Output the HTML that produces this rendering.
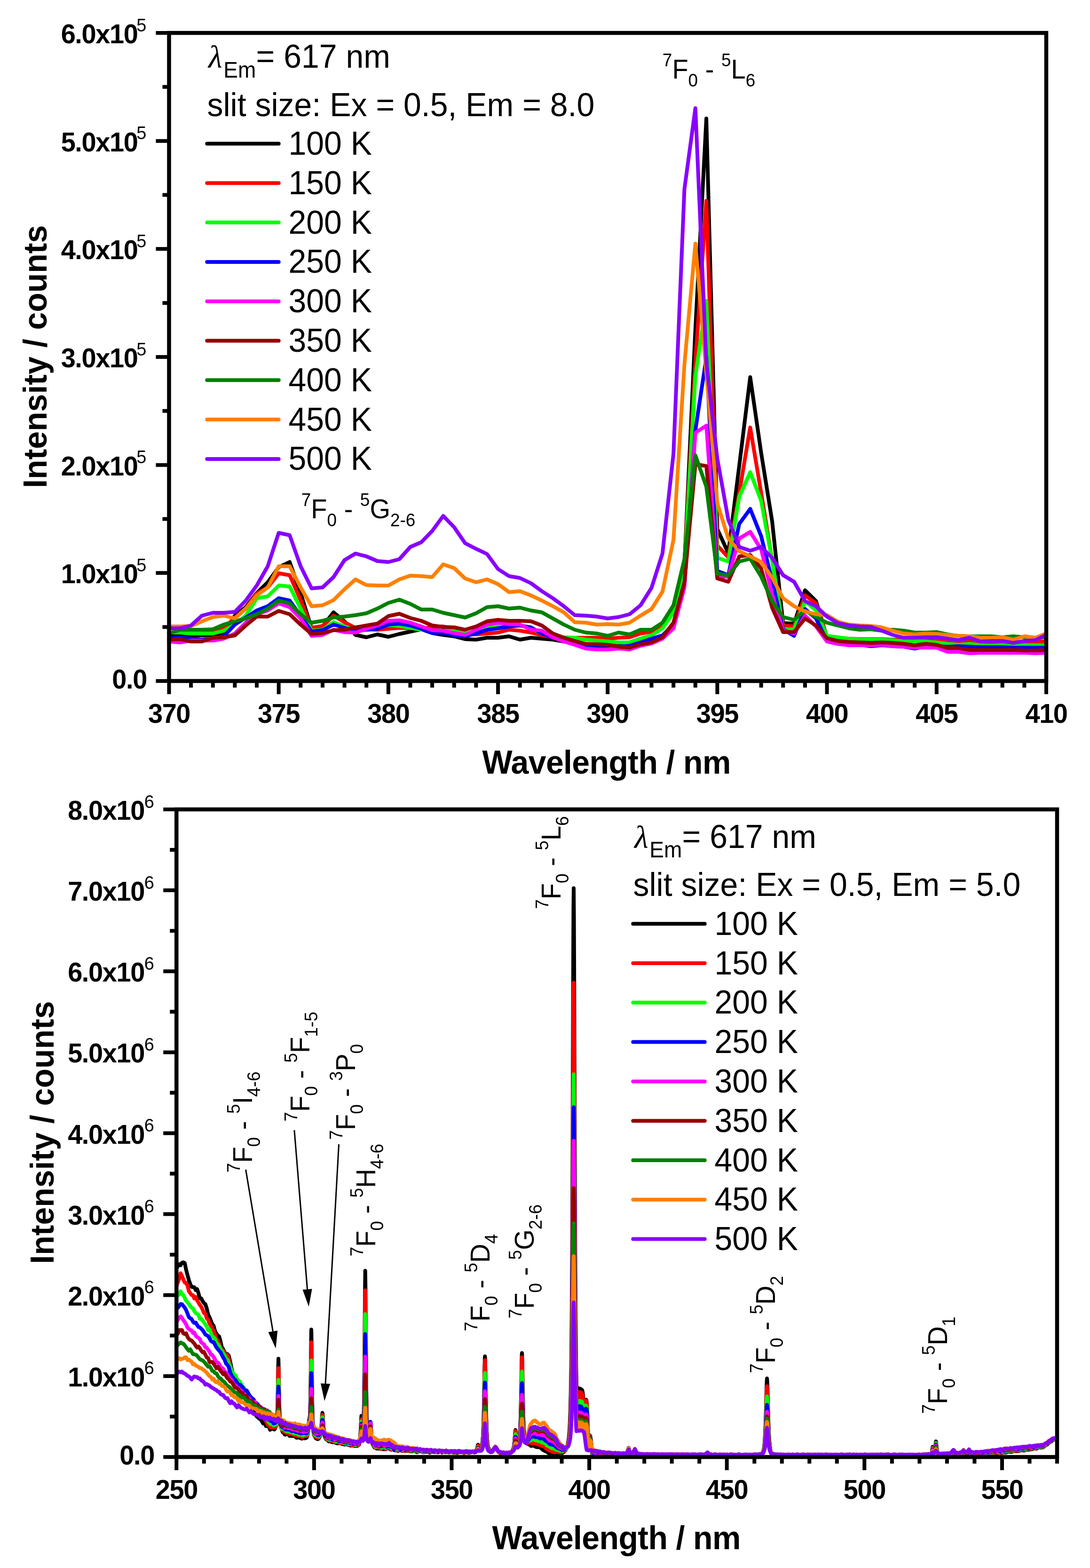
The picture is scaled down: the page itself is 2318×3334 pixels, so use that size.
<!DOCTYPE html><html><head><meta charset="utf-8"><style>html,body{margin:0;padding:0;background:#fff}svg{display:block}</style></head><body><svg width="2318" height="3334" viewBox="0 0 2318 3334">
<style>text{font-family:'Liberation Sans', Arial, sans-serif;fill:#000}.tl{font-weight:bold;font-size:56px;letter-spacing:-1.4px}.sp{font-size:38px}.ti{font-weight:bold;font-size:68px}.lg{font-size:68px}.an{font-size:56px}.an .s{font-size:37px}</style>
<rect width="2318" height="3334" fill="#fff"/>
<path d="M359.5 1349.0L382.8 1350.0L406.1 1351.0L429.5 1351.0L452.8 1350.0L476.1 1347.0L499.4 1309.0L522.7 1291.0L546.0 1261.0L569.4 1238.0L592.7 1206.0L616.0 1195.0L639.3 1261.0L662.6 1336.0L686.0 1332.0L709.3 1302.0L732.6 1321.0L755.9 1350.0L779.2 1355.0L802.6 1349.0L825.9 1354.0L849.2 1348.0L872.5 1343.0L895.8 1338.0L919.1 1346.0L942.5 1350.0L965.8 1353.0L989.1 1359.0L1012.4 1360.0L1035.7 1356.0L1059.1 1356.0L1082.4 1353.0L1105.7 1360.0L1129.0 1356.0L1152.3 1358.0L1175.7 1360.0L1199.0 1364.0L1222.3 1368.0L1245.6 1370.0L1268.9 1370.0L1292.2 1370.0L1315.6 1368.0L1338.9 1366.0L1362.2 1358.0L1385.5 1351.0L1408.8 1334.0L1432.2 1295.0L1455.5 1200.0L1478.8 700.0L1502.1 252.0L1525.4 1125.0L1548.8 1176.0L1572.1 990.0L1595.4 802.0L1618.7 963.0L1642.0 1108.0L1665.3 1325.0L1688.7 1326.0L1712.0 1255.0L1735.3 1278.0L1758.6 1355.0L1781.9 1361.0L1805.3 1366.0L1828.6 1368.0L1851.9 1370.0L1875.2 1370.0L1898.5 1371.0L1921.9 1372.0L1945.2 1373.0L1968.5 1372.0L1991.8 1372.0L2015.1 1373.0L2038.5 1373.0L2061.8 1374.0L2085.1 1375.0L2108.4 1375.0L2131.7 1375.0L2155.0 1375.0L2178.4 1372.0L2201.7 1371.0L2225.0 1371.0" fill="none" stroke="#000000" stroke-width="8" stroke-linejoin="round" stroke-linecap="round"/>
<path d="M359.5 1345.0L382.8 1345.0L406.1 1341.0L429.5 1341.0L452.8 1341.0L476.1 1336.0L499.4 1313.0L522.7 1294.0L546.0 1262.0L569.4 1249.0L592.7 1219.0L616.0 1223.0L639.3 1276.0L662.6 1335.0L686.0 1331.0L709.3 1309.0L732.6 1323.0L755.9 1335.0L779.2 1338.0L802.6 1339.0L825.9 1337.0L849.2 1335.0L872.5 1336.0L895.8 1336.0L919.1 1334.0L942.5 1332.0L965.8 1339.0L989.1 1347.0L1012.4 1349.0L1035.7 1347.0L1059.1 1345.0L1082.4 1339.0L1105.7 1341.0L1129.0 1345.0L1152.3 1351.0L1175.7 1355.0L1199.0 1356.0L1222.3 1356.0L1245.6 1356.0L1268.9 1356.0L1292.2 1358.0L1315.6 1356.0L1338.9 1355.0L1362.2 1347.0L1385.5 1343.0L1408.8 1332.0L1432.2 1298.0L1455.5 1200.0L1478.8 770.0L1502.1 427.0L1525.4 1160.0L1548.8 1185.0L1572.1 1048.0L1595.4 909.0L1618.7 1048.0L1642.0 1191.0L1665.3 1330.0L1688.7 1332.0L1712.0 1266.0L1735.3 1283.0L1758.6 1355.0L1781.9 1357.0L1805.3 1358.0L1828.6 1359.0L1851.9 1359.0L1875.2 1359.0L1898.5 1360.0L1921.9 1360.0L1945.2 1361.0L1968.5 1361.0L1991.8 1361.0L2015.1 1362.0L2038.5 1364.0L2061.8 1364.0L2085.1 1366.0L2108.4 1366.0L2131.7 1366.0L2155.0 1365.0L2178.4 1365.0L2201.7 1364.0L2225.0 1364.0" fill="none" stroke="#FF0000" stroke-width="8" stroke-linejoin="round" stroke-linecap="round"/>
<path d="M359.5 1345.0L382.8 1345.0L406.1 1347.0L429.5 1347.0L452.8 1347.0L476.1 1341.0L499.4 1328.0L522.7 1309.0L546.0 1272.0L569.4 1268.0L592.7 1245.0L616.0 1247.0L639.3 1294.0L662.6 1341.0L686.0 1339.0L709.3 1323.0L732.6 1332.0L755.9 1340.0L779.2 1339.0L802.6 1335.0L825.9 1329.0L849.2 1331.0L872.5 1335.0L895.8 1339.0L919.1 1341.0L942.5 1340.0L965.8 1342.0L989.1 1347.0L1012.4 1343.0L1035.7 1336.0L1059.1 1330.0L1082.4 1330.0L1105.7 1330.0L1129.0 1336.0L1152.3 1347.0L1175.7 1351.0L1199.0 1355.0L1222.3 1356.0L1245.6 1360.0L1268.9 1362.0L1292.2 1364.0L1315.6 1366.0L1338.9 1366.0L1362.2 1358.0L1385.5 1351.0L1408.8 1336.0L1432.2 1302.0L1455.5 1208.0L1478.8 800.0L1502.1 640.0L1525.4 1186.0L1548.8 1194.0L1572.1 1056.0L1595.4 1004.0L1618.7 1065.0L1642.0 1191.0L1665.3 1338.0L1688.7 1338.0L1712.0 1278.0L1735.3 1298.0L1758.6 1352.0L1781.9 1355.0L1805.3 1358.0L1828.6 1360.0L1851.9 1360.0L1875.2 1360.0L1898.5 1361.0L1921.9 1364.0L1945.2 1363.0L1968.5 1364.0L1991.8 1366.0L2015.1 1369.0L2038.5 1371.0L2061.8 1369.0L2085.1 1372.0L2108.4 1373.0L2131.7 1372.0L2155.0 1373.0L2178.4 1372.0L2201.7 1372.0L2225.0 1372.0" fill="none" stroke="#00FF00" stroke-width="8" stroke-linejoin="round" stroke-linecap="round"/>
<path d="M359.5 1356.0L382.8 1356.0L406.1 1358.0L429.5 1360.0L452.8 1358.0L476.1 1353.0L499.4 1328.0L522.7 1313.0L546.0 1298.0L569.4 1289.0L592.7 1272.0L616.0 1277.0L639.3 1309.0L662.6 1343.0L686.0 1340.0L709.3 1328.0L732.6 1335.0L755.9 1341.0L779.2 1339.0L802.6 1337.0L825.9 1328.0L849.2 1326.0L872.5 1330.0L895.8 1337.0L919.1 1346.0L942.5 1345.0L965.8 1351.0L989.1 1353.0L1012.4 1347.0L1035.7 1339.0L1059.1 1336.0L1082.4 1332.0L1105.7 1330.0L1129.0 1334.0L1152.3 1347.0L1175.7 1356.0L1199.0 1362.0L1222.3 1368.0L1245.6 1373.0L1268.9 1375.0L1292.2 1377.0L1315.6 1375.0L1338.9 1373.0L1362.2 1366.0L1385.5 1358.0L1408.8 1351.0L1432.2 1328.0L1455.5 1245.0L1478.8 915.0L1502.1 760.0L1525.4 1214.0L1548.8 1223.0L1572.1 1114.0L1595.4 1082.0L1618.7 1140.0L1642.0 1235.0L1665.3 1338.0L1688.7 1352.0L1712.0 1295.0L1735.3 1315.0L1758.6 1363.0L1781.9 1369.0L1805.3 1370.0L1828.6 1371.0L1851.9 1374.0L1875.2 1372.0L1898.5 1374.0L1921.9 1375.0L1945.2 1379.0L1968.5 1375.0L1991.8 1374.0L2015.1 1375.0L2038.5 1374.0L2061.8 1375.0L2085.1 1376.0L2108.4 1376.0L2131.7 1376.0L2155.0 1377.0L2178.4 1377.0L2201.7 1377.0L2225.0 1377.0" fill="none" stroke="#0000FF" stroke-width="8" stroke-linejoin="round" stroke-linecap="round"/>
<path d="M359.5 1364.0L382.8 1366.0L406.1 1362.0L429.5 1362.0L452.8 1362.0L476.1 1358.0L499.4 1347.0L522.7 1324.0L546.0 1306.0L569.4 1298.0L592.7 1283.0L616.0 1291.0L639.3 1315.0L662.6 1352.0L686.0 1350.0L709.3 1339.0L732.6 1344.0L755.9 1345.0L779.2 1337.0L802.6 1330.0L825.9 1320.0L849.2 1319.0L872.5 1324.0L895.8 1332.0L919.1 1340.0L942.5 1341.0L965.8 1346.0L989.1 1350.0L1012.4 1339.0L1035.7 1328.0L1059.1 1324.0L1082.4 1327.0L1105.7 1328.0L1129.0 1339.0L1152.3 1341.0L1175.7 1355.0L1199.0 1364.0L1222.3 1371.0L1245.6 1379.0L1268.9 1381.0L1292.2 1381.0L1315.6 1379.0L1338.9 1381.0L1362.2 1373.0L1385.5 1368.0L1408.8 1358.0L1432.2 1336.0L1455.5 1249.0L1478.8 920.0L1502.1 905.0L1525.4 1226.0L1548.8 1226.0L1572.1 1145.0L1595.4 1131.0L1618.7 1168.0L1642.0 1263.0L1665.3 1341.0L1688.7 1347.0L1712.0 1309.0L1735.3 1332.0L1758.6 1364.0L1781.9 1369.0L1805.3 1372.0L1828.6 1372.0L1851.9 1372.0L1875.2 1371.0L1898.5 1374.0L1921.9 1375.0L1945.2 1377.0L1968.5 1377.0L1991.8 1377.0L2015.1 1386.0L2038.5 1386.0L2061.8 1389.0L2085.1 1388.0L2108.4 1388.0L2131.7 1388.0L2155.0 1388.0L2178.4 1388.0L2201.7 1389.0L2225.0 1388.0" fill="none" stroke="#FF00FF" stroke-width="8" stroke-linejoin="round" stroke-linecap="round"/>
<path d="M359.5 1360.0L382.8 1359.0L406.1 1364.0L429.5 1364.0L452.8 1356.0L476.1 1355.0L499.4 1351.0L522.7 1330.0L546.0 1311.0L569.4 1311.0L592.7 1299.0L616.0 1306.0L639.3 1328.0L662.6 1348.0L686.0 1346.0L709.3 1340.0L732.6 1339.0L755.9 1334.0L779.2 1330.0L802.6 1326.0L825.9 1310.0L849.2 1305.0L872.5 1314.0L895.8 1320.0L919.1 1330.0L942.5 1333.0L965.8 1334.0L989.1 1339.0L1012.4 1332.0L1035.7 1321.0L1059.1 1318.0L1082.4 1320.0L1105.7 1320.0L1129.0 1321.0L1152.3 1330.0L1175.7 1347.0L1199.0 1356.0L1222.3 1363.0L1245.6 1369.0L1268.9 1370.0L1292.2 1371.0L1315.6 1375.0L1338.9 1377.0L1362.2 1370.0L1385.5 1366.0L1408.8 1355.0L1432.2 1324.0L1455.5 1238.0L1478.8 987.0L1502.1 991.0L1525.4 1230.0L1548.8 1237.0L1572.1 1183.0L1595.4 1180.0L1618.7 1209.0L1642.0 1292.0L1665.3 1344.0L1688.7 1344.0L1712.0 1315.0L1735.3 1330.0L1758.6 1357.0L1781.9 1363.0L1805.3 1365.0L1828.6 1366.0L1851.9 1367.0L1875.2 1366.0L1898.5 1367.0L1921.9 1369.0L1945.2 1372.0L1968.5 1369.0L1991.8 1371.0L2015.1 1378.0L2038.5 1378.0L2061.8 1382.0L2085.1 1382.0L2108.4 1382.0L2131.7 1382.0L2155.0 1382.0L2178.4 1383.0L2201.7 1383.0L2225.0 1382.0" fill="none" stroke="#960000" stroke-width="8" stroke-linejoin="round" stroke-linecap="round"/>
<path d="M359.5 1347.0L382.8 1339.0L406.1 1339.0L429.5 1339.0L452.8 1338.0L476.1 1328.0L499.4 1321.0L522.7 1315.0L546.0 1306.0L569.4 1294.0L592.7 1277.0L616.0 1283.0L639.3 1306.0L662.6 1324.0L686.0 1320.0L709.3 1313.0L732.6 1311.0L755.9 1308.0L779.2 1304.0L802.6 1294.0L825.9 1282.0L849.2 1275.0L872.5 1284.0L895.8 1296.0L919.1 1296.0L942.5 1303.0L965.8 1308.0L989.1 1313.0L1012.4 1304.0L1035.7 1291.0L1059.1 1289.0L1082.4 1294.0L1105.7 1292.0L1129.0 1298.0L1152.3 1302.0L1175.7 1315.0L1199.0 1328.0L1222.3 1339.0L1245.6 1345.0L1268.9 1347.0L1292.2 1352.0L1315.6 1345.0L1338.9 1349.0L1362.2 1339.0L1385.5 1339.0L1408.8 1324.0L1432.2 1287.0L1455.5 1189.0L1478.8 968.0L1502.1 1035.0L1525.4 1220.0L1548.8 1223.0L1572.1 1194.0L1595.4 1188.0L1618.7 1226.0L1642.0 1278.0L1665.3 1312.0L1688.7 1318.0L1712.0 1298.0L1735.3 1312.0L1758.6 1324.0L1781.9 1330.0L1805.3 1336.0L1828.6 1339.0L1851.9 1338.0L1875.2 1341.0L1898.5 1339.0L1921.9 1341.0L1945.2 1345.0L1968.5 1345.0L1991.8 1344.0L2015.1 1349.0L2038.5 1352.0L2061.8 1353.0L2085.1 1353.0L2108.4 1353.0L2131.7 1355.0L2155.0 1353.0L2178.4 1355.0L2201.7 1356.0L2225.0 1355.0" fill="none" stroke="#008000" stroke-width="8" stroke-linejoin="round" stroke-linecap="round"/>
<path d="M359.5 1332.0L382.8 1332.0L406.1 1331.0L429.5 1321.0L452.8 1312.0L476.1 1309.0L499.4 1315.0L522.7 1294.0L546.0 1266.0L569.4 1249.0L592.7 1204.0L616.0 1204.0L639.3 1249.0L662.6 1289.0L686.0 1287.0L709.3 1276.0L732.6 1253.0L755.9 1232.0L779.2 1244.0L802.6 1245.0L825.9 1245.0L849.2 1232.0L872.5 1224.0L895.8 1225.0L919.1 1227.0L942.5 1200.0L965.8 1208.0L989.1 1230.0L1012.4 1238.0L1035.7 1232.0L1059.1 1242.0L1082.4 1259.0L1105.7 1257.0L1129.0 1266.0L1152.3 1277.0L1175.7 1289.0L1199.0 1302.0L1222.3 1323.0L1245.6 1324.0L1268.9 1328.0L1292.2 1327.0L1315.6 1328.0L1338.9 1324.0L1362.2 1309.0L1385.5 1295.0L1408.8 1258.0L1432.2 1148.0L1455.5 775.0L1478.8 518.0L1502.1 792.0L1525.4 1070.0L1548.8 1145.0L1572.1 1172.0L1595.4 1183.0L1618.7 1195.0L1642.0 1228.0L1665.3 1272.0L1688.7 1289.0L1712.0 1300.0L1735.3 1306.0L1758.6 1308.0L1781.9 1322.0L1805.3 1328.0L1828.6 1330.0L1851.9 1331.0L1875.2 1334.0L1898.5 1341.0L1921.9 1347.0L1945.2 1349.0L1968.5 1347.0L1991.8 1348.0L2015.1 1350.0L2038.5 1352.0L2061.8 1353.0L2085.1 1356.0L2108.4 1356.0L2131.7 1355.0L2155.0 1360.0L2178.4 1353.0L2201.7 1356.0L2225.0 1347.0" fill="none" stroke="#FF8000" stroke-width="8" stroke-linejoin="round" stroke-linecap="round"/>
<path d="M359.5 1336.0L382.8 1336.0L406.1 1330.0L429.5 1309.0L452.8 1303.0L476.1 1303.0L499.4 1301.0L522.7 1277.0L546.0 1245.0L569.4 1204.0L592.7 1133.0L616.0 1138.0L639.3 1204.0L662.6 1251.0L686.0 1249.0L709.3 1227.0L732.6 1191.0L755.9 1177.0L779.2 1183.0L802.6 1193.0L825.9 1195.0L849.2 1189.0L872.5 1163.0L895.8 1153.0L919.1 1129.0L942.5 1097.0L965.8 1121.0L989.1 1155.0L1012.4 1167.0L1035.7 1178.0L1059.1 1210.0L1082.4 1225.0L1105.7 1229.0L1129.0 1240.0L1152.3 1257.0L1175.7 1272.0L1199.0 1289.0L1222.3 1308.0L1245.6 1309.0L1268.9 1311.0L1292.2 1315.0L1315.6 1312.0L1338.9 1306.0L1362.2 1287.0L1385.5 1250.0L1408.8 1177.0L1432.2 965.0L1455.5 402.0L1478.8 230.0L1502.1 770.0L1525.4 975.0L1548.8 1105.0L1572.1 1163.0L1595.4 1171.0L1618.7 1163.0L1642.0 1186.0L1665.3 1223.0L1688.7 1237.0L1712.0 1278.0L1735.3 1289.0L1758.6 1311.0L1781.9 1325.0L1805.3 1330.0L1828.6 1332.0L1851.9 1333.0L1875.2 1341.0L1898.5 1350.0L1921.9 1356.0L1945.2 1356.0L1968.5 1355.0L1991.8 1355.0L2015.1 1358.0L2038.5 1361.0L2061.8 1356.0L2085.1 1364.0L2108.4 1363.0L2131.7 1363.0L2155.0 1367.0L2178.4 1363.0L2201.7 1361.0L2225.0 1350.0" fill="none" stroke="#8800FF" stroke-width="8" stroke-linejoin="round" stroke-linecap="round"/>
<path d="M1229.0 2952.4L1229.5 2952.3L1230.0 2952.2L1230.5 2952.2L1231.0 2952.3L1231.5 2952.3L1232.0 2952.4L1232.5 2952.4L1233.0 2952.5L1233.5 2952.6L1234.0 2952.7L1234.5 2952.8L1235.0 2953.0L1235.5 2953.2L1236.0 2953.5L1236.5 2953.9L1237.0 2954.4L1237.5 2955.2L1238.0 2956.4L1238.5 2958.0L1239.0 2960.5L1239.5 2964.0L1240.0 2968.9L1240.5 2975.7L1241.0 2984.7L1241.5 2996.0L1242.0 3009.3L1242.5 3015.6L1243.0 3000.6L1243.5 2989.9L1244.0 2983.1L1244.5 2979.2L1245.0 2977.1L1245.5 2976.1L1246.0 2975.8L1246.5 2976.2L1247.0 2977.3L1247.5 2979.6L1248.0 2983.7L1248.5 2990.6L1249.0 3001.4L1249.5 3016.6L1250.0 3034.8L1250.5 3053.0L1251.0 3055.9L1251.5 3053.4L1252.0 3052.0L1252.5 3051.2L1253.0 3050.9L1253.5 3050.9L1254.0 3051.0L1254.5 3051.5L1255.0 3052.4L1255.5 3054.0L1256.0 3056.6L1256.0 3057.5L1255.5 3055.0L1255.0 3053.6L1254.5 3052.7L1254.0 3052.3L1253.5 3052.2L1253.0 3052.2L1252.5 3052.5L1252.0 3053.2L1251.5 3054.6L1251.0 3056.9L1250.5 3052.8L1250.0 3035.2L1249.5 3017.6L1249.0 3002.9L1248.5 2992.5L1248.0 2985.8L1247.5 2981.9L1247.0 2979.8L1246.5 2978.7L1246.0 2978.3L1245.5 2978.6L1245.0 2979.5L1244.5 2981.6L1244.0 2985.4L1243.5 2991.9L1243.0 3002.3L1242.5 3016.8L1242.0 3013.4L1241.5 3000.9L1241.0 2990.4L1240.5 2982.0L1240.0 2975.6L1239.5 2971.0L1239.0 2967.7L1238.5 2965.4L1238.0 2963.9L1237.5 2962.8L1237.0 2962.1L1236.5 2961.6L1236.0 2961.2L1235.5 2961.0L1235.0 2960.8L1234.5 2960.7L1234.0 2960.5L1233.5 2960.5L1233.0 2960.4L1232.5 2960.3L1232.0 2960.3L1231.5 2960.2L1231.0 2960.2L1230.5 2960.2L1230.0 2960.2L1229.5 2960.2L1229.0 2960.3Z" fill="#000000"/>
<path d="M375.3 2697.1L378.2 2692.4L381.2 2688.2L384.1 2690.2L387.0 2684.9L389.9 2684.1L392.9 2685.5L395.8 2700.0L398.7 2710.7L401.6 2721.6L404.6 2730.3L407.5 2736.3L410.4 2736.7L413.3 2736.9L416.3 2743.2L419.2 2740.9L422.1 2749.8L425.0 2760.7L428.0 2760.8L430.9 2766.6L433.8 2770.8L436.7 2773.2L439.7 2781.9L442.6 2795.1L445.5 2800.6L448.5 2808.3L451.4 2815.5L454.3 2818.9L457.2 2829.9L460.2 2835.8L463.1 2839.6L466.0 2841.5L468.9 2851.8L471.9 2865.1L474.8 2868.9L477.7 2875.3L480.6 2879.6L483.6 2879.2L486.5 2882.5L489.4 2894.5L492.3 2908.6L495.3 2919.7L498.2 2927.8L501.1 2930.5L504.0 2935.8L507.0 2941.5L509.9 2944.5L512.8 2944.9L515.7 2950.3L518.7 2959.4L521.6 2957.6L524.5 2962.2L527.5 2968.6L530.4 2972.3L533.3 2979.8L536.2 2984.7L539.2 2992.2L542.1 3001.5L545.0 3010.9L547.9 3013.2L550.9 3016.2L553.8 3017.6L556.7 3021.7L559.6 3026.6L562.6 3025.8L565.5 3032.2L567.0 3030.5L568.4 3031.9L569.9 3033.1L571.3 3032.6L572.8 3036.0L574.3 3040.1L575.7 3039.4L577.2 3037.7L578.7 3037.9L580.1 3037.9L581.6 3038.4L582.2 3039.0L582.8 3039.5L583.3 3039.6L583.9 3039.2L584.5 3038.2L585.1 3036.9L585.7 3035.4L586.3 3033.8L586.8 3032.0L587.4 3029.8L588.0 3026.7L588.6 3021.9L589.2 3014.2L589.8 3001.4L590.4 2980.0L590.9 2947.0L591.5 2908.3L592.1 2889.1L592.7 2908.5L593.3 2947.4L593.9 2980.9L594.5 3003.1L595.0 3016.7L595.6 3025.2L596.2 3030.4L596.8 3033.5L597.4 3035.2L598.0 3036.2L598.6 3037.2L599.1 3038.7L599.7 3040.6L600.3 3042.7L600.9 3044.5L601.5 3045.6L602.1 3046.0L602.7 3045.9L603.2 3045.9L603.8 3046.5L605.3 3050.1L606.7 3050.6L608.2 3047.7L609.7 3049.0L611.1 3049.7L612.6 3049.4L614.1 3050.7L615.5 3053.0L617.0 3053.0L618.5 3052.6L619.9 3053.4L621.4 3053.3L624.3 3053.3L627.2 3054.1L630.2 3056.9L633.1 3056.9L634.5 3056.1L636.0 3055.7L637.5 3056.7L638.9 3058.0L640.4 3058.6L641.9 3059.0L643.3 3058.2L644.8 3056.7L646.2 3057.2L647.7 3058.4L649.2 3058.0L650.6 3057.5L651.2 3057.4L651.8 3057.1L652.4 3056.4L653.0 3055.1L653.6 3053.3L654.1 3051.1L654.7 3048.3L655.3 3044.4L655.9 3038.6L656.5 3029.9L657.1 3020.8L657.4 3017.8L657.7 3016.4L658.2 3015.9L658.8 3012.0L659.4 2999.6L660.0 2974.9L660.6 2934.3L661.2 2879.7L661.8 2834.1L662.0 2827.1L662.3 2834.6L662.9 2881.2L663.5 2937.1L664.1 2979.8L664.7 3007.7L665.3 3025.2L665.9 3036.4L666.4 3043.4L667.0 3047.9L667.6 3050.5L668.2 3052.0L668.8 3053.1L669.4 3054.1L669.9 3055.1L670.5 3056.3L671.1 3057.3L671.7 3058.1L672.3 3058.6L672.9 3058.9L673.5 3059.1L674.0 3059.4L674.6 3059.6L675.2 3059.9L675.8 3060.0L676.4 3059.9L677.0 3059.5L677.6 3058.9L678.1 3058.2L678.7 3057.4L679.3 3056.5L679.9 3055.3L680.5 3053.8L681.1 3051.8L681.7 3048.9L682.2 3045.0L682.8 3039.7L683.4 3032.8L684.0 3024.1L684.6 3014.8L685.2 3007.1L685.7 3004.1L686.3 3007.6L686.9 3015.9L687.5 3026.1L688.1 3035.5L688.7 3043.0L689.3 3048.4L689.8 3052.1L690.4 3054.5L691.0 3056.1L691.6 3057.3L692.2 3058.3L692.8 3059.2L693.4 3060.0L693.9 3060.5L694.5 3060.8L695.1 3060.9L695.7 3061.2L696.3 3061.7L696.9 3062.5L697.5 3063.4L698.9 3064.7L700.4 3063.9L701.8 3064.1L703.3 3065.6L704.8 3065.7L706.2 3065.8L707.7 3066.8L709.2 3065.9L710.6 3064.6L712.1 3066.0L713.5 3067.9L715.0 3068.3L717.9 3069.2L720.9 3067.8L723.8 3069.3L726.7 3069.9L729.6 3070.8L732.6 3071.4L735.5 3071.3L738.4 3071.3L741.3 3072.4L742.8 3072.3L744.3 3073.6L745.7 3073.7L747.2 3073.0L748.7 3073.8L750.1 3074.1L751.6 3072.9L753.0 3073.4L754.5 3074.8L756.0 3074.1L757.4 3073.6L758.0 3073.9L758.6 3074.3L759.2 3074.5L759.8 3074.3L760.4 3073.9L760.9 3073.4L761.5 3072.9L762.1 3072.7L762.7 3072.4L763.3 3071.9L763.9 3070.8L764.5 3068.7L765.0 3065.3L765.6 3060.3L766.2 3053.1L766.8 3043.0L767.4 3030.0L768.0 3016.9L768.6 3010.4L769.1 3014.9L769.7 3025.7L770.3 3035.7L770.9 3041.6L771.5 3043.1L772.1 3040.2L772.7 3032.4L773.2 3018.0L773.8 2994.0L774.4 2955.7L775.0 2897.4L775.6 2818.8L776.2 2738.7L776.7 2702.1L777.3 2738.3L777.9 2818.1L778.5 2896.6L779.1 2954.9L779.7 2993.9L780.3 3019.2L780.8 3035.6L781.4 3046.3L782.0 3053.1L782.6 3057.3L783.2 3059.4L783.8 3060.1L784.4 3059.4L784.9 3057.0L785.5 3052.6L786.1 3045.6L786.7 3036.3L787.3 3027.5L787.9 3023.9L788.5 3028.2L789.0 3038.0L789.6 3048.7L790.2 3057.6L790.8 3063.8L791.4 3067.9L792.0 3070.2L792.5 3071.5L793.1 3072.4L793.7 3073.3L794.3 3074.3L794.9 3075.5L795.5 3076.6L796.1 3077.4L796.6 3077.8L797.2 3077.9L797.8 3077.9L798.4 3078.1L799.0 3078.6L799.6 3079.3L801.0 3080.1L802.5 3079.0L804.0 3079.2L805.4 3080.4L806.9 3079.9L808.3 3079.3L809.8 3080.1L811.3 3080.3L812.7 3080.0L814.2 3081.0L815.7 3081.6L817.1 3081.3L820.1 3081.6L823.0 3079.9L825.9 3078.5L827.7 3079.8L828.8 3080.9L831.8 3082.6L834.7 3080.7L837.6 3083.2L840.5 3083.8L843.5 3083.9L846.4 3085.0L849.3 3083.3L852.2 3084.2L855.2 3084.9L858.1 3085.1L861.0 3084.8L863.9 3085.0L866.9 3085.0L869.8 3084.8L872.7 3086.1L875.6 3086.1L878.6 3085.7L881.5 3084.5L884.4 3086.5L887.4 3087.8L890.3 3085.8L893.2 3085.9L896.1 3086.3L899.1 3087.6L902.0 3087.4L904.9 3087.0L907.8 3086.4L910.8 3086.5L913.7 3088.7L916.6 3087.3L919.5 3086.6L922.5 3087.2L925.4 3087.5L928.3 3087.7L931.2 3088.1L934.2 3087.3L937.1 3086.3L940.0 3088.7L942.9 3087.9L945.9 3087.6L948.8 3087.7L951.7 3087.2L954.6 3088.6L957.6 3087.6L960.5 3088.3L963.4 3088.4L966.4 3086.7L969.3 3087.9L972.2 3089.4L975.1 3087.9L978.1 3087.0L981.0 3088.1L983.9 3087.3L986.8 3089.6L989.8 3088.2L992.7 3085.4L995.6 3088.7L998.5 3088.9L1001.5 3087.7L1004.4 3086.7L1005.9 3086.8L1007.3 3086.6L1008.8 3087.1L1010.2 3087.2L1011.7 3086.2L1013.2 3083.8L1014.6 3078.8L1016.1 3072.8L1016.7 3072.0L1017.6 3073.6L1019.0 3078.6L1020.5 3081.1L1021.1 3081.6L1021.7 3081.6L1022.2 3081.2L1022.8 3080.2L1023.4 3078.7L1024.0 3076.6L1024.6 3074.1L1025.2 3071.1L1025.7 3067.3L1026.3 3062.1L1026.9 3054.6L1027.5 3043.5L1028.1 3027.7L1028.7 3005.7L1029.3 2976.8L1029.8 2942.4L1030.4 2908.7L1031.0 2886.8L1031.3 2883.9L1031.6 2887.1L1032.2 2909.2L1032.8 2942.8L1033.4 2976.5L1033.9 3004.6L1034.5 3026.3L1035.1 3042.4L1035.7 3054.4L1036.3 3063.2L1036.9 3069.4L1037.5 3073.6L1038.0 3076.3L1038.6 3078.0L1039.2 3079.4L1039.8 3080.8L1040.4 3082.3L1041.0 3083.7L1041.6 3084.9L1042.1 3085.7L1042.7 3086.1L1043.3 3086.3L1044.8 3087.0L1046.2 3087.4L1047.7 3085.1L1049.2 3081.8L1050.6 3079.6L1052.1 3077.7L1053.5 3077.1L1055.0 3079.6L1056.5 3082.7L1057.9 3084.6L1059.4 3086.1L1060.9 3087.3L1063.8 3089.1L1066.7 3089.3L1069.6 3090.9L1071.1 3090.6L1072.6 3091.0L1074.0 3090.8L1075.5 3089.5L1077.0 3089.7L1078.4 3090.5L1079.9 3089.6L1081.3 3089.4L1082.8 3090.8L1084.3 3090.4L1085.7 3089.2L1086.3 3089.1L1086.9 3089.0L1087.5 3088.9L1088.1 3088.3L1088.7 3087.3L1089.2 3086.0L1089.8 3084.3L1090.4 3082.7L1091.0 3081.3L1091.6 3079.9L1092.2 3078.0L1092.8 3075.2L1093.3 3070.9L1093.9 3065.0L1094.5 3057.7L1095.1 3049.8L1095.7 3043.3L1096.3 3040.6L1096.9 3042.6L1097.4 3048.1L1098.0 3054.6L1098.6 3060.3L1099.2 3064.6L1099.8 3067.6L1100.4 3069.6L1100.9 3070.8L1101.5 3071.3L1102.1 3071.0L1102.7 3069.9L1103.3 3067.8L1103.9 3064.7L1104.5 3060.4L1105.0 3054.7L1105.6 3046.9L1106.2 3036.0L1106.8 3020.8L1107.4 2999.8L1108.0 2971.7L1108.6 2937.5L1109.1 2903.0L1109.7 2880.1L1110.0 2876.9L1110.3 2880.2L1110.9 2903.2L1111.5 2937.5L1112.1 2971.3L1112.7 2998.7L1113.2 3019.0L1113.8 3033.5L1114.4 3043.7L1115.0 3050.7L1115.6 3055.5L1116.2 3058.9L1116.7 3061.3L1117.3 3063.3L1117.9 3065.1L1118.5 3066.8L1119.1 3068.3L1119.7 3069.3L1120.3 3069.8L1120.8 3069.7L1121.4 3069.4L1122.0 3069.4L1123.5 3070.4L1124.9 3071.4L1126.4 3071.3L1127.9 3072.7L1129.3 3074.6L1130.8 3074.0L1132.3 3073.2L1133.7 3074.2L1135.2 3074.4L1136.6 3074.0L1138.1 3075.5L1139.6 3076.6L1142.5 3077.1L1145.4 3077.2L1148.3 3077.4L1151.3 3079.9L1154.2 3082.7L1157.1 3084.1L1160.1 3085.7L1163.0 3086.7L1165.9 3089.4L1168.8 3090.8L1171.8 3091.2L1174.7 3091.8L1177.6 3093.5L1180.5 3093.1L1183.5 3091.0L1186.4 3092.3L1189.3 3090.2L1192.2 3088.6L1193.7 3089.1L1195.2 3089.8L1196.6 3089.0L1198.1 3088.0L1199.6 3087.0L1201.0 3085.4L1202.5 3083.5L1203.9 3080.8L1205.4 3077.1L1206.9 3072.7L1208.3 3065.6L1208.9 3061.6L1209.5 3056.7L1210.1 3050.9L1210.7 3043.7L1211.3 3034.9L1211.8 3023.7L1212.4 3009.4L1213.0 2990.8L1213.6 2966.8L1214.2 2935.7L1214.8 2894.9L1215.4 2841.3L1215.9 2770.2L1216.5 2676.4L1217.1 2554.7L1217.7 2403.5L1218.3 2230.2L1218.9 2058.6L1219.5 1930.4L1220.0 1888.5L1220.6 1950.7L1221.2 2091.5L1221.8 2266.2L1222.4 2436.3L1223.0 2581.6L1223.5 2697.3L1224.1 2786.3L1224.7 2853.7L1225.3 2904.7L1225.9 2943.4L1226.5 2956.1L1227.1 2954.8L1227.6 2953.6L1228.2 2952.6L1228.8 2951.8L1229.4 2951.4L1230.0 2951.4L1230.6 2951.7L1231.2 2952.1L1231.7 2952.4L1232.3 2952.6L1232.9 2952.6L1233.5 2952.6L1234.1 2952.7L1234.7 2953.1L1235.3 2953.6L1235.8 2954.0L1236.4 2954.4L1237.0 2954.8L1237.6 2955.3L1238.2 2956.3L1238.8 2958.3L1239.3 2961.9L1239.9 2967.5L1240.5 2975.7L1241.1 2986.9L1241.7 3001.2L1242.3 3017.6L1242.9 3004.9L1243.4 2991.4L1244.0 2983.4L1244.6 2979.2L1245.2 2977.1L1245.8 2976.2L1246.4 2976.1L1247.0 2976.9L1247.5 2979.2L1248.1 2984.3L1248.7 2993.7L1249.3 3009.1L1249.9 3029.8L1250.5 3051.5L1251.1 3055.5L1251.6 3053.1L1252.2 3052.0L1252.8 3051.6L1253.4 3051.6L1254.0 3051.7L1254.6 3052.1L1255.1 3053.1L1255.7 3055.0L1256.3 3058.8L1256.9 3065.0L1257.5 3073.0L1258.1 3081.2L1258.7 3087.5L1259.2 3091.5L1259.8 3093.6L1260.4 3094.6L1261.0 3095.0L1261.6 3095.1L1262.2 3095.3L1262.8 3095.5L1263.3 3095.6L1263.9 3095.5L1265.4 3095.0L1266.9 3095.7L1268.3 3096.7L1269.8 3096.1L1271.2 3095.7L1272.7 3096.1L1274.2 3095.7L1275.6 3095.2L1277.1 3096.1L1278.6 3096.5L1280.0 3095.9L1281.5 3096.4L1284.4 3096.4L1287.3 3096.3L1290.3 3096.1L1293.2 3096.9L1296.1 3096.4L1299.0 3096.8L1302.0 3096.8L1304.9 3096.4L1307.8 3096.7L1310.7 3097.6L1313.7 3096.5L1316.6 3096.3L1319.5 3097.9L1322.4 3096.2L1325.4 3096.7L1328.3 3097.0L1331.2 3095.3L1334.2 3091.7L1336.8 3079.5L1337.1 3079.9L1340.0 3092.7L1342.9 3096.0L1345.9 3095.0L1348.8 3089.0L1350.2 3086.6L1351.7 3089.7L1354.6 3095.4L1357.6 3096.7L1360.5 3096.6L1363.4 3095.7L1366.3 3098.1L1369.3 3097.3L1372.2 3095.7L1375.1 3097.5L1378.0 3097.1L1381.0 3096.9L1383.9 3097.0L1386.8 3096.7L1389.7 3097.0L1392.7 3097.5L1395.6 3096.6L1398.5 3096.6L1401.4 3097.8L1404.4 3096.8L1407.3 3096.9L1410.2 3096.6L1413.2 3097.3L1416.1 3097.6L1419.0 3096.1L1421.9 3097.1L1424.9 3097.3L1427.8 3096.9L1430.7 3096.9L1433.6 3097.1L1436.6 3096.7L1439.5 3097.0L1442.4 3097.6L1445.3 3096.4L1448.3 3097.0L1451.2 3097.2L1454.1 3097.1L1457.0 3097.0L1460.0 3096.9L1462.9 3097.1L1465.8 3096.6L1468.7 3097.5L1471.7 3096.8L1474.6 3096.7L1477.5 3097.4L1480.5 3096.8L1483.4 3096.9L1486.3 3096.9L1489.2 3097.5L1492.2 3096.7L1495.1 3096.4L1498.0 3097.0L1500.9 3096.7L1503.9 3093.2L1504.7 3092.7L1506.8 3094.0L1509.7 3097.1L1512.6 3096.6L1515.6 3097.1L1518.5 3097.0L1521.4 3096.0L1524.3 3097.8L1527.3 3097.2L1530.2 3096.3L1533.1 3097.1L1536.0 3097.3L1539.0 3096.6L1541.9 3097.1L1544.8 3097.2L1547.7 3096.7L1550.7 3097.1L1553.6 3096.4L1556.5 3097.8L1559.5 3097.1L1562.4 3096.0L1565.3 3097.6L1568.2 3096.8L1571.2 3097.0L1574.1 3097.3L1577.0 3096.3L1579.9 3096.8L1582.9 3097.7L1585.8 3096.6L1588.7 3096.5L1591.6 3097.6L1594.6 3096.2L1597.5 3097.0L1600.4 3097.2L1603.3 3096.4L1604.8 3095.8L1606.3 3096.5L1607.7 3096.2L1609.2 3095.7L1610.7 3096.5L1612.1 3096.7L1613.6 3095.8L1615.0 3095.6L1616.5 3095.0L1618.0 3093.3L1619.4 3091.9L1620.0 3091.5L1620.6 3091.1L1621.2 3090.4L1621.8 3089.4L1622.4 3088.1L1622.9 3086.4L1623.5 3084.3L1624.1 3081.6L1624.7 3078.1L1625.3 3073.6L1625.9 3067.5L1626.5 3059.6L1627.0 3049.3L1627.6 3036.1L1628.2 3019.4L1628.8 2999.2L1629.4 2976.5L1630.0 2954.3L1630.6 2937.4L1631.1 2931.0L1631.7 2937.3L1632.3 2954.2L1632.9 2976.4L1633.5 2999.0L1634.1 3019.1L1634.7 3035.6L1635.2 3048.5L1635.8 3058.6L1636.4 3066.6L1637.0 3072.9L1637.6 3077.9L1638.2 3081.9L1638.7 3084.8L1639.3 3087.0L1639.9 3088.6L1640.5 3089.8L1641.1 3090.8L1641.7 3091.7L1642.3 3092.4L1642.8 3093.0L1644.3 3093.4L1645.8 3093.7L1647.2 3095.4L1648.7 3096.3L1650.2 3095.7L1651.6 3096.0L1653.1 3096.4L1654.5 3096.1L1656.0 3096.6L1657.5 3097.6L1658.9 3097.0L1660.4 3096.0L1663.3 3096.4L1666.3 3097.3L1669.2 3097.0L1672.1 3096.9L1675.0 3096.7L1678.0 3096.7L1680.9 3097.2L1683.8 3097.1L1686.7 3096.7L1689.7 3097.4L1692.6 3096.2L1695.5 3097.0L1698.4 3098.0L1701.4 3096.3L1704.3 3097.1L1707.2 3096.7L1710.1 3096.8L1713.1 3098.0L1716.0 3097.0L1718.9 3095.8L1721.8 3097.1L1724.8 3098.2L1727.7 3096.7L1730.6 3096.5L1733.5 3096.6L1736.5 3097.6L1739.4 3097.4L1742.3 3096.4L1745.3 3097.2L1748.2 3096.7L1751.1 3097.2L1754.0 3097.1L1757.0 3096.9L1759.9 3097.1L1762.8 3096.8L1765.7 3096.8L1768.7 3097.1L1771.6 3097.9L1774.5 3096.4L1777.4 3096.2L1780.4 3097.6L1783.3 3097.7L1786.2 3096.7L1789.1 3096.2L1792.1 3097.3L1795.0 3097.0L1797.9 3097.6L1800.8 3097.0L1803.8 3095.9L1806.7 3097.5L1809.6 3097.4L1812.6 3097.1L1815.5 3096.6L1818.4 3096.6L1821.3 3097.3L1824.3 3097.4L1827.2 3097.0L1830.1 3096.6L1833.0 3096.9L1836.0 3096.9L1838.9 3097.9L1841.8 3096.6L1844.7 3096.3L1847.7 3097.9L1850.6 3096.3L1853.5 3097.2L1856.4 3097.8L1859.4 3096.3L1862.3 3096.5L1865.2 3097.4L1868.1 3097.4L1871.1 3097.1L1874.0 3096.6L1876.9 3096.1L1879.8 3098.0L1882.8 3097.4L1885.7 3096.4L1888.6 3096.7L1891.6 3096.5L1894.5 3098.3L1897.4 3097.0L1900.3 3095.8L1903.3 3097.4L1906.2 3097.3L1909.1 3096.7L1912.0 3097.4L1915.0 3097.1L1917.9 3096.1L1920.8 3097.6L1923.7 3097.2L1926.7 3096.9L1929.6 3097.1L1932.5 3096.2L1935.4 3097.5L1938.4 3097.4L1941.3 3097.0L1944.2 3096.5L1947.1 3096.5L1950.1 3097.7L1953.0 3097.3L1955.9 3096.6L1958.9 3096.4L1961.8 3097.2L1963.2 3097.1L1964.7 3096.6L1966.2 3096.6L1967.6 3096.8L1969.1 3096.7L1970.6 3096.9L1972.0 3096.7L1973.5 3095.4L1974.9 3095.0L1976.4 3095.9L1977.9 3096.0L1979.3 3095.1L1979.9 3094.5L1980.5 3093.7L1981.1 3092.0L1981.7 3089.0L1982.3 3084.5L1982.8 3079.4L1983.4 3076.5L1984.0 3078.0L1984.6 3082.1L1985.2 3085.8L1985.8 3088.2L1986.4 3089.1L1986.9 3088.6L1987.5 3086.7L1988.1 3083.3L1988.7 3078.5L1989.3 3072.5L1989.9 3066.9L1990.5 3064.8L1991.0 3067.6L1991.6 3073.6L1992.2 3079.7L1992.8 3084.5L1993.4 3087.9L1994.0 3090.4L1994.5 3092.3L1995.1 3093.8L1995.7 3094.7L1996.3 3095.2L1996.9 3095.2L1997.5 3095.1L1998.1 3094.8L1998.6 3094.6L1999.2 3094.5L1999.8 3094.6L2000.4 3094.6L2001.0 3094.7L2001.6 3094.7L2002.2 3094.8L2003.6 3095.4L2005.1 3096.1L2006.5 3096.2L2008.0 3096.0L2009.5 3095.7L2010.9 3095.2L2012.4 3095.2L2013.9 3095.1L2015.3 3094.6L2016.8 3094.9L2018.2 3095.5L2019.7 3095.0L2022.6 3094.3L2025.6 3089.8L2027.3 3088.6L2028.5 3089.4L2031.4 3092.4L2034.3 3094.3L2037.3 3095.8L2040.2 3093.6L2043.1 3093.8L2046.0 3092.7L2049.0 3088.3L2051.9 3092.4L2054.8 3093.5L2057.8 3091.2L2060.7 3088.3L2063.6 3092.6L2066.5 3093.1L2069.5 3094.3L2072.4 3093.5L2075.3 3093.3L2078.2 3094.0L2081.2 3093.3L2084.1 3093.3L2087.0 3091.8L2089.9 3092.2L2092.9 3093.5L2095.8 3092.2L2098.7 3090.6L2101.6 3091.4L2104.6 3091.9L2107.5 3091.0L2110.4 3091.0L2113.3 3089.7L2116.3 3090.2L2119.2 3090.9L2122.1 3089.4L2125.0 3089.3L2128.0 3089.2L2130.9 3089.3L2133.8 3088.3L2136.8 3088.4L2139.7 3088.5L2142.6 3087.1L2145.5 3086.9L2148.5 3087.1L2151.4 3087.2L2154.3 3085.8L2157.2 3085.4L2160.2 3085.5L2163.1 3085.4L2166.0 3085.3L2168.9 3084.0L2171.9 3083.8L2174.8 3083.6L2177.7 3084.3L2180.6 3083.1L2183.6 3081.8L2186.5 3082.8L2189.4 3081.9L2192.3 3081.8L2195.3 3081.4L2198.2 3079.8L2201.1 3079.7L2204.1 3080.3L2207.0 3079.1L2209.9 3077.8L2212.8 3078.3L2215.8 3077.3L2218.7 3077.4L2221.6 3074.7L2224.5 3072.4L2227.5 3071.2L2230.4 3067.5L2233.3 3066.3L2236.2 3064.6L2239.2 3062.2L2242.1 3061.0L2245.0 3059.4L2247.9 3057.8" fill="none" stroke="#000000" stroke-width="8" stroke-linejoin="round" stroke-linecap="round"/>
<path d="M1229.0 2960.3L1229.5 2960.2L1230.0 2960.2L1230.5 2960.2L1231.0 2960.2L1231.5 2960.2L1232.0 2960.3L1232.5 2960.3L1233.0 2960.4L1233.5 2960.5L1234.0 2960.5L1234.5 2960.7L1235.0 2960.8L1235.5 2961.0L1236.0 2961.2L1236.5 2961.6L1237.0 2962.1L1237.5 2962.8L1238.0 2963.9L1238.5 2965.4L1239.0 2967.7L1239.5 2971.0L1240.0 2975.6L1240.5 2982.0L1241.0 2990.4L1241.5 3000.9L1242.0 3013.4L1242.5 3016.8L1243.0 3002.3L1243.5 2991.9L1244.0 2985.4L1244.5 2981.6L1245.0 2979.5L1245.5 2978.6L1246.0 2978.3L1246.5 2978.7L1247.0 2979.8L1247.5 2981.9L1248.0 2985.8L1248.5 2992.5L1249.0 3002.9L1249.5 3017.6L1250.0 3035.2L1250.5 3052.8L1251.0 3056.9L1251.5 3054.6L1252.0 3053.2L1252.5 3052.5L1253.0 3052.2L1253.5 3052.2L1254.0 3052.3L1254.5 3052.7L1255.0 3053.6L1255.5 3055.0L1256.0 3057.5L1256.0 3058.9L1255.5 3056.7L1255.0 3055.4L1254.5 3054.6L1254.0 3054.2L1253.5 3054.1L1253.0 3054.2L1252.5 3054.5L1252.0 3055.1L1251.5 3056.3L1251.0 3058.5L1250.5 3055.1L1250.0 3039.3L1249.5 3023.5L1249.0 3010.4L1248.5 3001.1L1248.0 2995.1L1247.5 2991.6L1247.0 2989.7L1246.5 2988.7L1246.0 2988.4L1245.5 2988.6L1245.0 2989.5L1244.5 2991.4L1244.0 2994.8L1243.5 3000.7L1243.0 3009.9L1242.5 3023.0L1242.0 3023.8L1241.5 3013.3L1241.0 3004.3L1240.5 2997.2L1240.0 2991.8L1239.5 2987.9L1239.0 2985.1L1238.5 2983.2L1238.0 2981.9L1237.5 2981.0L1237.0 2980.4L1236.5 2980.0L1236.0 2979.7L1235.5 2979.5L1235.0 2979.3L1234.5 2979.2L1234.0 2979.1L1233.5 2979.1L1233.0 2979.0L1232.5 2979.0L1232.0 2978.9L1231.5 2978.9L1231.0 2978.9L1230.5 2978.9L1230.0 2978.9L1229.5 2978.9L1229.0 2979.0Z" fill="#FF0000"/>
<path d="M375.3 2734.9L378.2 2726.5L381.2 2718.9L384.1 2707.4L387.0 2713.4L389.9 2720.1L392.9 2727.3L395.8 2727.8L398.7 2733.8L401.6 2745.3L404.6 2749.5L407.5 2753.6L410.4 2753.9L413.3 2761.0L416.3 2757.8L419.2 2764.9L422.1 2769.7L425.0 2774.6L428.0 2778.5L430.9 2784.7L433.8 2792.1L436.7 2793.7L439.7 2803.0L442.6 2805.7L445.5 2814.1L448.5 2818.8L451.4 2826.0L454.3 2829.2L457.2 2837.4L460.2 2846.9L463.1 2850.5L466.0 2857.5L468.9 2865.0L471.9 2871.2L474.8 2871.9L477.7 2878.3L480.6 2880.1L483.6 2881.2L486.5 2889.4L489.4 2904.3L492.3 2911.1L495.3 2920.7L498.2 2928.1L501.1 2932.2L504.0 2932.0L507.0 2937.5L509.9 2944.1L512.8 2944.7L515.7 2950.1L518.7 2953.6L521.6 2959.3L524.5 2961.0L527.5 2968.0L530.4 2969.8L533.3 2975.9L536.2 2981.9L539.2 2982.8L542.1 2987.6L545.0 2994.1L547.9 3000.9L550.9 2997.8L553.8 3005.8L556.7 3012.4L559.6 3014.3L562.6 3015.6L565.5 3022.5L567.0 3024.3L568.4 3027.8L569.9 3030.2L571.3 3027.7L572.8 3031.0L574.3 3034.9L575.7 3033.8L577.2 3034.9L578.7 3033.7L580.1 3033.9L581.6 3035.6L582.2 3035.2L582.8 3034.3L583.3 3033.6L583.9 3033.6L584.5 3034.0L585.1 3034.6L585.7 3034.7L586.3 3034.2L586.8 3032.9L587.4 3030.9L588.0 3028.0L588.6 3023.6L589.2 3016.7L589.8 3005.1L590.4 2986.3L590.9 2957.9L591.5 2925.1L592.1 2908.7L592.7 2925.0L593.3 2958.0L593.9 2987.2L594.5 3007.2L595.0 3019.8L595.6 3027.3L596.2 3031.3L596.8 3033.4L597.4 3034.8L598.0 3036.3L598.6 3038.0L599.1 3039.4L599.7 3040.2L600.3 3040.3L600.9 3040.4L601.5 3040.9L602.1 3042.1L602.7 3043.5L603.2 3044.2L603.8 3043.8L605.3 3042.0L606.7 3045.4L608.2 3046.2L609.7 3046.0L611.1 3047.3L612.6 3047.4L614.1 3048.2L615.5 3049.3L617.0 3048.5L618.5 3048.4L619.9 3049.0L621.4 3049.8L624.3 3051.1L627.2 3051.4L630.2 3052.1L633.1 3053.6L634.5 3053.4L636.0 3053.9L637.5 3054.2L638.9 3053.2L640.4 3054.7L641.9 3055.9L643.3 3055.4L644.8 3055.6L646.2 3054.3L647.7 3053.6L649.2 3053.9L650.6 3053.2L651.2 3053.1L651.8 3053.2L652.4 3053.4L653.0 3053.3L653.6 3052.7L654.1 3051.4L654.7 3049.1L655.3 3045.1L655.9 3038.9L656.5 3029.9L657.1 3020.8L657.4 3017.9L657.7 3016.6L658.2 3016.5L658.8 3013.6L659.4 3003.0L660.0 2981.5L660.6 2946.0L661.2 2898.7L661.8 2859.6L662.0 2853.9L662.3 2860.8L662.9 2902.0L663.5 2951.1L664.1 2988.2L664.7 3012.2L665.3 3027.2L665.9 3036.8L666.4 3043.0L667.0 3047.0L667.6 3049.4L668.2 3050.9L668.8 3052.0L669.4 3053.0L669.9 3054.1L670.5 3054.8L671.1 3054.9L671.7 3054.7L672.3 3054.4L672.9 3054.6L673.5 3055.3L674.0 3056.3L674.6 3057.2L675.2 3057.5L675.8 3057.2L676.4 3056.6L677.0 3056.1L677.6 3056.0L678.1 3056.0L678.7 3055.8L679.3 3055.2L679.9 3054.1L680.5 3052.7L681.1 3050.9L681.7 3048.8L682.2 3045.7L682.8 3041.1L683.4 3034.8L684.0 3026.8L684.6 3018.2L685.2 3011.3L685.7 3008.7L686.3 3011.7L686.9 3018.8L687.5 3027.4L688.1 3035.3L688.7 3041.8L689.3 3046.8L689.8 3050.6L690.4 3053.4L691.0 3055.4L691.6 3056.8L692.2 3057.7L692.8 3058.2L693.4 3058.5L693.9 3058.8L694.5 3059.3L695.1 3060.0L695.7 3060.9L696.3 3061.6L696.9 3061.8L697.5 3061.6L698.9 3061.2L700.4 3063.0L701.8 3063.5L703.3 3063.3L704.8 3063.3L706.2 3062.5L707.7 3064.1L709.2 3065.3L710.6 3065.3L712.1 3066.7L713.5 3066.2L715.0 3064.9L717.9 3065.9L720.9 3067.4L723.8 3069.3L726.7 3067.4L729.6 3069.2L732.6 3069.1L735.5 3070.3L738.4 3071.0L741.3 3070.8L742.8 3071.6L744.3 3071.2L745.7 3071.7L747.2 3071.2L748.7 3071.6L750.1 3073.9L751.6 3073.6L753.0 3072.3L754.5 3072.6L756.0 3073.0L757.4 3072.3L758.0 3071.9L758.6 3071.8L759.2 3072.0L759.8 3072.3L760.4 3072.6L760.9 3072.7L761.5 3072.5L762.1 3072.0L762.7 3071.4L763.3 3070.7L763.9 3069.5L764.5 3067.7L765.0 3064.9L765.6 3060.8L766.2 3055.0L766.8 3046.7L767.4 3035.6L768.0 3024.0L768.6 3017.8L769.1 3021.0L769.7 3030.0L770.3 3038.6L770.9 3044.0L771.5 3045.5L772.1 3042.8L772.7 3035.1L773.2 3021.3L773.8 2999.2L774.4 2965.1L775.0 2914.2L775.6 2845.5L776.2 2775.3L776.7 2743.5L777.3 2775.8L777.9 2846.6L778.5 2916.2L779.1 2967.9L779.7 3002.3L780.3 3024.3L780.8 3038.3L781.4 3047.4L782.0 3053.4L782.6 3057.4L783.2 3059.8L783.8 3060.4L784.4 3059.3L784.9 3056.1L785.5 3050.9L786.1 3043.6L786.7 3034.7L787.3 3026.7L787.9 3023.9L788.5 3028.6L789.0 3038.2L789.6 3048.2L790.2 3056.2L790.8 3061.9L791.4 3065.8L792.0 3068.6L792.5 3070.8L793.1 3072.4L793.7 3073.5L794.3 3074.1L794.9 3074.3L795.5 3074.5L796.1 3074.9L796.6 3075.7L797.2 3076.7L797.8 3077.6L798.4 3078.1L799.0 3078.0L799.6 3077.6L801.0 3077.1L802.5 3077.2L804.0 3077.4L805.4 3078.5L806.9 3077.9L808.3 3078.6L809.8 3080.9L811.3 3079.2L812.7 3077.6L814.2 3078.1L815.7 3078.3L817.1 3079.3L820.1 3080.8L823.0 3078.9L825.9 3077.4L827.7 3077.2L828.8 3077.6L831.8 3082.2L834.7 3080.5L837.6 3081.5L840.5 3081.8L843.5 3083.9L846.4 3083.2L849.3 3082.7L852.2 3083.6L855.2 3083.1L858.1 3085.0L861.0 3083.2L863.9 3084.3L866.9 3083.8L869.8 3085.3L872.7 3084.2L875.6 3084.8L878.6 3085.6L881.5 3084.6L884.4 3085.3L887.4 3085.9L890.3 3086.3L893.2 3084.6L896.1 3086.4L899.1 3086.8L902.0 3086.1L904.9 3086.0L907.8 3087.2L910.8 3086.3L913.7 3086.2L916.6 3087.3L919.5 3087.3L922.5 3085.8L925.4 3086.9L928.3 3088.0L931.2 3086.7L934.2 3086.7L937.1 3087.0L940.0 3087.9L942.9 3086.9L945.9 3087.9L948.8 3086.6L951.7 3087.5L954.6 3088.3L957.6 3087.4L960.5 3086.9L963.4 3087.8L966.4 3089.1L969.3 3086.1L972.2 3087.7L975.1 3088.7L978.1 3087.8L981.0 3086.3L983.9 3088.2L986.8 3089.0L989.8 3086.6L992.7 3087.4L995.6 3088.0L998.5 3088.0L1001.5 3087.2L1004.4 3087.5L1005.9 3086.9L1007.3 3086.9L1008.8 3087.3L1010.2 3086.1L1011.7 3086.2L1013.2 3084.8L1014.6 3079.8L1016.1 3074.8L1016.7 3073.9L1017.6 3074.6L1019.0 3078.9L1020.5 3082.0L1021.1 3082.2L1021.7 3082.0L1022.2 3081.5L1022.8 3080.6L1023.4 3079.5L1024.0 3078.0L1024.6 3075.9L1025.2 3073.1L1025.7 3069.0L1026.3 3063.3L1026.9 3055.3L1027.5 3044.2L1028.1 3028.8L1028.7 3008.0L1029.3 2980.9L1029.8 2948.5L1030.4 2916.3L1031.0 2895.1L1031.3 2892.1L1031.6 2895.1L1032.2 2916.4L1032.8 2949.2L1033.4 2982.4L1033.9 3010.0L1034.5 3030.6L1035.1 3045.2L1035.7 3055.3L1036.3 3062.7L1036.9 3068.5L1037.5 3073.2L1038.0 3076.8L1038.6 3079.4L1039.2 3081.0L1039.8 3082.2L1040.4 3083.2L1041.0 3084.3L1041.6 3085.3L1042.1 3086.0L1042.7 3086.1L1043.3 3085.8L1044.8 3085.6L1046.2 3086.1L1047.7 3084.3L1049.2 3083.0L1050.6 3081.5L1052.1 3078.5L1053.5 3077.5L1055.0 3078.6L1056.5 3080.6L1057.9 3083.1L1059.4 3086.1L1060.9 3088.2L1063.8 3089.5L1066.7 3089.6L1069.6 3088.9L1071.1 3090.3L1072.6 3091.4L1074.0 3090.2L1075.5 3090.4L1077.0 3089.8L1078.4 3089.2L1079.9 3090.4L1081.3 3090.4L1082.8 3090.3L1084.3 3089.8L1085.7 3088.4L1086.3 3088.1L1086.9 3088.0L1087.5 3087.9L1088.1 3087.5L1088.7 3086.9L1089.2 3086.0L1089.8 3084.7L1090.4 3083.4L1091.0 3082.1L1091.6 3080.7L1092.2 3078.9L1092.8 3076.3L1093.3 3072.5L1093.9 3067.1L1094.5 3060.1L1095.1 3052.3L1095.7 3045.6L1096.3 3042.7L1096.9 3044.4L1097.4 3049.7L1098.0 3055.9L1098.6 3061.3L1099.2 3065.2L1099.8 3067.9L1100.4 3069.7L1100.9 3070.7L1101.5 3071.0L1102.1 3070.4L1102.7 3069.0L1103.3 3066.8L1103.9 3064.1L1104.5 3060.8L1105.0 3056.2L1105.6 3049.3L1106.2 3039.0L1106.8 3024.3L1107.4 3003.9L1108.0 2977.0L1108.6 2944.5L1109.1 2911.6L1109.7 2889.3L1110.0 2885.8L1110.3 2888.4L1110.9 2909.2L1111.5 2941.2L1112.1 2973.2L1112.7 2999.8L1113.2 3020.0L1113.8 3034.4L1114.4 3044.3L1115.0 3050.9L1115.6 3055.5L1116.2 3058.9L1116.7 3061.6L1117.3 3063.9L1117.9 3065.7L1118.5 3067.1L1119.1 3068.2L1119.7 3069.0L1120.3 3069.4L1120.8 3069.5L1121.4 3069.1L1122.0 3068.7L1123.5 3067.1L1124.9 3066.7L1126.4 3067.1L1127.9 3067.4L1129.3 3067.8L1130.8 3069.2L1132.3 3069.0L1133.7 3067.7L1135.2 3068.5L1136.6 3068.5L1138.1 3068.4L1139.6 3070.3L1142.5 3071.2L1145.4 3069.5L1148.3 3072.8L1151.3 3074.2L1154.2 3075.0L1157.1 3076.1L1160.1 3078.9L1163.0 3081.3L1165.9 3082.1L1168.8 3084.9L1171.8 3083.8L1174.7 3087.0L1177.6 3087.8L1180.5 3088.0L1183.5 3086.2L1186.4 3087.7L1189.3 3088.6L1192.2 3087.1L1193.7 3086.7L1195.2 3087.6L1196.6 3086.8L1198.1 3085.7L1199.6 3085.5L1201.0 3084.8L1202.5 3084.0L1203.9 3081.0L1205.4 3078.1L1206.9 3075.6L1208.3 3068.5L1208.9 3064.6L1209.5 3060.3L1210.1 3055.5L1210.7 3049.7L1211.3 3042.3L1211.8 3032.8L1212.4 3020.6L1213.0 3005.2L1213.6 2985.7L1214.2 2960.4L1214.8 2927.1L1215.4 2882.8L1215.9 2823.7L1216.5 2745.5L1217.1 2644.3L1217.7 2518.6L1218.3 2374.5L1218.9 2231.8L1219.5 2124.9L1220.0 2089.5L1220.6 2140.7L1221.2 2257.5L1221.8 2402.8L1222.4 2544.5L1223.0 2665.6L1223.5 2762.1L1224.1 2836.0L1224.7 2891.9L1225.3 2934.0L1225.9 2964.1L1226.5 2962.7L1227.1 2962.1L1227.6 2962.0L1228.2 2962.0L1228.8 2961.8L1229.4 2961.3L1230.0 2960.6L1230.6 2959.9L1231.2 2959.6L1231.7 2959.6L1232.3 2959.9L1232.9 2960.2L1233.5 2960.3L1234.1 2960.3L1234.7 2960.2L1235.3 2960.4L1235.8 2960.9L1236.4 2961.6L1237.0 2962.3L1237.6 2963.2L1238.2 2964.5L1238.8 2966.7L1239.3 2970.1L1239.9 2975.4L1240.5 2982.8L1241.1 2992.7L1241.7 3005.3L1242.3 3020.1L1242.9 3005.3L1243.4 2992.4L1244.0 2985.1L1244.6 2981.3L1245.2 2979.3L1245.8 2978.2L1246.4 2978.0L1247.0 2979.0L1247.5 2981.9L1248.1 2987.5L1248.7 2997.3L1249.3 3012.2L1249.9 3031.8L1250.5 3052.1L1251.1 3056.5L1251.6 3053.7L1252.2 3052.3L1252.8 3051.7L1253.4 3051.6L1254.0 3051.9L1254.6 3052.6L1255.1 3054.0L1255.7 3056.2L1256.3 3059.9L1256.9 3065.6L1257.5 3072.8L1258.1 3080.1L1258.7 3086.0L1259.2 3089.9L1259.8 3092.2L1260.4 3093.6L1261.0 3094.3L1261.6 3094.4L1262.2 3094.4L1262.8 3094.2L1263.3 3093.9L1263.9 3093.6L1265.4 3093.8L1266.9 3094.2L1268.3 3093.4L1269.8 3094.1L1271.2 3094.9L1272.7 3094.4L1274.2 3095.1L1275.6 3095.3L1277.1 3094.9L1278.6 3094.5L1280.0 3093.4L1281.5 3094.5L1284.4 3095.3L1287.3 3096.1L1290.3 3094.5L1293.2 3095.0L1296.1 3096.1L1299.0 3095.7L1302.0 3094.9L1304.9 3096.2L1307.8 3096.0L1310.7 3095.4L1313.7 3095.8L1316.6 3096.6L1319.5 3095.5L1322.4 3095.4L1325.4 3096.4L1328.3 3095.4L1331.2 3094.8L1334.2 3090.3L1336.8 3079.2L1337.1 3079.7L1340.0 3091.2L1342.9 3095.2L1345.9 3094.3L1348.8 3088.2L1350.2 3086.1L1351.7 3088.7L1354.6 3094.5L1357.6 3095.9L1360.5 3095.5L1363.4 3096.6L1366.3 3095.5L1369.3 3096.3L1372.2 3096.9L1375.1 3096.1L1378.0 3095.2L1381.0 3096.4L1383.9 3097.6L1386.8 3095.4L1389.7 3095.6L1392.7 3096.8L1395.6 3096.8L1398.5 3095.8L1401.4 3096.1L1404.4 3096.6L1407.3 3095.9L1410.2 3096.5L1413.2 3096.5L1416.1 3096.1L1419.0 3096.2L1421.9 3096.3L1424.9 3096.5L1427.8 3096.2L1430.7 3096.7L1433.6 3095.6L1436.6 3096.2L1439.5 3097.1L1442.4 3096.4L1445.3 3095.4L1448.3 3096.1L1451.2 3097.5L1454.1 3096.0L1457.0 3095.8L1460.0 3096.3L1462.9 3096.7L1465.8 3096.3L1468.7 3096.4L1471.7 3096.2L1474.6 3095.8L1477.5 3096.7L1480.5 3096.9L1483.4 3095.9L1486.3 3095.8L1489.2 3096.5L1492.2 3096.9L1495.1 3096.1L1498.0 3095.7L1500.9 3095.3L1503.9 3092.9L1504.7 3092.2L1506.8 3094.7L1509.7 3095.2L1512.6 3096.1L1515.6 3096.2L1518.5 3096.9L1521.4 3096.0L1524.3 3096.3L1527.3 3096.6L1530.2 3095.9L1533.1 3096.7L1536.0 3096.4L1539.0 3097.0L1541.9 3095.2L1544.8 3096.7L1547.7 3096.9L1550.7 3096.7L1553.6 3095.6L1556.5 3095.9L1559.5 3097.5L1562.4 3096.4L1565.3 3096.1L1568.2 3095.6L1571.2 3097.3L1574.1 3096.5L1577.0 3096.2L1579.9 3095.9L1582.9 3096.5L1585.8 3096.5L1588.7 3096.3L1591.6 3096.3L1594.6 3096.0L1597.5 3096.3L1600.4 3096.2L1603.3 3096.3L1604.8 3096.7L1606.3 3095.7L1607.7 3096.3L1609.2 3095.8L1610.7 3094.6L1612.1 3095.1L1613.6 3095.3L1615.0 3095.3L1616.5 3094.8L1618.0 3093.6L1619.4 3093.1L1620.0 3092.6L1620.6 3091.6L1621.2 3090.3L1621.8 3088.7L1622.4 3087.1L1622.9 3085.5L1623.5 3083.9L1624.1 3082.0L1624.7 3079.3L1625.3 3075.6L1625.9 3070.4L1626.5 3063.3L1627.0 3053.9L1627.6 3041.8L1628.2 3026.7L1628.8 3008.5L1629.4 2988.3L1630.0 2968.4L1630.6 2953.3L1631.1 2947.4L1631.7 2952.9L1632.3 2967.9L1632.9 2987.9L1633.5 3008.5L1634.1 3026.9L1634.7 3042.0L1635.2 3053.7L1635.8 3062.8L1636.4 3069.7L1637.0 3075.1L1637.6 3079.3L1638.2 3082.3L1638.7 3084.5L1639.3 3086.1L1639.9 3087.6L1640.5 3089.1L1641.1 3090.6L1641.7 3091.7L1642.3 3092.4L1642.8 3092.5L1644.3 3093.1L1645.8 3095.5L1647.2 3095.8L1648.7 3094.8L1650.2 3094.7L1651.6 3094.9L1653.1 3095.7L1654.5 3096.0L1656.0 3096.2L1657.5 3096.9L1658.9 3096.7L1660.4 3095.8L1663.3 3095.9L1666.3 3095.9L1669.2 3096.7L1672.1 3096.5L1675.0 3096.4L1678.0 3095.5L1680.9 3096.6L1683.8 3097.0L1686.7 3096.1L1689.7 3096.1L1692.6 3096.5L1695.5 3096.8L1698.4 3095.5L1701.4 3097.2L1704.3 3096.3L1707.2 3096.0L1710.1 3095.9L1713.1 3097.4L1716.0 3096.7L1718.9 3095.3L1721.8 3096.5L1724.8 3096.6L1727.7 3097.1L1730.6 3095.6L1733.5 3096.3L1736.5 3096.3L1739.4 3097.0L1742.3 3096.5L1745.3 3095.7L1748.2 3096.4L1751.1 3096.6L1754.0 3096.8L1757.0 3095.9L1759.9 3096.4L1762.8 3096.3L1765.7 3096.6L1768.7 3096.7L1771.6 3096.1L1774.5 3096.1L1777.4 3096.5L1780.4 3097.0L1783.3 3096.3L1786.2 3095.8L1789.1 3096.6L1792.1 3096.7L1795.0 3096.5L1797.9 3096.0L1800.8 3096.5L1803.8 3096.5L1806.7 3096.2L1809.6 3096.6L1812.6 3096.5L1815.5 3096.4L1818.4 3095.8L1821.3 3096.9L1824.3 3096.9L1827.2 3096.0L1830.1 3095.8L1833.0 3096.7L1836.0 3097.2L1838.9 3095.9L1841.8 3095.9L1844.7 3096.5L1847.7 3096.9L1850.6 3096.5L1853.5 3095.8L1856.4 3096.4L1859.4 3096.7L1862.3 3096.7L1865.2 3095.9L1868.1 3096.3L1871.1 3097.0L1874.0 3096.0L1876.9 3096.3L1879.8 3096.5L1882.8 3096.9L1885.7 3095.6L1888.6 3096.6L1891.6 3097.0L1894.5 3096.0L1897.4 3096.3L1900.3 3096.4L1903.3 3097.0L1906.2 3095.7L1909.1 3097.0L1912.0 3096.2L1915.0 3096.2L1917.9 3096.5L1920.8 3096.7L1923.7 3096.3L1926.7 3095.8L1929.6 3097.1L1932.5 3096.1L1935.4 3096.6L1938.4 3096.2L1941.3 3096.5L1944.2 3096.2L1947.1 3096.9L1950.1 3096.3L1953.0 3095.8L1955.9 3096.7L1958.9 3096.8L1961.8 3095.6L1963.2 3096.2L1964.7 3095.8L1966.2 3095.8L1967.6 3096.9L1969.1 3096.3L1970.6 3095.6L1972.0 3095.5L1973.5 3095.0L1974.9 3095.6L1976.4 3095.7L1977.9 3095.4L1979.3 3095.0L1979.9 3094.0L1980.5 3092.2L1981.1 3089.9L1981.7 3087.1L1982.3 3083.6L1982.8 3080.1L1983.4 3078.7L1984.0 3080.6L1984.6 3084.0L1985.2 3086.7L1985.8 3088.2L1986.4 3088.7L1986.9 3088.4L1987.5 3087.2L1988.1 3084.7L1988.7 3080.7L1989.3 3075.3L1989.9 3070.1L1990.5 3067.8L1991.0 3069.9L1991.6 3074.8L1992.2 3080.1L1992.8 3084.2L1993.4 3087.3L1994.0 3089.5L1994.5 3091.1L1995.1 3092.2L1995.7 3093.0L1996.3 3093.6L1996.9 3093.9L1997.5 3094.1L1998.1 3094.3L1998.6 3094.4L1999.2 3094.6L1999.8 3094.9L2000.4 3095.3L2001.0 3095.5L2001.6 3095.5L2002.2 3095.2L2003.6 3094.6L2005.1 3095.4L2006.5 3094.6L2008.0 3093.6L2009.5 3094.5L2010.9 3094.8L2012.4 3095.1L2013.9 3095.0L2015.3 3094.6L2016.8 3095.3L2018.2 3094.2L2019.7 3092.7L2022.6 3093.2L2025.6 3089.9L2027.3 3087.9L2028.5 3088.3L2031.4 3092.1L2034.3 3093.6L2037.3 3093.8L2040.2 3093.1L2043.1 3094.1L2046.0 3091.5L2049.0 3087.1L2051.9 3091.0L2054.8 3093.3L2057.8 3091.0L2060.7 3087.0L2063.6 3091.0L2066.5 3092.8L2069.5 3092.9L2072.4 3093.3L2075.3 3092.6L2078.2 3092.2L2081.2 3092.7L2084.1 3092.3L2087.0 3092.0L2089.9 3091.1L2092.9 3091.6L2095.8 3090.7L2098.7 3091.6L2101.6 3090.4L2104.6 3089.7L2107.5 3089.8L2110.4 3090.6L2113.3 3090.0L2116.3 3087.8L2119.2 3089.2L2122.1 3089.1L2125.0 3089.0L2128.0 3087.1L2130.9 3087.9L2133.8 3087.9L2136.8 3087.3L2139.7 3086.7L2142.6 3086.1L2145.5 3086.5L2148.5 3085.5L2151.4 3085.7L2154.3 3085.0L2157.2 3084.9L2160.2 3084.1L2163.1 3083.9L2166.0 3084.2L2168.9 3083.4L2171.9 3082.7L2174.8 3082.4L2177.7 3082.7L2180.6 3082.3L2183.6 3081.2L2186.5 3081.1L2189.4 3081.1L2192.3 3080.9L2195.3 3079.8L2198.2 3079.3L2201.1 3079.2L2204.1 3078.6L2207.0 3078.3L2209.9 3077.5L2212.8 3077.3L2215.8 3076.3L2218.7 3076.6L2221.6 3074.6L2224.5 3071.7L2227.5 3069.5L2230.4 3068.1L2233.3 3066.2L2236.2 3062.8L2239.2 3061.8L2242.1 3061.1L2245.0 3059.2L2247.9 3057.6" fill="none" stroke="#FF0000" stroke-width="8" stroke-linejoin="round" stroke-linecap="round"/>
<path d="M1229.0 2979.0L1229.5 2978.9L1230.0 2978.9L1230.5 2978.9L1231.0 2978.9L1231.5 2978.9L1232.0 2978.9L1232.5 2979.0L1233.0 2979.0L1233.5 2979.1L1234.0 2979.1L1234.5 2979.2L1235.0 2979.3L1235.5 2979.5L1236.0 2979.7L1236.5 2980.0L1237.0 2980.4L1237.5 2981.0L1238.0 2981.9L1238.5 2983.2L1239.0 2985.1L1239.5 2987.9L1240.0 2991.8L1240.5 2997.2L1241.0 3004.3L1241.5 3013.3L1242.0 3023.8L1242.5 3023.0L1243.0 3009.9L1243.5 3000.7L1244.0 2994.8L1244.5 2991.4L1245.0 2989.5L1245.5 2988.6L1246.0 2988.4L1246.5 2988.7L1247.0 2989.7L1247.5 2991.6L1248.0 2995.1L1248.5 3001.1L1249.0 3010.4L1249.5 3023.5L1250.0 3039.3L1250.5 3055.1L1251.0 3058.5L1251.5 3056.3L1252.0 3055.1L1252.5 3054.5L1253.0 3054.2L1253.5 3054.1L1254.0 3054.2L1254.5 3054.6L1255.0 3055.4L1255.5 3056.7L1256.0 3058.9L1256.0 3058.6L1255.5 3056.6L1255.0 3055.3L1254.5 3054.7L1254.0 3054.3L1253.5 3054.2L1253.0 3054.3L1252.5 3054.6L1252.0 3055.2L1251.5 3056.4L1251.0 3058.4L1250.5 3056.4L1250.0 3042.0L1249.5 3027.6L1249.0 3015.7L1248.5 3007.1L1248.0 3001.7L1247.5 2998.5L1247.0 2996.7L1246.5 2995.9L1246.0 2995.6L1245.5 2995.8L1245.0 2996.6L1244.5 2998.4L1244.0 3001.5L1243.5 3006.9L1243.0 3015.4L1242.5 3027.3L1242.0 3030.1L1241.5 3020.8L1241.0 3012.9L1240.5 3006.6L1240.0 3001.9L1239.5 2998.4L1239.0 2996.0L1238.5 2994.3L1238.0 2993.2L1237.5 2992.4L1237.0 2991.9L1236.5 2991.5L1236.0 2991.3L1235.5 2991.1L1235.0 2991.0L1234.5 2990.9L1234.0 2990.8L1233.5 2990.8L1233.0 2990.7L1232.5 2990.7L1232.0 2990.7L1231.5 2990.6L1231.0 2990.6L1230.5 2990.6L1230.0 2990.6L1229.5 2990.7L1229.0 2990.7Z" fill="#00FF00"/>
<path d="M375.3 2757.4L378.2 2753.8L381.2 2752.5L384.1 2745.6L387.0 2751.5L389.9 2754.0L392.9 2759.7L395.8 2765.7L398.7 2769.3L401.6 2772.5L404.6 2777.0L407.5 2780.2L410.4 2782.4L413.3 2787.8L416.3 2791.8L419.2 2793.7L422.1 2795.6L425.0 2804.2L428.0 2804.2L430.9 2808.0L433.8 2812.0L436.7 2816.4L439.7 2820.8L442.6 2828.3L445.5 2826.8L448.5 2834.6L451.4 2841.8L454.3 2843.2L457.2 2846.9L460.2 2855.0L463.1 2858.5L466.0 2862.6L468.9 2868.7L471.9 2872.6L474.8 2877.6L477.7 2881.9L480.6 2888.6L483.6 2891.2L486.5 2899.0L489.4 2904.7L492.3 2913.8L495.3 2918.9L498.2 2922.8L501.1 2924.9L504.0 2933.2L507.0 2935.1L509.9 2937.9L512.8 2942.7L515.7 2948.0L518.7 2950.4L521.6 2955.6L524.5 2958.9L527.5 2961.9L530.4 2967.9L533.3 2971.4L536.2 2975.1L539.2 2977.6L542.1 2983.8L545.0 2987.4L547.9 2991.6L550.9 2993.0L553.8 3000.3L556.7 3002.7L559.6 3007.2L562.6 3010.7L565.5 3015.5L567.0 3016.0L568.4 3017.5L569.9 3021.4L571.3 3024.5L572.8 3025.2L574.3 3026.9L575.7 3028.1L577.2 3027.1L578.7 3026.5L580.1 3029.0L581.6 3030.9L582.2 3030.8L582.8 3030.4L583.3 3029.9L583.9 3029.6L584.5 3029.4L585.1 3029.4L585.7 3029.4L586.3 3029.2L586.8 3028.6L587.4 3027.5L588.0 3025.5L588.6 3022.3L589.2 3017.6L589.8 3008.5L590.4 2993.8L590.9 2971.6L591.5 2946.1L592.1 2933.7L592.7 2946.9L593.3 2972.7L593.9 2994.8L594.5 3009.3L595.0 3018.0L595.6 3023.5L596.2 3027.4L596.8 3030.7L597.4 3033.6L598.0 3035.9L598.6 3037.5L599.1 3038.1L599.7 3038.0L600.3 3037.4L600.9 3036.9L601.5 3036.8L602.1 3037.2L602.7 3038.0L603.2 3038.7L603.8 3039.2L605.3 3039.0L606.7 3040.1L608.2 3043.3L609.7 3043.4L611.1 3043.1L612.6 3043.3L614.1 3044.0L615.5 3044.6L617.0 3044.8L618.5 3044.6L619.9 3045.0L621.4 3046.0L624.3 3047.1L627.2 3048.2L630.2 3047.0L633.1 3049.4L634.5 3050.2L636.0 3051.1L637.5 3050.6L638.9 3049.6L640.4 3049.7L641.9 3050.7L643.3 3051.7L644.8 3051.9L646.2 3051.0L647.7 3050.3L649.2 3050.5L650.6 3050.2L651.2 3049.9L651.8 3049.8L652.4 3049.8L653.0 3049.9L653.6 3049.6L654.1 3048.5L654.7 3046.4L655.3 3042.6L655.9 3036.7L656.5 3028.6L657.1 3020.9L657.4 3018.6L657.7 3017.9L658.2 3019.0L658.8 3018.1L659.4 3010.8L660.0 2994.3L660.6 2966.3L661.2 2928.5L661.8 2897.1L662.0 2892.5L662.3 2897.7L662.9 2930.3L663.5 2969.3L664.1 2999.1L664.7 3018.2L665.3 3029.9L665.9 3037.0L666.4 3041.5L667.0 3044.6L667.6 3046.8L668.2 3048.4L668.8 3049.6L669.4 3050.5L669.9 3051.1L670.5 3051.6L671.1 3052.0L671.7 3052.4L672.3 3052.6L672.9 3052.6L673.5 3052.6L674.0 3052.5L674.6 3052.6L675.2 3053.0L675.8 3053.6L676.4 3054.2L677.0 3054.7L677.6 3054.8L678.1 3054.5L678.7 3053.8L679.3 3052.9L679.9 3051.9L680.5 3050.9L681.1 3049.6L681.7 3047.7L682.2 3044.7L682.8 3040.3L683.4 3034.5L684.0 3027.6L684.6 3020.4L685.2 3015.1L685.7 3013.7L686.3 3017.1L686.9 3023.9L687.5 3031.6L688.1 3038.2L688.7 3043.4L689.3 3047.1L689.8 3049.9L690.4 3052.0L691.0 3053.7L691.6 3054.8L692.2 3055.6L692.8 3056.0L693.4 3056.2L693.9 3056.5L694.5 3056.9L695.1 3057.6L695.7 3058.2L696.3 3058.8L696.9 3059.3L697.5 3059.7L698.9 3060.4L700.4 3060.8L701.8 3060.3L703.3 3060.7L704.8 3062.3L706.2 3062.3L707.7 3061.7L709.2 3062.7L710.6 3063.2L712.1 3062.5L713.5 3063.6L715.0 3065.2L717.9 3064.1L720.9 3065.2L723.8 3066.6L726.7 3066.5L729.6 3066.5L732.6 3069.0L735.5 3067.8L738.4 3068.6L741.3 3068.9L742.8 3070.9L744.3 3070.6L745.7 3070.2L747.2 3070.6L748.7 3070.2L750.1 3069.7L751.6 3070.4L753.0 3070.9L754.5 3071.7L756.0 3072.8L757.4 3072.0L758.0 3071.5L758.6 3071.1L759.2 3071.0L759.8 3071.1L760.4 3071.1L760.9 3070.8L761.5 3070.1L762.1 3069.1L762.7 3068.0L763.3 3067.2L763.9 3066.6L764.5 3065.9L765.0 3064.7L765.6 3062.0L766.2 3057.1L766.8 3049.3L767.4 3038.6L768.0 3027.7L768.6 3022.3L769.1 3025.9L769.7 3034.6L770.3 3042.5L770.9 3046.9L771.5 3047.3L772.1 3044.3L772.7 3037.7L773.2 3026.7L773.8 3009.1L774.4 2981.2L775.0 2938.6L775.6 2880.5L776.2 2821.0L776.7 2794.0L777.3 2821.2L777.9 2881.2L778.5 2940.0L779.1 2983.7L779.7 3012.7L780.3 3031.0L780.8 3042.6L781.4 3050.0L782.0 3054.8L782.6 3058.0L783.2 3059.7L783.8 3060.1L784.4 3059.0L784.9 3056.0L785.5 3051.0L786.1 3043.8L786.7 3035.1L787.3 3027.3L787.9 3024.5L788.5 3029.1L789.0 3038.2L789.6 3047.6L790.2 3054.9L790.8 3060.1L791.4 3063.9L792.0 3066.9L792.5 3069.4L793.1 3071.2L793.7 3072.3L794.3 3072.8L794.9 3072.8L795.5 3072.7L796.1 3073.0L796.6 3073.6L797.2 3074.6L797.8 3075.6L798.4 3076.3L799.0 3076.5L799.6 3076.3L801.0 3075.5L802.5 3075.8L804.0 3075.6L805.4 3075.2L806.9 3076.2L808.3 3077.0L809.8 3077.4L811.3 3078.1L812.7 3077.2L814.2 3075.9L815.7 3076.9L817.1 3077.7L820.1 3077.7L823.0 3077.5L825.9 3077.2L827.7 3076.3L828.8 3075.8L831.8 3078.3L834.7 3080.6L837.6 3080.7L840.5 3080.2L843.5 3081.8L846.4 3082.0L849.3 3082.6L852.2 3081.0L855.2 3083.3L858.1 3082.6L861.0 3082.4L863.9 3083.5L866.9 3083.6L869.8 3082.5L872.7 3084.5L875.6 3083.2L878.6 3084.5L881.5 3085.0L884.4 3082.8L887.4 3085.1L890.3 3086.4L893.2 3083.9L896.1 3084.5L899.1 3086.7L902.0 3085.4L904.9 3085.8L907.8 3085.3L910.8 3086.5L913.7 3085.7L916.6 3086.3L919.5 3086.1L922.5 3086.1L925.4 3086.0L928.3 3087.4L931.2 3085.6L934.2 3086.9L937.1 3086.8L940.0 3086.0L942.9 3087.6L945.9 3087.1L948.8 3085.9L951.7 3087.7L954.6 3087.5L957.6 3086.6L960.5 3088.1L963.4 3086.4L966.4 3087.6L969.3 3087.9L972.2 3087.3L975.1 3086.6L978.1 3088.0L981.0 3087.4L983.9 3087.9L986.8 3086.4L989.8 3087.9L992.7 3087.6L995.6 3087.1L998.5 3087.6L1001.5 3087.4L1004.4 3086.6L1005.9 3087.4L1007.3 3087.6L1008.8 3086.5L1010.2 3086.6L1011.7 3086.6L1013.2 3083.7L1014.6 3080.0L1016.1 3077.2L1016.7 3076.8L1017.6 3077.5L1019.0 3080.4L1020.5 3083.1L1021.1 3083.5L1021.7 3083.4L1022.2 3082.7L1022.8 3081.5L1023.4 3080.1L1024.0 3078.5L1024.6 3076.5L1025.2 3074.0L1025.7 3070.6L1026.3 3065.8L1026.9 3059.2L1027.5 3049.9L1028.1 3037.1L1028.7 3019.6L1029.3 2996.3L1029.8 2968.4L1030.4 2940.4L1031.0 2922.0L1031.3 2919.3L1031.6 2921.8L1032.2 2940.0L1032.8 2968.0L1033.4 2996.5L1033.9 3020.3L1034.5 3038.3L1035.1 3051.1L1035.7 3060.1L1036.3 3066.4L1036.9 3071.1L1037.5 3074.9L1038.0 3078.0L1038.6 3080.6L1039.2 3082.5L1039.8 3083.6L1040.4 3084.1L1041.0 3084.2L1041.6 3084.2L1042.1 3084.4L1042.7 3085.0L1043.3 3085.7L1044.8 3086.7L1046.2 3085.8L1047.7 3085.1L1049.2 3084.2L1050.6 3081.0L1052.1 3077.5L1053.5 3076.2L1055.0 3077.8L1056.5 3081.2L1057.9 3084.3L1059.4 3085.9L1060.9 3087.7L1063.8 3089.2L1066.7 3089.5L1069.6 3088.6L1071.1 3090.1L1072.6 3091.6L1074.0 3090.9L1075.5 3090.2L1077.0 3090.0L1078.4 3089.3L1079.9 3089.1L1081.3 3089.8L1082.8 3090.2L1084.3 3090.0L1085.7 3088.9L1086.3 3088.3L1086.9 3087.6L1087.5 3087.1L1088.1 3086.8L1088.7 3086.8L1089.2 3086.8L1089.8 3086.3L1090.4 3085.5L1091.0 3084.1L1091.6 3082.1L1092.2 3079.7L1092.8 3076.9L1093.3 3073.4L1093.9 3069.0L1094.5 3063.5L1095.1 3057.4L1095.7 3052.0L1096.3 3049.2L1096.9 3050.1L1097.4 3054.0L1098.0 3059.3L1098.6 3064.3L1099.2 3068.5L1099.8 3071.4L1100.4 3073.0L1100.9 3073.6L1101.5 3073.2L1102.1 3072.2L1102.7 3070.8L1103.3 3069.0L1103.9 3066.6L1104.5 3063.4L1105.0 3059.0L1105.6 3052.8L1106.2 3044.1L1106.8 3032.0L1107.4 3015.2L1108.0 2992.8L1108.6 2965.5L1109.1 2937.7L1109.7 2919.1L1110.0 2916.3L1110.3 2918.8L1110.9 2936.8L1111.5 2964.0L1112.1 2990.9L1112.7 3012.7L1113.2 3028.8L1113.8 3040.2L1114.4 3048.1L1115.0 3053.7L1115.6 3058.0L1116.2 3061.2L1116.7 3063.8L1117.3 3065.8L1117.9 3067.1L1118.5 3067.7L1119.1 3067.8L1119.7 3067.7L1120.3 3066.8L1120.8 3066.1L1121.4 3065.6L1122.0 3065.5L1123.5 3064.6L1124.9 3063.1L1126.4 3062.7L1127.9 3063.0L1129.3 3062.3L1130.8 3060.9L1132.3 3060.5L1133.7 3060.6L1135.2 3060.8L1136.6 3061.5L1138.1 3062.2L1139.6 3062.8L1142.5 3062.9L1145.4 3064.5L1148.3 3063.6L1151.3 3066.7L1154.2 3067.6L1157.1 3067.5L1160.1 3069.6L1163.0 3073.8L1165.9 3074.7L1168.8 3076.0L1171.8 3078.5L1174.7 3079.6L1177.6 3079.7L1180.5 3080.9L1183.5 3083.1L1186.4 3082.7L1189.3 3084.2L1192.2 3084.8L1193.7 3085.0L1195.2 3085.5L1196.6 3085.2L1198.1 3084.1L1199.6 3083.7L1201.0 3083.4L1202.5 3082.0L1203.9 3080.6L1205.4 3079.6L1206.9 3076.6L1208.3 3071.1L1208.9 3068.1L1209.5 3064.6L1210.1 3060.5L1210.7 3055.6L1211.3 3049.5L1211.8 3042.0L1212.4 3032.5L1213.0 3020.3L1213.6 3004.6L1214.2 2984.1L1214.8 2957.1L1215.4 2921.4L1215.9 2874.0L1216.5 2811.3L1217.1 2730.0L1217.7 2629.1L1218.3 2513.3L1218.9 2398.5L1219.5 2312.6L1220.0 2284.2L1220.6 2325.3L1221.2 2419.2L1221.8 2536.0L1222.4 2649.9L1223.0 2747.5L1223.5 2825.2L1224.1 2884.8L1224.7 2929.8L1225.3 2963.6L1225.9 2982.2L1226.5 2980.8L1227.1 2980.0L1227.6 2979.7L1228.2 2979.6L1228.8 2979.5L1229.4 2979.4L1230.0 2979.2L1230.6 2978.9L1231.2 2978.8L1231.7 2978.8L1232.3 2978.9L1232.9 2979.1L1233.5 2979.2L1234.1 2979.3L1234.7 2979.4L1235.3 2979.4L1235.8 2979.4L1236.4 2979.6L1237.0 2980.0L1237.6 2980.8L1238.2 2982.1L1238.8 2984.0L1239.3 2987.0L1239.9 2991.4L1240.5 2997.7L1241.1 3006.3L1241.7 3017.3L1242.3 3030.0L1242.9 3013.2L1243.4 3001.4L1244.0 2994.4L1244.6 2990.8L1245.2 2989.1L1245.8 2988.6L1246.4 2988.7L1247.0 2989.6L1247.5 2991.6L1248.1 2996.0L1248.7 3004.1L1249.3 3017.5L1249.9 3035.4L1250.5 3054.4L1251.1 3058.7L1251.6 3056.5L1252.2 3055.1L1252.8 3054.3L1253.4 3053.9L1254.0 3053.9L1254.6 3054.3L1255.1 3055.5L1255.7 3057.5L1256.3 3061.0L1256.9 3066.2L1257.5 3072.7L1258.1 3079.3L1258.7 3084.5L1259.2 3087.9L1259.8 3090.0L1260.4 3091.3L1261.0 3092.0L1261.6 3092.2L1262.2 3092.3L1262.8 3092.3L1263.3 3092.3L1263.9 3092.2L1265.4 3092.0L1266.9 3091.9L1268.3 3092.1L1269.8 3092.2L1271.2 3092.4L1272.7 3093.3L1274.2 3094.0L1275.6 3093.3L1277.1 3092.5L1278.6 3092.7L1280.0 3092.7L1281.5 3092.8L1284.4 3094.9L1287.3 3093.6L1290.3 3093.1L1293.2 3094.1L1296.1 3094.7L1299.0 3093.6L1302.0 3094.6L1304.9 3094.0L1307.8 3094.8L1310.7 3094.7L1313.7 3094.4L1316.6 3094.7L1319.5 3095.0L1322.4 3094.3L1325.4 3094.7L1328.3 3094.9L1331.2 3093.5L1334.2 3089.3L1336.8 3078.9L1337.1 3079.2L1340.0 3091.9L1342.9 3092.9L1345.9 3092.9L1348.8 3087.9L1350.2 3084.8L1351.7 3087.8L1354.6 3093.3L1357.6 3095.0L1360.5 3093.9L1363.4 3096.1L1366.3 3095.5L1369.3 3094.4L1372.2 3095.4L1375.1 3096.0L1378.0 3094.7L1381.0 3095.5L1383.9 3095.4L1386.8 3095.1L1389.7 3095.6L1392.7 3095.3L1395.6 3095.6L1398.5 3095.1L1401.4 3095.4L1404.4 3095.4L1407.3 3095.7L1410.2 3095.1L1413.2 3095.4L1416.1 3095.1L1419.0 3096.5L1421.9 3094.8L1424.9 3094.9L1427.8 3096.1L1430.7 3095.6L1433.6 3094.9L1436.6 3096.1L1439.5 3095.0L1442.4 3095.5L1445.3 3096.0L1448.3 3095.0L1451.2 3095.5L1454.1 3095.4L1457.0 3095.7L1460.0 3095.7L1462.9 3095.3L1465.8 3095.2L1468.7 3096.3L1471.7 3095.0L1474.6 3095.9L1477.5 3095.3L1480.5 3095.5L1483.4 3095.7L1486.3 3095.7L1489.2 3095.1L1492.2 3095.8L1495.1 3095.1L1498.0 3095.8L1500.9 3094.7L1503.9 3091.5L1504.7 3091.0L1506.8 3093.7L1509.7 3095.1L1512.6 3095.5L1515.6 3095.6L1518.5 3095.2L1521.4 3095.8L1524.3 3096.2L1527.3 3094.8L1530.2 3096.2L1533.1 3095.3L1536.0 3095.7L1539.0 3096.2L1541.9 3095.3L1544.8 3094.9L1547.7 3096.9L1550.7 3095.2L1553.6 3095.3L1556.5 3095.9L1559.5 3095.7L1562.4 3095.5L1565.3 3095.7L1568.2 3095.9L1571.2 3095.5L1574.1 3095.3L1577.0 3096.0L1579.9 3096.0L1582.9 3094.9L1585.8 3096.0L1588.7 3095.3L1591.6 3096.1L1594.6 3095.5L1597.5 3094.7L1600.4 3095.7L1603.3 3096.6L1604.8 3095.2L1606.3 3093.9L1607.7 3094.8L1609.2 3095.3L1610.7 3094.9L1612.1 3095.4L1613.6 3095.5L1615.0 3094.0L1616.5 3093.3L1618.0 3093.4L1619.4 3092.6L1620.0 3092.1L1620.6 3091.5L1621.2 3090.9L1621.8 3090.0L1622.4 3088.9L1622.9 3087.4L1623.5 3085.4L1624.1 3083.1L1624.7 3080.4L1625.3 3077.1L1625.9 3072.8L1626.5 3067.1L1627.0 3059.5L1627.6 3049.3L1628.2 3036.4L1628.8 3020.8L1629.4 3003.5L1630.0 2986.7L1630.6 2974.0L1631.1 2969.3L1631.7 2974.0L1632.3 2986.5L1632.9 3002.9L1633.5 3019.9L1634.1 3035.4L1634.7 3048.4L1635.2 3059.0L1635.8 3067.3L1636.4 3073.6L1637.0 3078.1L1637.6 3081.3L1638.2 3083.6L1638.7 3085.5L1639.3 3087.1L1639.9 3088.7L1640.5 3090.0L1641.1 3090.9L1641.7 3091.5L1642.3 3091.8L1642.8 3092.0L1644.3 3093.0L1645.8 3094.5L1647.2 3094.9L1648.7 3094.7L1650.2 3094.6L1651.6 3094.2L1653.1 3094.7L1654.5 3095.7L1656.0 3095.7L1657.5 3095.7L1658.9 3096.1L1660.4 3095.2L1663.3 3095.3L1666.3 3095.3L1669.2 3096.4L1672.1 3095.3L1675.0 3095.2L1678.0 3095.6L1680.9 3096.3L1683.8 3095.4L1686.7 3095.4L1689.7 3095.3L1692.6 3096.6L1695.5 3095.0L1698.4 3095.4L1701.4 3096.2L1704.3 3095.6L1707.2 3095.1L1710.1 3096.2L1713.1 3095.7L1716.0 3095.5L1718.9 3095.4L1721.8 3095.8L1724.8 3096.4L1727.7 3095.0L1730.6 3095.4L1733.5 3096.2L1736.5 3095.9L1739.4 3095.2L1742.3 3095.8L1745.3 3095.3L1748.2 3096.5L1751.1 3095.4L1754.0 3095.3L1757.0 3095.8L1759.9 3096.3L1762.8 3095.2L1765.7 3095.7L1768.7 3095.8L1771.6 3095.8L1774.5 3095.5L1777.4 3095.8L1780.4 3095.8L1783.3 3095.4L1786.2 3095.8L1789.1 3095.7L1792.1 3095.9L1795.0 3095.5L1797.9 3095.4L1800.8 3095.6L1803.8 3096.8L1806.7 3094.7L1809.6 3095.2L1812.6 3096.5L1815.5 3096.0L1818.4 3094.6L1821.3 3096.2L1824.3 3095.8L1827.2 3095.5L1830.1 3095.8L1833.0 3095.7L1836.0 3095.4L1838.9 3096.0L1841.8 3095.8L1844.7 3095.3L1847.7 3096.0L1850.6 3095.4L1853.5 3095.7L1856.4 3095.9L1859.4 3095.9L1862.3 3094.9L1865.2 3096.2L1868.1 3095.8L1871.1 3095.6L1874.0 3095.3L1876.9 3096.1L1879.8 3095.4L1882.8 3096.1L1885.7 3095.6L1888.6 3095.2L1891.6 3095.9L1894.5 3096.4L1897.4 3095.1L1900.3 3095.4L1903.3 3096.3L1906.2 3095.4L1909.1 3095.8L1912.0 3095.6L1915.0 3095.6L1917.9 3095.5L1920.8 3096.1L1923.7 3095.4L1926.7 3095.9L1929.6 3095.2L1932.5 3096.1L1935.4 3095.7L1938.4 3095.5L1941.3 3095.3L1944.2 3096.1L1947.1 3095.6L1950.1 3095.8L1953.0 3095.4L1955.9 3095.7L1958.9 3095.8L1961.8 3095.2L1963.2 3095.3L1964.7 3095.6L1966.2 3095.2L1967.6 3095.0L1969.1 3095.0L1970.6 3095.0L1972.0 3095.3L1973.5 3095.2L1974.9 3094.7L1976.4 3094.9L1977.9 3094.6L1979.3 3092.9L1979.9 3092.1L1980.5 3091.3L1981.1 3090.1L1981.7 3088.3L1982.3 3085.5L1982.8 3082.0L1983.4 3080.1L1984.0 3081.3L1984.6 3084.3L1985.2 3087.0L1985.8 3088.7L1986.4 3089.6L1986.9 3089.4L1987.5 3088.0L1988.1 3085.3L1988.7 3081.1L1989.3 3075.7L1989.9 3070.7L1990.5 3068.5L1991.0 3070.7L1991.6 3075.6L1992.2 3080.8L1992.8 3084.9L1993.4 3087.7L1994.0 3089.7L1994.5 3091.1L1995.1 3092.2L1995.7 3093.0L1996.3 3093.5L1996.9 3093.8L1997.5 3093.9L1998.1 3094.0L1998.6 3093.9L1999.2 3093.9L1999.8 3093.9L2000.4 3093.9L2001.0 3093.7L2001.6 3093.5L2002.2 3093.3L2003.6 3093.6L2005.1 3094.6L2006.5 3094.2L2008.0 3093.4L2009.5 3093.9L2010.9 3094.0L2012.4 3093.4L2013.9 3093.8L2015.3 3094.4L2016.8 3093.5L2018.2 3092.8L2019.7 3092.9L2022.6 3092.2L2025.6 3088.5L2027.3 3086.3L2028.5 3087.5L2031.4 3091.2L2034.3 3092.5L2037.3 3092.7L2040.2 3092.8L2043.1 3092.9L2046.0 3089.6L2049.0 3086.8L2051.9 3090.8L2054.8 3091.2L2057.8 3089.8L2060.7 3086.7L2063.6 3089.4L2066.5 3092.6L2069.5 3091.5L2072.4 3091.1L2075.3 3092.5L2078.2 3092.0L2081.2 3090.4L2084.1 3091.5L2087.0 3091.1L2089.9 3090.3L2092.9 3090.2L2095.8 3090.2L2098.7 3090.0L2101.6 3088.7L2104.6 3089.5L2107.5 3089.2L2110.4 3088.3L2113.3 3087.9L2116.3 3088.3L2119.2 3087.6L2122.1 3088.2L2125.0 3086.0L2128.0 3086.8L2130.9 3087.5L2133.8 3085.8L2136.8 3085.1L2139.7 3086.2L2142.6 3084.9L2145.5 3084.9L2148.5 3084.5L2151.4 3083.7L2154.3 3084.2L2157.2 3083.3L2160.2 3083.0L2163.1 3082.9L2166.0 3082.4L2168.9 3081.9L2171.9 3082.0L2174.8 3081.1L2177.7 3081.7L2180.6 3079.9L2183.6 3080.5L2186.5 3080.8L2189.4 3079.5L2192.3 3078.5L2195.3 3079.4L2198.2 3078.6L2201.1 3078.2L2204.1 3076.7L2207.0 3077.3L2209.9 3077.6L2212.8 3075.6L2215.8 3075.6L2218.7 3075.9L2221.6 3073.4L2224.5 3071.3L2227.5 3069.4L2230.4 3066.6L2233.3 3065.6L2236.2 3062.1L2239.2 3061.4L2242.1 3060.6L2245.0 3058.4L2247.9 3057.1" fill="none" stroke="#00FF00" stroke-width="8" stroke-linejoin="round" stroke-linecap="round"/>
<path d="M1229.0 2990.7L1229.5 2990.7L1230.0 2990.6L1230.5 2990.6L1231.0 2990.6L1231.5 2990.6L1232.0 2990.7L1232.5 2990.7L1233.0 2990.7L1233.5 2990.8L1234.0 2990.8L1234.5 2990.9L1235.0 2991.0L1235.5 2991.1L1236.0 2991.3L1236.5 2991.5L1237.0 2991.9L1237.5 2992.4L1238.0 2993.2L1238.5 2994.3L1239.0 2996.0L1239.5 2998.4L1240.0 3001.9L1240.5 3006.6L1241.0 3012.9L1241.5 3020.8L1242.0 3030.1L1242.5 3027.3L1243.0 3015.4L1243.5 3006.9L1244.0 3001.5L1244.5 2998.4L1245.0 2996.6L1245.5 2995.8L1246.0 2995.6L1246.5 2995.9L1247.0 2996.7L1247.5 2998.5L1248.0 3001.7L1248.5 3007.1L1249.0 3015.7L1249.5 3027.6L1250.0 3042.0L1250.5 3056.4L1251.0 3058.4L1251.5 3056.4L1252.0 3055.2L1252.5 3054.6L1253.0 3054.3L1253.5 3054.2L1254.0 3054.3L1254.5 3054.7L1255.0 3055.3L1255.5 3056.6L1256.0 3058.6L1256.0 3059.2L1255.5 3057.3L1255.0 3056.2L1254.5 3055.6L1254.0 3055.3L1253.5 3055.2L1253.0 3055.2L1252.5 3055.5L1252.0 3056.1L1251.5 3057.2L1251.0 3059.1L1250.5 3059.4L1250.0 3047.2L1249.5 3034.9L1249.0 3024.7L1248.5 3017.4L1248.0 3012.8L1247.5 3010.1L1247.0 3008.6L1246.5 3007.9L1246.0 3007.7L1245.5 3007.9L1245.0 3008.6L1244.5 3010.0L1244.0 3012.7L1243.5 3017.3L1243.0 3024.6L1242.5 3034.7L1242.0 3036.9L1241.5 3028.9L1241.0 3022.2L1240.5 3016.8L1240.0 3012.8L1239.5 3009.8L1239.0 3007.7L1238.5 3006.3L1238.0 3005.3L1237.5 3004.7L1237.0 3004.2L1236.5 3003.9L1236.0 3003.7L1235.5 3003.6L1235.0 3003.5L1234.5 3003.4L1234.0 3003.4L1233.5 3003.4L1233.0 3003.3L1232.5 3003.3L1232.0 3003.3L1231.5 3003.3L1231.0 3003.3L1230.5 3003.3L1230.0 3003.4L1229.5 3003.4L1229.0 3003.4Z" fill="#0000FF"/>
<path d="M375.3 2781.9L378.2 2780.9L381.2 2776.6L384.1 2772.8L387.0 2773.1L389.9 2776.7L392.9 2780.3L395.8 2785.6L398.7 2792.8L401.6 2800.2L404.6 2803.3L407.5 2804.5L410.4 2810.3L413.3 2813.0L416.3 2812.2L419.2 2817.3L422.1 2821.6L425.0 2822.4L428.0 2825.3L430.9 2828.2L433.8 2832.5L436.7 2837.6L439.7 2839.1L442.6 2841.0L445.5 2845.5L448.5 2851.1L451.4 2853.3L454.3 2853.7L457.2 2859.1L460.2 2864.9L463.1 2868.5L466.0 2872.0L468.9 2874.9L471.9 2881.1L474.8 2886.7L477.7 2891.1L480.6 2899.2L483.6 2902.2L486.5 2906.7L489.4 2917.9L492.3 2924.4L495.3 2928.8L498.2 2932.7L501.1 2934.9L504.0 2940.2L507.0 2944.2L509.9 2944.4L512.8 2946.4L515.7 2949.3L518.7 2954.5L521.6 2956.9L524.5 2956.4L527.5 2961.4L530.4 2966.6L533.3 2970.4L536.2 2973.4L539.2 2975.3L542.1 2980.9L545.0 2983.4L547.9 2985.4L550.9 2991.2L553.8 2991.3L556.7 2994.4L559.6 3001.3L562.6 3002.0L565.5 3007.2L567.0 3007.7L568.4 3013.1L569.9 3012.4L571.3 3014.8L572.8 3019.1L574.3 3020.3L575.7 3020.7L577.2 3022.2L578.7 3020.9L580.1 3023.8L581.6 3026.7L582.2 3025.9L582.8 3025.4L583.3 3025.7L583.9 3026.4L584.5 3026.4L585.1 3025.4L585.7 3024.0L586.3 3023.3L586.8 3023.4L587.4 3023.8L588.0 3023.1L588.6 3020.8L589.2 3017.1L589.8 3010.2L590.4 2999.0L590.9 2981.2L591.5 2959.7L592.1 2948.3L592.7 2958.1L593.3 2979.0L593.9 2997.4L594.5 3010.1L595.0 3018.2L595.6 3023.6L596.2 3027.3L596.8 3029.6L597.4 3030.7L598.0 3031.3L598.6 3032.2L599.1 3033.5L599.7 3034.6L600.3 3034.5L600.9 3033.1L601.5 3031.5L602.1 3031.2L602.7 3032.8L603.2 3035.3L603.8 3037.0L605.3 3036.4L606.7 3039.1L608.2 3039.8L609.7 3038.7L611.1 3039.4L612.6 3040.2L614.1 3039.7L615.5 3040.0L617.0 3040.3L618.5 3041.0L619.9 3043.0L621.4 3043.0L624.3 3042.0L627.2 3043.8L630.2 3045.3L633.1 3044.3L634.5 3045.9L636.0 3046.8L637.5 3046.7L638.9 3048.1L640.4 3046.3L641.9 3046.8L643.3 3047.4L644.8 3046.9L646.2 3047.0L647.7 3047.0L649.2 3047.4L650.6 3048.2L651.2 3048.5L651.8 3048.3L652.4 3047.7L653.0 3046.8L653.6 3045.7L654.1 3044.4L654.7 3042.4L655.3 3039.0L655.9 3034.0L656.5 3027.5L657.1 3021.5L657.4 3020.0L657.7 3019.8L658.2 3021.3L658.8 3020.6L659.4 3014.3L660.0 3001.0L660.6 2978.8L661.2 2948.8L661.8 2923.4L662.0 2919.4L662.3 2923.3L662.9 2948.9L663.5 2980.0L664.1 3004.3L664.7 3020.5L665.3 3030.9L665.9 3037.3L666.4 3041.2L667.0 3043.5L667.6 3045.1L668.2 3046.1L668.8 3047.0L669.4 3047.7L669.9 3048.3L670.5 3048.5L671.1 3048.3L671.7 3048.0L672.3 3048.0L672.9 3048.8L673.5 3050.0L674.0 3051.1L674.6 3051.5L675.2 3051.3L675.8 3051.1L676.4 3051.2L677.0 3051.7L677.6 3052.1L678.1 3051.8L678.7 3051.0L679.3 3050.1L679.9 3049.5L680.5 3049.0L681.1 3048.3L681.7 3046.7L682.2 3044.3L682.8 3041.1L683.4 3036.9L684.0 3031.6L684.6 3025.7L685.2 3020.7L685.7 3018.7L686.3 3020.7L686.9 3025.8L687.5 3032.1L688.1 3037.9L688.7 3042.9L689.3 3046.9L689.8 3049.9L690.4 3051.8L691.0 3053.1L691.6 3053.9L692.2 3054.7L692.8 3055.4L693.4 3055.7L693.9 3055.4L694.5 3054.9L695.1 3054.8L695.7 3055.4L696.3 3056.7L696.9 3057.8L697.5 3058.1L698.9 3057.8L700.4 3059.1L701.8 3058.4L703.3 3058.2L704.8 3059.9L706.2 3060.9L707.7 3060.7L709.2 3061.5L710.6 3060.6L712.1 3061.1L713.5 3062.1L715.0 3061.7L717.9 3062.0L720.9 3064.7L723.8 3064.6L726.7 3063.5L729.6 3065.8L732.6 3066.7L735.5 3067.2L738.4 3067.3L741.3 3066.9L742.8 3067.1L744.3 3068.8L745.7 3069.0L747.2 3068.8L748.7 3069.0L750.1 3068.7L751.6 3070.2L753.0 3069.7L754.5 3070.2L756.0 3069.3L757.4 3069.1L758.0 3069.8L758.6 3070.4L759.2 3070.6L759.8 3070.5L760.4 3070.2L760.9 3069.9L761.5 3069.4L762.1 3069.0L762.7 3068.4L763.3 3067.7L763.9 3066.4L764.5 3064.6L765.0 3062.2L765.6 3059.4L766.2 3055.6L766.8 3050.1L767.4 3041.9L768.0 3032.6L768.6 3027.3L769.1 3029.8L769.7 3037.3L770.3 3044.6L770.9 3048.9L771.5 3049.5L772.1 3046.8L772.7 3041.1L773.2 3031.9L773.8 3017.4L774.4 2994.1L775.0 2958.2L775.6 2909.2L776.2 2859.1L776.7 2836.4L777.3 2859.5L777.9 2909.8L778.5 2959.2L779.1 2995.8L779.7 3020.2L780.3 3035.9L780.8 3045.9L781.4 3052.3L782.0 3056.4L782.6 3059.2L783.2 3060.5L783.8 3060.4L784.4 3058.8L784.9 3055.6L785.5 3050.8L786.1 3044.0L786.7 3035.3L787.3 3026.8L787.9 3023.1L788.5 3027.0L789.0 3036.5L789.6 3046.9L790.2 3055.3L790.8 3060.9L791.4 3064.3L792.0 3066.5L792.5 3068.4L793.1 3070.0L793.7 3071.1L794.3 3071.4L794.9 3071.2L795.5 3071.0L796.1 3071.2L796.6 3071.9L797.2 3072.7L797.8 3073.5L798.4 3074.2L799.0 3074.5L799.6 3074.4L801.0 3073.6L802.5 3074.1L804.0 3072.9L805.4 3074.2L806.9 3075.7L808.3 3075.1L809.8 3075.5L811.3 3074.6L812.7 3075.2L814.2 3075.4L815.7 3075.6L817.1 3075.2L820.1 3075.4L823.0 3076.4L825.9 3075.1L827.7 3073.7L828.8 3075.8L831.8 3076.5L834.7 3077.6L837.6 3081.1L840.5 3079.9L843.5 3078.7L846.4 3080.5L849.3 3081.0L852.2 3082.2L855.2 3081.0L858.1 3080.2L861.0 3083.3L863.9 3082.6L866.9 3081.8L869.8 3083.1L872.7 3082.0L875.6 3082.8L878.6 3083.6L881.5 3082.9L884.4 3083.8L887.4 3083.5L890.3 3084.1L893.2 3084.9L896.1 3084.7L899.1 3085.4L902.0 3084.2L904.9 3084.4L907.8 3086.5L910.8 3084.9L913.7 3084.4L916.6 3085.4L919.5 3085.6L922.5 3086.9L925.4 3085.4L928.3 3085.2L931.2 3087.4L934.2 3085.7L937.1 3085.8L940.0 3086.9L942.9 3085.5L945.9 3086.4L948.8 3086.6L951.7 3086.2L954.6 3087.4L957.6 3087.1L960.5 3087.0L963.4 3086.9L966.4 3087.0L969.3 3088.0L972.2 3086.4L975.1 3086.1L978.1 3087.5L981.0 3087.1L983.9 3087.4L986.8 3087.0L989.8 3086.8L992.7 3088.2L995.6 3087.1L998.5 3087.3L1001.5 3087.7L1004.4 3085.7L1005.9 3086.2L1007.3 3086.9L1008.8 3088.3L1010.2 3087.2L1011.7 3086.6L1013.2 3083.8L1014.6 3081.6L1016.1 3078.9L1016.7 3077.8L1017.6 3078.2L1019.0 3081.7L1020.5 3082.9L1021.1 3082.9L1021.7 3082.8L1022.2 3082.7L1022.8 3082.6L1023.4 3082.2L1024.0 3081.3L1024.6 3079.5L1025.2 3076.5L1025.7 3072.6L1026.3 3068.0L1026.9 3062.4L1027.5 3054.7L1028.1 3043.4L1028.7 3027.2L1029.3 3005.8L1029.8 2980.8L1030.4 2956.8L1031.0 2941.5L1031.3 2939.6L1031.6 2942.0L1032.2 2958.0L1032.8 2982.1L1033.4 3006.5L1033.9 3027.3L1034.5 3043.2L1035.1 3054.9L1035.7 3063.2L1036.3 3069.2L1036.9 3073.7L1037.5 3077.2L1038.0 3079.9L1038.6 3081.8L1039.2 3083.2L1039.8 3084.3L1040.4 3085.0L1041.0 3085.3L1041.6 3085.3L1042.1 3085.2L1042.7 3085.2L1043.3 3085.3L1044.8 3085.2L1046.2 3085.8L1047.7 3085.7L1049.2 3083.1L1050.6 3081.5L1052.1 3077.2L1053.5 3076.5L1055.0 3078.9L1056.5 3081.0L1057.9 3083.7L1059.4 3085.9L1060.9 3086.5L1063.8 3089.3L1066.7 3090.2L1069.6 3090.5L1071.1 3090.1L1072.6 3089.2L1074.0 3088.8L1075.5 3089.0L1077.0 3090.5L1078.4 3091.2L1079.9 3090.7L1081.3 3090.0L1082.8 3089.2L1084.3 3087.7L1085.7 3089.0L1086.3 3088.8L1086.9 3087.9L1087.5 3087.1L1088.1 3086.7L1088.7 3087.0L1089.2 3087.2L1089.8 3086.7L1090.4 3085.5L1091.0 3083.9L1091.6 3082.4L1092.2 3080.8L1092.8 3078.9L1093.3 3076.1L1093.9 3072.3L1094.5 3067.5L1095.1 3062.0L1095.7 3057.2L1096.3 3054.8L1096.9 3055.7L1097.4 3059.3L1098.0 3063.8L1098.6 3067.6L1099.2 3070.2L1099.8 3071.7L1100.4 3072.8L1100.9 3073.7L1101.5 3074.1L1102.1 3073.7L1102.7 3072.3L1103.3 3070.2L1103.9 3067.9L1104.5 3065.3L1105.0 3061.8L1105.6 3056.5L1106.2 3048.9L1106.8 3038.5L1107.4 3024.5L1108.0 3006.0L1108.6 2983.2L1109.1 2959.5L1109.7 2943.3L1110.0 2940.7L1110.3 2942.5L1110.9 2957.5L1111.5 2980.6L1112.1 3003.3L1112.7 3021.6L1113.2 3035.1L1113.8 3044.6L1114.4 3051.3L1115.0 3056.1L1115.6 3059.7L1116.2 3062.5L1116.7 3064.6L1117.3 3066.1L1117.9 3066.7L1118.5 3066.7L1119.1 3066.5L1119.7 3066.8L1120.3 3066.5L1120.8 3066.2L1121.4 3065.3L1122.0 3063.9L1123.5 3061.4L1124.9 3060.9L1126.4 3057.4L1127.9 3056.0L1129.3 3055.7L1130.8 3054.9L1132.3 3054.5L1133.7 3054.4L1135.2 3053.3L1136.6 3054.4L1138.1 3055.2L1139.6 3056.0L1142.5 3055.6L1145.4 3056.3L1148.3 3058.7L1151.3 3058.6L1154.2 3058.4L1157.1 3060.7L1160.1 3063.2L1163.0 3064.3L1165.9 3067.3L1168.8 3070.4L1171.8 3071.6L1174.7 3071.8L1177.6 3072.9L1180.5 3074.6L1183.5 3077.8L1186.4 3079.7L1189.3 3080.3L1192.2 3081.7L1193.7 3081.5L1195.2 3083.4L1196.6 3082.8L1198.1 3083.2L1199.6 3082.8L1201.0 3081.8L1202.5 3080.7L1203.9 3078.7L1205.4 3077.4L1206.9 3074.9L1208.3 3070.8L1208.9 3068.6L1209.5 3065.8L1210.1 3062.4L1210.7 3058.0L1211.3 3052.2L1211.8 3044.9L1212.4 3035.9L1213.0 3024.8L1213.6 3010.8L1214.2 2992.4L1214.8 2967.6L1215.4 2934.5L1215.9 2890.7L1216.5 2833.5L1217.1 2759.8L1217.7 2668.3L1218.3 2563.0L1218.9 2458.4L1219.5 2379.9L1220.0 2354.2L1220.6 2392.1L1221.2 2478.0L1221.8 2584.6L1222.4 2688.2L1223.0 2776.8L1223.5 2847.4L1224.1 2901.7L1224.7 2942.8L1225.3 2974.0L1225.9 2994.2L1226.5 2993.1L1227.1 2992.3L1227.6 2991.6L1228.2 2991.0L1228.8 2990.7L1229.4 2990.7L1230.0 2990.9L1230.6 2990.9L1231.2 2990.6L1231.7 2990.1L1232.3 2989.9L1232.9 2990.1L1233.5 2990.4L1234.1 2990.5L1234.7 2990.4L1235.3 2990.4L1235.8 2990.7L1236.4 2991.5L1237.0 2992.3L1237.6 2993.1L1238.2 2994.0L1238.8 2995.5L1239.3 2998.0L1239.9 3002.1L1240.5 3007.7L1241.1 3015.2L1241.7 3024.5L1242.3 3033.5L1242.9 3018.0L1243.4 3007.2L1244.0 3000.8L1244.6 2997.4L1245.2 2995.9L1245.8 2995.3L1246.4 2995.3L1247.0 2996.0L1247.5 2998.0L1248.1 3002.4L1248.7 3010.4L1249.3 3023.0L1249.9 3039.2L1250.5 3055.8L1251.1 3058.0L1251.6 3055.8L1252.2 3055.1L1252.8 3055.1L1253.4 3055.1L1254.0 3054.8L1254.6 3054.7L1255.1 3055.3L1255.7 3057.2L1256.3 3060.6L1256.9 3065.7L1257.5 3071.9L1258.1 3078.0L1258.7 3082.8L1259.2 3085.9L1259.8 3087.9L1260.4 3088.9L1261.0 3089.5L1261.6 3089.7L1262.2 3089.9L1262.8 3089.9L1263.3 3089.9L1263.9 3089.9L1265.4 3090.6L1266.9 3090.7L1268.3 3091.1L1269.8 3090.9L1271.2 3090.6L1272.7 3091.0L1274.2 3090.4L1275.6 3091.6L1277.1 3091.7L1278.6 3091.8L1280.0 3092.3L1281.5 3092.0L1284.4 3092.5L1287.3 3092.2L1290.3 3092.0L1293.2 3092.4L1296.1 3092.8L1299.0 3093.3L1302.0 3092.8L1304.9 3092.7L1307.8 3094.0L1310.7 3094.0L1313.7 3093.0L1316.6 3093.3L1319.5 3093.9L1322.4 3093.4L1325.4 3093.0L1328.3 3093.5L1331.2 3093.0L1334.2 3088.8L1336.8 3078.7L1337.1 3079.1L1340.0 3090.4L1342.9 3093.1L1345.9 3092.5L1348.8 3086.1L1350.2 3084.1L1351.7 3086.4L1354.6 3092.8L1357.6 3093.8L1360.5 3093.8L1363.4 3093.6L1366.3 3094.4L1369.3 3095.6L1372.2 3094.4L1375.1 3093.8L1378.0 3095.0L1381.0 3094.7L1383.9 3094.3L1386.8 3094.4L1389.7 3094.5L1392.7 3094.3L1395.6 3094.2L1398.5 3095.0L1401.4 3095.0L1404.4 3094.3L1407.3 3094.5L1410.2 3094.6L1413.2 3095.1L1416.1 3094.9L1419.0 3093.6L1421.9 3094.2L1424.9 3095.2L1427.8 3094.9L1430.7 3094.6L1433.6 3093.9L1436.6 3095.0L1439.5 3096.0L1442.4 3094.2L1445.3 3094.1L1448.3 3095.2L1451.2 3094.6L1454.1 3094.5L1457.0 3094.6L1460.0 3094.7L1462.9 3094.9L1465.8 3094.5L1468.7 3095.2L1471.7 3095.2L1474.6 3094.7L1477.5 3094.8L1480.5 3094.4L1483.4 3095.0L1486.3 3095.1L1489.2 3094.1L1492.2 3094.7L1495.1 3094.8L1498.0 3094.9L1500.9 3094.4L1503.9 3090.7L1504.7 3090.4L1506.8 3092.9L1509.7 3095.1L1512.6 3093.9L1515.6 3094.8L1518.5 3095.3L1521.4 3094.3L1524.3 3094.8L1527.3 3094.9L1530.2 3095.4L1533.1 3095.3L1536.0 3094.4L1539.0 3095.2L1541.9 3095.3L1544.8 3095.1L1547.7 3095.0L1550.7 3094.1L1553.6 3095.0L1556.5 3095.5L1559.5 3094.8L1562.4 3094.9L1565.3 3094.6L1568.2 3095.5L1571.2 3095.9L1574.1 3094.2L1577.0 3095.0L1579.9 3095.1L1582.9 3094.2L1585.8 3095.5L1588.7 3094.9L1591.6 3094.2L1594.6 3095.1L1597.5 3095.0L1600.4 3095.4L1603.3 3094.9L1604.8 3093.3L1606.3 3094.0L1607.7 3094.9L1609.2 3094.8L1610.7 3095.4L1612.1 3094.3L1613.6 3093.6L1615.0 3093.9L1616.5 3093.9L1618.0 3093.1L1619.4 3092.3L1620.0 3091.6L1620.6 3090.6L1621.2 3089.8L1621.8 3089.3L1622.4 3088.8L1622.9 3088.0L1623.5 3086.7L1624.1 3084.8L1624.7 3082.7L1625.3 3080.0L1625.9 3076.4L1626.5 3071.3L1627.0 3064.2L1627.6 3055.1L1628.2 3044.1L1628.8 3031.2L1629.4 3016.7L1630.0 3002.3L1630.6 2991.2L1631.1 2986.9L1631.7 2991.0L1632.3 3002.1L1632.9 3016.7L1633.5 3031.6L1634.1 3044.7L1634.7 3055.3L1635.2 3063.5L1635.8 3069.8L1636.4 3074.7L1637.0 3078.8L1637.6 3082.3L1638.2 3085.2L1638.7 3087.2L1639.3 3088.5L1639.9 3089.3L1640.5 3090.1L1641.1 3091.1L1641.7 3092.1L1642.3 3092.6L1642.8 3092.5L1644.3 3092.1L1645.8 3093.7L1647.2 3094.1L1648.7 3094.4L1650.2 3094.1L1651.6 3093.8L1653.1 3094.0L1654.5 3095.1L1656.0 3095.4L1657.5 3095.4L1658.9 3094.5L1660.4 3094.2L1663.3 3094.4L1666.3 3094.7L1669.2 3095.5L1672.1 3095.0L1675.0 3094.0L1678.0 3095.8L1680.9 3095.4L1683.8 3094.3L1686.7 3095.6L1689.7 3094.9L1692.6 3094.8L1695.5 3095.1L1698.4 3094.1L1701.4 3095.3L1704.3 3095.4L1707.2 3094.4L1710.1 3095.1L1713.1 3095.0L1716.0 3095.6L1718.9 3095.5L1721.8 3094.0L1724.8 3094.9L1727.7 3095.5L1730.6 3094.8L1733.5 3094.7L1736.5 3094.5L1739.4 3095.5L1742.3 3095.2L1745.3 3094.7L1748.2 3095.9L1751.1 3094.7L1754.0 3094.4L1757.0 3095.8L1759.9 3094.7L1762.8 3094.8L1765.7 3094.8L1768.7 3094.3L1771.6 3095.9L1774.5 3095.4L1777.4 3094.6L1780.4 3095.1L1783.3 3094.8L1786.2 3095.7L1789.1 3095.4L1792.1 3093.8L1795.0 3094.9L1797.9 3095.4L1800.8 3095.1L1803.8 3094.8L1806.7 3094.6L1809.6 3095.6L1812.6 3095.2L1815.5 3094.9L1818.4 3095.6L1821.3 3094.3L1824.3 3094.8L1827.2 3095.5L1830.1 3094.4L1833.0 3095.1L1836.0 3095.0L1838.9 3094.7L1841.8 3095.7L1844.7 3095.0L1847.7 3095.1L1850.6 3095.3L1853.5 3094.3L1856.4 3095.3L1859.4 3095.3L1862.3 3094.2L1865.2 3095.0L1868.1 3095.1L1871.1 3095.1L1874.0 3095.2L1876.9 3095.0L1879.8 3095.3L1882.8 3094.7L1885.7 3095.0L1888.6 3095.4L1891.6 3094.4L1894.5 3094.9L1897.4 3095.0L1900.3 3094.5L1903.3 3095.6L1906.2 3095.2L1909.1 3094.8L1912.0 3095.1L1915.0 3094.8L1917.9 3095.7L1920.8 3095.1L1923.7 3093.7L1926.7 3095.1L1929.6 3095.5L1932.5 3094.8L1935.4 3095.0L1938.4 3094.7L1941.3 3095.2L1944.2 3095.6L1947.1 3095.1L1950.1 3094.8L1953.0 3094.5L1955.9 3095.2L1958.9 3095.1L1961.8 3094.2L1963.2 3093.8L1964.7 3094.8L1966.2 3094.6L1967.6 3094.5L1969.1 3094.6L1970.6 3094.2L1972.0 3094.3L1973.5 3094.9L1974.9 3094.0L1976.4 3094.1L1977.9 3093.2L1979.3 3092.9L1979.9 3092.6L1980.5 3091.7L1981.1 3090.3L1981.7 3088.2L1982.3 3085.5L1982.8 3082.8L1983.4 3081.3L1984.0 3082.4L1984.6 3084.8L1985.2 3086.9L1985.8 3088.4L1986.4 3089.1L1986.9 3089.0L1987.5 3088.0L1988.1 3086.0L1988.7 3082.6L1989.3 3078.0L1989.9 3073.5L1990.5 3071.4L1991.0 3073.2L1991.6 3077.6L1992.2 3081.9L1992.8 3085.1L1993.4 3087.0L1994.0 3088.4L1994.5 3089.7L1995.1 3091.2L1995.7 3092.4L1996.3 3092.9L1996.9 3092.9L1997.5 3092.7L1998.1 3092.8L1998.6 3093.2L1999.2 3093.6L1999.8 3093.7L2000.4 3093.5L2001.0 3093.2L2001.6 3093.0L2002.2 3093.1L2003.6 3093.5L2005.1 3093.4L2006.5 3092.8L2008.0 3092.8L2009.5 3092.6L2010.9 3092.9L2012.4 3093.3L2013.9 3093.0L2015.3 3093.3L2016.8 3092.3L2018.2 3092.9L2019.7 3092.3L2022.6 3091.0L2025.6 3087.4L2027.3 3086.5L2028.5 3086.8L2031.4 3090.5L2034.3 3091.9L2037.3 3092.0L2040.2 3091.5L2043.1 3091.3L2046.0 3089.8L2049.0 3085.7L2051.9 3088.6L2054.8 3090.1L2057.8 3089.9L2060.7 3085.3L2063.6 3088.7L2066.5 3091.2L2069.5 3090.9L2072.4 3090.7L2075.3 3090.9L2078.2 3090.4L2081.2 3090.3L2084.1 3089.8L2087.0 3089.5L2089.9 3090.1L2092.9 3089.6L2095.8 3088.8L2098.7 3088.5L2101.6 3088.5L2104.6 3088.7L2107.5 3087.9L2110.4 3086.5L2113.3 3086.6L2116.3 3087.5L2119.2 3086.9L2122.1 3085.3L2125.0 3085.6L2128.0 3086.4L2130.9 3085.4L2133.8 3084.8L2136.8 3084.6L2139.7 3084.0L2142.6 3083.7L2145.5 3083.5L2148.5 3083.1L2151.4 3082.8L2154.3 3082.2L2157.2 3082.1L2160.2 3082.5L2163.1 3081.9L2166.0 3081.0L2168.9 3080.5L2171.9 3080.6L2174.8 3080.7L2177.7 3079.9L2180.6 3078.5L2183.6 3078.7L2186.5 3079.9L2189.4 3078.8L2192.3 3077.4L2195.3 3078.0L2198.2 3078.0L2201.1 3076.9L2204.1 3076.4L2207.0 3076.0L2209.9 3075.8L2212.8 3075.2L2215.8 3074.6L2218.7 3074.7L2221.6 3073.1L2224.5 3070.6L2227.5 3068.4L2230.4 3066.6L2233.3 3064.7L2236.2 3062.2L2239.2 3060.2L2242.1 3059.1L2245.0 3058.7L2247.9 3057.9" fill="none" stroke="#0000FF" stroke-width="8" stroke-linejoin="round" stroke-linecap="round"/>
<path d="M1229.0 3003.4L1229.5 3003.4L1230.0 3003.4L1230.5 3003.3L1231.0 3003.3L1231.5 3003.3L1232.0 3003.3L1232.5 3003.3L1233.0 3003.3L1233.5 3003.4L1234.0 3003.4L1234.5 3003.4L1235.0 3003.5L1235.5 3003.6L1236.0 3003.7L1236.5 3003.9L1237.0 3004.2L1237.5 3004.7L1238.0 3005.3L1238.5 3006.3L1239.0 3007.7L1239.5 3009.8L1240.0 3012.8L1240.5 3016.8L1241.0 3022.2L1241.5 3028.9L1242.0 3036.9L1242.5 3034.7L1243.0 3024.6L1243.5 3017.3L1244.0 3012.7L1244.5 3010.0L1245.0 3008.6L1245.5 3007.9L1246.0 3007.7L1246.5 3007.9L1247.0 3008.6L1247.5 3010.1L1248.0 3012.8L1248.5 3017.4L1249.0 3024.7L1249.5 3034.9L1250.0 3047.2L1250.5 3059.4L1251.0 3059.1L1251.5 3057.2L1252.0 3056.1L1252.5 3055.5L1253.0 3055.2L1253.5 3055.2L1254.0 3055.3L1254.5 3055.6L1255.0 3056.2L1255.5 3057.3L1256.0 3059.2L1256.0 3059.8L1255.5 3058.1L1255.0 3057.1L1254.5 3056.6L1254.0 3056.3L1253.5 3056.2L1253.0 3056.3L1252.5 3056.6L1252.0 3057.2L1251.5 3058.2L1251.0 3059.9L1250.5 3060.4L1250.0 3049.4L1249.5 3038.3L1249.0 3029.2L1248.5 3022.6L1248.0 3018.5L1247.5 3016.0L1247.0 3014.7L1246.5 3014.1L1246.0 3013.9L1245.5 3014.1L1245.0 3014.7L1244.5 3016.1L1244.0 3018.5L1243.5 3022.7L1243.0 3029.2L1242.5 3038.4L1242.0 3040.7L1241.5 3033.7L1241.0 3027.7L1240.5 3022.9L1240.0 3019.3L1239.5 3016.7L1239.0 3014.8L1238.5 3013.6L1238.0 3012.7L1237.5 3012.1L1237.0 3011.7L1236.5 3011.5L1236.0 3011.3L1235.5 3011.2L1235.0 3011.2L1234.5 3011.1L1234.0 3011.1L1233.5 3011.1L1233.0 3011.1L1232.5 3011.1L1232.0 3011.1L1231.5 3011.1L1231.0 3011.1L1230.5 3011.1L1230.0 3011.1L1229.5 3011.2L1229.0 3011.2Z" fill="#FF00FF"/>
<path d="M375.3 2811.0L378.2 2806.1L381.2 2801.8L384.1 2799.0L387.0 2801.9L389.9 2807.5L392.9 2810.9L395.8 2815.9L398.7 2822.6L401.6 2825.7L404.6 2828.1L407.5 2828.9L410.4 2834.5L413.3 2833.5L416.3 2840.2L419.2 2843.1L422.1 2844.8L425.0 2847.3L428.0 2854.3L430.9 2856.3L433.8 2858.6L436.7 2864.4L439.7 2865.9L442.6 2870.1L445.5 2873.9L448.5 2880.3L451.4 2881.1L454.3 2885.4L457.2 2890.3L460.2 2896.7L463.1 2896.8L466.0 2900.4L468.9 2906.1L471.9 2908.4L474.8 2910.7L477.7 2917.3L480.6 2917.2L483.6 2923.1L486.5 2927.4L489.4 2932.8L492.3 2933.7L495.3 2940.2L498.2 2945.1L501.1 2945.8L504.0 2950.4L507.0 2951.3L509.9 2958.5L512.8 2956.4L515.7 2960.9L518.7 2965.0L521.6 2967.3L524.5 2968.9L527.5 2971.1L530.4 2974.2L533.3 2977.3L536.2 2980.5L539.2 2982.1L542.1 2980.6L545.0 2989.0L547.9 2988.5L550.9 2992.6L553.8 2991.5L556.7 2993.7L559.6 2999.0L562.6 2999.3L565.5 3000.7L567.0 2999.7L568.4 2999.0L569.9 3002.1L571.3 3005.9L572.8 3007.3L574.3 3007.6L575.7 3009.4L577.2 3012.0L578.7 3013.3L580.1 3013.1L581.6 3013.4L582.2 3014.2L582.8 3015.4L583.3 3016.8L583.9 3018.4L584.5 3019.7L585.1 3020.6L585.7 3021.1L586.3 3021.2L586.8 3021.0L587.4 3020.6L588.0 3019.9L588.6 3018.7L589.2 3018.1L589.8 3012.9L590.4 3004.2L590.9 2991.0L591.5 2975.7L592.1 2968.3L592.7 2976.1L593.3 2991.7L593.9 3005.1L594.5 3013.9L595.0 3019.0L595.6 3021.6L596.2 3022.9L596.8 3023.8L597.4 3024.7L598.0 3026.0L598.6 3027.6L599.1 3029.4L599.7 3030.9L600.3 3031.8L600.9 3032.2L601.5 3032.0L602.1 3031.8L602.7 3031.9L603.2 3032.5L603.8 3033.5L605.3 3035.6L606.7 3033.4L608.2 3030.6L609.7 3034.1L611.1 3036.0L612.6 3036.5L614.1 3036.3L615.5 3036.6L617.0 3037.1L618.5 3037.5L619.9 3038.4L621.4 3038.8L624.3 3038.2L627.2 3039.7L630.2 3040.9L633.1 3042.7L634.5 3042.3L636.0 3041.4L637.5 3041.3L638.9 3042.4L640.4 3043.2L641.9 3043.1L643.3 3043.8L644.8 3045.1L646.2 3044.7L647.7 3043.0L649.2 3042.5L650.6 3043.2L651.2 3043.3L651.8 3043.2L652.4 3043.0L653.0 3042.8L653.6 3042.4L654.1 3041.8L654.7 3040.7L655.3 3038.7L655.9 3035.1L656.5 3029.9L657.1 3024.6L657.4 3023.0L657.7 3022.6L658.2 3023.7L658.8 3023.9L659.4 3020.5L660.0 3011.8L660.6 2996.1L661.2 2974.4L661.8 2955.9L662.0 2952.9L662.3 2955.6L662.9 2973.8L663.5 2995.8L664.1 3012.8L664.7 3024.0L665.3 3031.2L665.9 3035.8L666.4 3038.9L667.0 3040.8L667.6 3042.0L668.2 3042.9L668.8 3043.7L669.4 3044.5L669.9 3045.4L670.5 3046.4L671.1 3047.4L671.7 3048.1L672.3 3048.6L672.9 3048.7L673.5 3048.6L674.0 3048.2L674.6 3047.8L675.2 3047.4L675.8 3047.1L676.4 3046.9L677.0 3046.8L677.6 3046.9L678.1 3047.1L678.7 3047.3L679.3 3047.4L679.9 3047.4L680.5 3047.1L681.1 3046.4L681.7 3045.3L682.2 3043.6L682.8 3041.2L683.4 3038.0L684.0 3034.0L684.6 3029.6L685.2 3026.0L685.7 3024.6L686.3 3026.2L686.9 3030.1L687.5 3034.7L688.1 3039.0L688.7 3042.5L689.3 3045.2L689.8 3047.2L690.4 3048.7L691.0 3049.8L691.6 3050.7L692.2 3051.5L692.8 3052.4L693.4 3053.3L693.9 3054.1L694.5 3054.8L695.1 3055.3L695.7 3055.4L696.3 3055.2L696.9 3054.9L697.5 3054.7L698.9 3055.3L700.4 3057.2L701.8 3057.6L703.3 3056.8L704.8 3057.3L706.2 3058.3L707.7 3058.0L709.2 3058.0L710.6 3059.4L712.1 3060.5L713.5 3060.4L715.0 3060.1L717.9 3060.2L720.9 3062.6L723.8 3062.3L726.7 3062.8L729.6 3064.0L732.6 3064.4L735.5 3065.4L738.4 3064.7L741.3 3066.3L742.8 3066.1L744.3 3066.5L745.7 3067.5L747.2 3067.5L748.7 3067.1L750.1 3067.4L751.6 3067.7L753.0 3067.6L754.5 3068.3L756.0 3069.2L757.4 3068.5L758.0 3067.9L758.6 3067.5L759.2 3067.5L759.8 3067.8L760.4 3068.3L760.9 3068.8L761.5 3069.0L762.1 3068.8L762.7 3068.1L763.3 3066.9L763.9 3065.5L764.5 3063.8L765.0 3061.9L765.6 3059.5L766.2 3055.9L766.8 3050.4L767.4 3042.8L768.0 3034.8L768.6 3030.7L769.1 3033.4L769.7 3040.1L770.3 3046.4L770.9 3050.3L771.5 3051.7L772.1 3050.6L772.7 3046.9L773.2 3039.9L773.8 3028.1L774.4 3009.3L775.0 2980.6L775.6 2941.9L776.2 2902.4L776.7 2884.5L777.3 2902.6L777.9 2942.2L778.5 2981.1L779.1 3009.9L779.7 3029.1L780.3 3041.5L780.8 3049.3L781.4 3054.4L782.0 3057.4L782.6 3059.2L783.2 3059.8L783.8 3059.5L784.4 3058.2L784.9 3055.6L785.5 3051.3L786.1 3044.9L786.7 3036.9L787.3 3029.4L787.9 3026.5L788.5 3030.3L789.0 3038.5L789.6 3047.2L790.2 3054.2L790.8 3059.1L791.4 3062.3L792.0 3064.3L792.5 3065.7L793.1 3066.8L793.7 3068.0L794.3 3069.1L794.9 3070.3L795.5 3071.2L796.1 3071.7L796.6 3071.8L797.2 3071.5L797.8 3071.1L798.4 3070.7L799.0 3070.5L799.6 3070.8L801.0 3072.2L802.5 3072.9L804.0 3072.5L805.4 3072.8L806.9 3073.3L808.3 3072.6L809.8 3072.0L811.3 3072.5L812.7 3072.8L814.2 3072.9L815.7 3074.0L817.1 3074.9L820.1 3073.1L823.0 3072.7L825.9 3069.7L827.7 3070.5L828.8 3072.1L831.8 3074.3L834.7 3076.0L837.6 3077.3L840.5 3077.9L843.5 3079.4L846.4 3080.7L849.3 3078.7L852.2 3078.9L855.2 3080.7L858.1 3082.0L861.0 3079.8L863.9 3080.5L866.9 3081.1L869.8 3082.2L872.7 3082.1L875.6 3081.6L878.6 3082.2L881.5 3081.9L884.4 3083.6L887.4 3083.4L890.3 3083.0L893.2 3082.1L896.1 3085.2L899.1 3084.1L902.0 3083.9L904.9 3084.3L907.8 3084.7L910.8 3084.2L913.7 3085.2L916.6 3085.3L919.5 3084.6L922.5 3084.6L925.4 3085.7L928.3 3085.6L931.2 3085.7L934.2 3084.5L937.1 3086.1L940.0 3086.0L942.9 3085.7L945.9 3086.7L948.8 3085.2L951.7 3086.5L954.6 3086.3L957.6 3087.7L960.5 3085.3L963.4 3086.9L966.4 3086.9L969.3 3086.8L972.2 3087.1L975.1 3086.1L978.1 3087.0L981.0 3087.4L983.9 3086.5L986.8 3087.0L989.8 3086.6L992.7 3087.6L995.6 3086.3L998.5 3087.3L1001.5 3086.8L1004.4 3087.0L1005.9 3087.0L1007.3 3087.3L1008.8 3086.3L1010.2 3085.1L1011.7 3085.6L1013.2 3085.8L1014.6 3083.0L1016.1 3079.1L1016.7 3078.7L1017.6 3079.9L1019.0 3083.0L1020.5 3083.8L1021.1 3083.5L1021.7 3083.1L1022.2 3082.6L1022.8 3082.0L1023.4 3081.2L1024.0 3080.2L1024.6 3078.8L1025.2 3076.8L1025.7 3074.1L1026.3 3070.4L1026.9 3065.3L1027.5 3058.3L1028.1 3048.4L1028.7 3034.9L1029.3 3016.9L1029.8 2995.4L1030.4 2974.0L1031.0 2960.0L1031.3 2958.1L1031.6 2960.1L1032.2 2974.1L1032.8 2995.5L1033.4 3016.9L1033.9 3034.7L1034.5 3048.1L1035.1 3057.8L1035.7 3064.8L1036.3 3070.0L1036.9 3074.0L1037.5 3077.0L1038.0 3079.4L1038.6 3081.4L1039.2 3083.0L1039.8 3084.3L1040.4 3085.4L1041.0 3086.2L1041.6 3086.7L1042.1 3086.8L1042.7 3086.7L1043.3 3086.4L1044.8 3085.7L1046.2 3085.9L1047.7 3085.4L1049.2 3082.6L1050.6 3079.4L1052.1 3077.7L1053.5 3077.0L1055.0 3077.7L1056.5 3080.7L1057.9 3084.6L1059.4 3086.6L1060.9 3087.1L1063.8 3088.3L1066.7 3088.6L1069.6 3090.3L1071.1 3090.2L1072.6 3090.5L1074.0 3090.5L1075.5 3089.2L1077.0 3088.2L1078.4 3088.9L1079.9 3090.3L1081.3 3090.7L1082.8 3089.6L1084.3 3088.3L1085.7 3088.0L1086.3 3088.1L1086.9 3088.2L1087.5 3088.2L1088.1 3088.0L1088.7 3087.5L1089.2 3087.0L1089.8 3086.0L1090.4 3085.1L1091.0 3084.1L1091.6 3082.9L1092.2 3081.4L1092.8 3079.3L1093.3 3076.5L1093.9 3072.8L1094.5 3068.4L1095.1 3063.7L1095.7 3060.0L1096.3 3058.5L1096.9 3059.7L1097.4 3062.9L1098.0 3066.8L1098.6 3070.1L1099.2 3072.4L1099.8 3073.9L1100.4 3074.7L1100.9 3075.0L1101.5 3075.0L1102.1 3074.5L1102.7 3073.5L1103.3 3071.9L1103.9 3069.7L1104.5 3066.8L1105.0 3063.2L1105.6 3058.6L1106.2 3052.8L1106.8 3044.9L1107.4 3033.9L1108.0 3018.9L1108.6 3000.3L1109.1 2981.1L1109.7 2968.0L1110.0 2965.8L1110.3 2967.2L1110.9 2979.2L1111.5 2997.7L1112.1 3016.3L1112.7 3031.6L1113.2 3043.2L1113.8 3051.3L1114.4 3056.6L1115.0 3060.0L1115.6 3061.9L1116.2 3063.1L1116.7 3063.9L1117.3 3064.5L1117.9 3065.2L1118.5 3065.9L1119.1 3066.5L1119.7 3066.9L1120.3 3065.9L1120.8 3064.7L1121.4 3063.3L1122.0 3062.1L1123.5 3059.0L1124.9 3055.6L1126.4 3052.3L1127.9 3050.4L1129.3 3050.1L1130.8 3049.0L1132.3 3047.5L1133.7 3046.2L1135.2 3045.4L1136.6 3046.1L1138.1 3047.5L1139.6 3048.8L1142.5 3050.4L1145.4 3048.2L1148.3 3051.0L1151.3 3050.4L1154.2 3052.2L1157.1 3051.4L1160.1 3053.2L1163.0 3056.2L1165.9 3060.2L1168.8 3063.5L1171.8 3062.9L1174.7 3065.1L1177.6 3066.3L1180.5 3069.0L1183.5 3072.0L1186.4 3073.9L1189.3 3078.1L1192.2 3079.0L1193.7 3079.5L1195.2 3079.7L1196.6 3080.2L1198.1 3080.8L1199.6 3080.3L1201.0 3079.4L1202.5 3079.5L1203.9 3079.0L1205.4 3076.5L1206.9 3073.8L1208.3 3070.6L1208.9 3068.7L1209.5 3066.0L1210.1 3062.6L1210.7 3058.2L1211.3 3052.9L1211.8 3046.6L1212.4 3038.8L1213.0 3029.1L1213.6 3016.7L1214.2 3000.3L1214.8 2978.4L1215.4 2949.0L1215.9 2909.9L1216.5 2858.0L1217.1 2791.0L1217.7 2707.9L1218.3 2612.8L1218.9 2518.9L1219.5 2448.7L1220.0 2425.7L1220.6 2459.8L1221.2 2536.9L1221.8 2632.8L1222.4 2726.3L1223.0 2806.4L1223.5 2870.4L1224.1 2919.5L1224.7 2956.5L1225.3 2984.3L1225.9 3005.2L1226.5 3004.9L1227.1 3004.0L1227.6 3003.5L1228.2 3003.3L1228.8 3003.3L1229.4 3003.4L1230.0 3003.4L1230.6 3003.5L1231.2 3003.4L1231.7 3003.3L1232.3 3003.3L1232.9 3003.2L1233.5 3003.1L1234.1 3003.2L1234.7 3003.3L1235.3 3003.4L1235.8 3003.7L1236.4 3004.1L1237.0 3004.5L1237.6 3005.1L1238.2 3005.9L1238.8 3007.1L1239.3 3009.0L1239.9 3012.0L1240.5 3016.6L1241.1 3023.2L1241.7 3031.8L1242.3 3040.4L1242.9 3027.6L1243.4 3018.6L1244.0 3013.0L1244.6 3009.8L1245.2 3008.1L1245.8 3007.3L1246.4 3007.2L1247.0 3008.0L1247.5 3010.0L1248.1 3013.8L1248.7 3020.4L1249.3 3030.7L1249.9 3044.3L1250.5 3058.6L1251.1 3058.5L1251.6 3056.4L1252.2 3055.4L1252.8 3055.1L1253.4 3055.2L1254.0 3055.6L1254.6 3056.1L1255.1 3057.0L1255.7 3058.5L1256.3 3061.2L1256.9 3065.6L1257.5 3071.4L1258.1 3077.2L1258.7 3081.7L1259.2 3084.5L1259.8 3086.0L1260.4 3086.6L1261.0 3086.8L1261.6 3086.9L1262.2 3087.1L1262.8 3087.6L1263.3 3088.2L1263.9 3088.8L1265.4 3089.3L1266.9 3088.5L1268.3 3088.2L1269.8 3088.9L1271.2 3089.1L1272.7 3089.2L1274.2 3089.7L1275.6 3090.3L1277.1 3090.2L1278.6 3089.7L1280.0 3089.5L1281.5 3090.1L1284.4 3091.4L1287.3 3090.8L1290.3 3090.8L1293.2 3091.2L1296.1 3091.2L1299.0 3092.2L1302.0 3091.0L1304.9 3092.4L1307.8 3091.2L1310.7 3092.3L1313.7 3092.7L1316.6 3092.6L1319.5 3091.5L1322.4 3091.9L1325.4 3093.8L1328.3 3091.9L1331.2 3091.3L1334.2 3087.8L1336.8 3078.7L1337.1 3079.1L1340.0 3089.9L1342.9 3091.7L1345.9 3090.5L1348.8 3085.3L1350.2 3083.2L1351.7 3086.1L1354.6 3092.2L1357.6 3092.3L1360.5 3092.7L1363.4 3092.9L1366.3 3094.7L1369.3 3093.0L1372.2 3093.4L1375.1 3093.4L1378.0 3093.7L1381.0 3093.8L1383.9 3093.9L1386.8 3093.4L1389.7 3093.3L1392.7 3094.1L1395.6 3093.7L1398.5 3094.0L1401.4 3093.3L1404.4 3093.5L1407.3 3093.9L1410.2 3094.2L1413.2 3093.5L1416.1 3093.7L1419.0 3093.5L1421.9 3094.1L1424.9 3094.0L1427.8 3093.9L1430.7 3093.1L1433.6 3094.2L1436.6 3093.7L1439.5 3094.6L1442.4 3093.4L1445.3 3093.4L1448.3 3094.3L1451.2 3094.4L1454.1 3093.7L1457.0 3093.3L1460.0 3094.7L1462.9 3093.5L1465.8 3094.3L1468.7 3093.9L1471.7 3093.8L1474.6 3094.0L1477.5 3094.1L1480.5 3094.2L1483.4 3093.7L1486.3 3093.9L1489.2 3094.7L1492.2 3093.6L1495.1 3094.0L1498.0 3093.6L1500.9 3094.3L1503.9 3089.5L1504.7 3089.2L1506.8 3091.8L1509.7 3094.3L1512.6 3093.7L1515.6 3094.2L1518.5 3093.8L1521.4 3094.5L1524.3 3093.8L1527.3 3094.9L1530.2 3094.0L1533.1 3093.7L1536.0 3094.4L1539.0 3094.7L1541.9 3094.5L1544.8 3093.6L1547.7 3094.0L1550.7 3095.3L1553.6 3093.7L1556.5 3094.6L1559.5 3093.9L1562.4 3094.4L1565.3 3094.0L1568.2 3095.0L1571.2 3094.1L1574.1 3093.6L1577.0 3094.7L1579.9 3094.2L1582.9 3094.7L1585.8 3093.9L1588.7 3094.0L1591.6 3094.2L1594.6 3094.5L1597.5 3094.3L1600.4 3094.1L1603.3 3093.5L1604.8 3093.5L1606.3 3094.1L1607.7 3094.3L1609.2 3094.5L1610.7 3094.8L1612.1 3094.0L1613.6 3092.6L1615.0 3092.4L1616.5 3093.1L1618.0 3092.7L1619.4 3091.6L1620.0 3091.3L1620.6 3091.0L1621.2 3090.9L1621.8 3090.6L1622.4 3090.1L1622.9 3089.2L1623.5 3087.9L1624.1 3086.2L1624.7 3084.0L1625.3 3081.2L1625.9 3077.7L1626.5 3073.2L1627.0 3067.5L1627.6 3060.1L1628.2 3050.8L1628.8 3039.5L1629.4 3026.8L1630.0 3014.5L1630.6 3005.2L1631.1 3001.8L1631.7 3005.4L1632.3 3014.9L1632.9 3027.5L1633.5 3040.3L1634.1 3051.7L1634.7 3061.2L1635.2 3068.7L1635.8 3074.4L1636.4 3078.6L1637.0 3081.7L1637.6 3084.0L1638.2 3085.7L1638.7 3086.9L1639.3 3088.0L1639.9 3088.8L1640.5 3089.5L1641.1 3090.1L1641.7 3090.6L1642.3 3091.1L1642.8 3091.5L1644.3 3092.6L1645.8 3093.2L1647.2 3093.1L1648.7 3093.4L1650.2 3094.6L1651.6 3094.9L1653.1 3093.7L1654.5 3093.0L1656.0 3093.7L1657.5 3093.9L1658.9 3093.6L1660.4 3094.0L1663.3 3094.9L1666.3 3094.2L1669.2 3093.5L1672.1 3094.4L1675.0 3094.3L1678.0 3094.7L1680.9 3093.5L1683.8 3094.7L1686.7 3094.0L1689.7 3094.0L1692.6 3094.8L1695.5 3094.3L1698.4 3093.6L1701.4 3094.6L1704.3 3094.4L1707.2 3094.3L1710.1 3094.0L1713.1 3094.8L1716.0 3093.7L1718.9 3094.4L1721.8 3094.3L1724.8 3094.7L1727.7 3093.8L1730.6 3094.0L1733.5 3094.9L1736.5 3094.3L1739.4 3093.9L1742.3 3094.3L1745.3 3094.8L1748.2 3093.6L1751.1 3094.8L1754.0 3094.3L1757.0 3094.1L1759.9 3094.1L1762.8 3094.7L1765.7 3094.1L1768.7 3094.3L1771.6 3094.4L1774.5 3094.3L1777.4 3094.0L1780.4 3094.5L1783.3 3094.4L1786.2 3094.6L1789.1 3093.2L1792.1 3094.8L1795.0 3094.7L1797.9 3094.0L1800.8 3094.1L1803.8 3093.9L1806.7 3094.8L1809.6 3094.2L1812.6 3094.8L1815.5 3093.1L1818.4 3094.6L1821.3 3094.8L1824.3 3094.4L1827.2 3094.1L1830.1 3093.6L1833.0 3094.6L1836.0 3095.0L1838.9 3093.9L1841.8 3094.0L1844.7 3093.8L1847.7 3095.2L1850.6 3094.1L1853.5 3094.4L1856.4 3093.6L1859.4 3094.4L1862.3 3094.9L1865.2 3093.8L1868.1 3094.8L1871.1 3093.4L1874.0 3094.5L1876.9 3094.6L1879.8 3094.6L1882.8 3093.6L1885.7 3094.2L1888.6 3094.7L1891.6 3094.2L1894.5 3094.4L1897.4 3094.3L1900.3 3093.6L1903.3 3094.7L1906.2 3094.3L1909.1 3094.9L1912.0 3093.3L1915.0 3094.1L1917.9 3095.0L1920.8 3094.5L1923.7 3093.7L1926.7 3093.9L1929.6 3094.9L1932.5 3093.9L1935.4 3094.9L1938.4 3094.0L1941.3 3093.8L1944.2 3094.4L1947.1 3095.1L1950.1 3093.8L1953.0 3093.9L1955.9 3094.3L1958.9 3094.7L1961.8 3093.8L1963.2 3094.1L1964.7 3093.6L1966.2 3093.1L1967.6 3093.9L1969.1 3094.7L1970.6 3094.0L1972.0 3093.0L1973.5 3092.9L1974.9 3093.4L1976.4 3093.5L1977.9 3093.2L1979.3 3092.4L1979.9 3091.9L1980.5 3091.1L1981.1 3090.1L1981.7 3088.5L1982.3 3086.2L1982.8 3083.7L1983.4 3082.5L1984.0 3083.5L1984.6 3085.7L1985.2 3087.6L1985.8 3088.7L1986.4 3089.0L1986.9 3088.7L1987.5 3087.7L1988.1 3085.7L1988.7 3082.7L1989.3 3078.9L1989.9 3075.2L1990.5 3073.5L1991.0 3075.1L1991.6 3078.7L1992.2 3082.5L1992.8 3085.6L1993.4 3087.8L1994.0 3089.2L1994.5 3090.3L1995.1 3091.1L1995.7 3091.7L1996.3 3092.2L1996.9 3092.6L1997.5 3092.7L1998.1 3092.6L1998.6 3092.3L1999.2 3091.9L1999.8 3091.5L2000.4 3091.3L2001.0 3091.3L2001.6 3091.7L2002.2 3092.1L2003.6 3093.0L2005.1 3092.4L2006.5 3092.0L2008.0 3092.6L2009.5 3092.8L2010.9 3092.0L2012.4 3091.5L2013.9 3091.7L2015.3 3091.6L2016.8 3091.6L2018.2 3092.0L2019.7 3091.9L2022.6 3090.1L2025.6 3086.5L2027.3 3084.0L2028.5 3085.3L2031.4 3089.8L2034.3 3090.5L2037.3 3091.5L2040.2 3090.0L2043.1 3090.5L2046.0 3088.6L2049.0 3084.9L2051.9 3088.3L2054.8 3089.2L2057.8 3088.0L2060.7 3084.1L2063.6 3088.8L2066.5 3088.9L2069.5 3089.9L2072.4 3089.7L2075.3 3089.5L2078.2 3089.9L2081.2 3089.3L2084.1 3088.7L2087.0 3088.6L2089.9 3088.9L2092.9 3089.1L2095.8 3087.1L2098.7 3087.4L2101.6 3086.9L2104.6 3088.2L2107.5 3086.0L2110.4 3086.0L2113.3 3085.9L2116.3 3085.2L2119.2 3086.2L2122.1 3084.7L2125.0 3084.0L2128.0 3083.6L2130.9 3085.0L2133.8 3083.7L2136.8 3082.3L2139.7 3082.7L2142.6 3082.8L2145.5 3082.6L2148.5 3081.7L2151.4 3081.0L2154.3 3081.6L2157.2 3080.2L2160.2 3081.5L2163.1 3080.0L2166.0 3079.5L2168.9 3079.2L2171.9 3080.1L2174.8 3078.8L2177.7 3078.0L2180.6 3078.8L2183.6 3077.6L2186.5 3077.7L2189.4 3077.4L2192.3 3077.1L2195.3 3076.3L2198.2 3076.1L2201.1 3076.1L2204.1 3075.9L2207.0 3074.7L2209.9 3074.7L2212.8 3074.5L2215.8 3074.3L2218.7 3073.3L2221.6 3072.5L2224.5 3069.3L2227.5 3068.0L2230.4 3065.9L2233.3 3063.6L2236.2 3061.0L2239.2 3060.2L2242.1 3059.2L2245.0 3058.1L2247.9 3057.4" fill="none" stroke="#FF00FF" stroke-width="8" stroke-linejoin="round" stroke-linecap="round"/>
<path d="M1229.0 3011.2L1229.5 3011.2L1230.0 3011.1L1230.5 3011.1L1231.0 3011.1L1231.5 3011.1L1232.0 3011.1L1232.5 3011.1L1233.0 3011.1L1233.5 3011.1L1234.0 3011.1L1234.5 3011.1L1235.0 3011.2L1235.5 3011.2L1236.0 3011.3L1236.5 3011.5L1237.0 3011.7L1237.5 3012.1L1238.0 3012.7L1238.5 3013.6L1239.0 3014.8L1239.5 3016.7L1240.0 3019.3L1240.5 3022.9L1241.0 3027.7L1241.5 3033.7L1242.0 3040.7L1242.5 3038.4L1243.0 3029.2L1243.5 3022.7L1244.0 3018.5L1244.5 3016.1L1245.0 3014.7L1245.5 3014.1L1246.0 3013.9L1246.5 3014.1L1247.0 3014.7L1247.5 3016.0L1248.0 3018.5L1248.5 3022.6L1249.0 3029.2L1249.5 3038.3L1250.0 3049.4L1250.5 3060.4L1251.0 3059.9L1251.5 3058.2L1252.0 3057.2L1252.5 3056.6L1253.0 3056.3L1253.5 3056.2L1254.0 3056.3L1254.5 3056.6L1255.0 3057.1L1255.5 3058.1L1256.0 3059.8L1256.0 3061.5L1255.5 3060.0L1255.0 3059.1L1254.5 3058.6L1254.0 3058.4L1253.5 3058.3L1253.0 3058.4L1252.5 3058.7L1252.0 3059.2L1251.5 3060.1L1251.0 3061.6L1250.5 3062.7L1250.0 3053.0L1249.5 3043.4L1249.0 3035.3L1248.5 3029.6L1248.0 3026.0L1247.5 3023.9L1247.0 3022.7L1246.5 3022.1L1246.0 3022.0L1245.5 3022.2L1245.0 3022.7L1244.5 3023.9L1244.0 3026.1L1243.5 3029.7L1243.0 3035.5L1242.5 3043.5L1242.0 3045.4L1241.5 3039.2L1241.0 3033.9L1240.5 3029.7L1240.0 3026.6L1239.5 3024.3L1239.0 3022.7L1238.5 3021.6L1238.0 3020.8L1237.5 3020.3L1237.0 3020.0L1236.5 3019.8L1236.0 3019.6L1235.5 3019.6L1235.0 3019.5L1234.5 3019.5L1234.0 3019.5L1233.5 3019.4L1233.0 3019.4L1232.5 3019.5L1232.0 3019.5L1231.5 3019.5L1231.0 3019.5L1230.5 3019.5L1230.0 3019.6L1229.5 3019.6L1229.0 3019.6Z" fill="#960000"/>
<path d="M375.3 2835.3L378.2 2835.8L381.2 2828.1L384.1 2828.2L387.0 2828.0L389.9 2835.2L392.9 2836.6L395.8 2834.9L398.7 2842.4L401.6 2847.0L404.6 2849.4L407.5 2850.3L410.4 2853.8L413.3 2856.6L416.3 2861.9L419.2 2865.4L422.1 2863.1L425.0 2867.0L428.0 2871.8L430.9 2875.5L433.8 2874.4L436.7 2880.4L439.7 2886.2L442.6 2887.3L445.5 2896.4L448.5 2896.1L451.4 2895.8L454.3 2900.1L457.2 2904.1L460.2 2909.3L463.1 2906.0L466.0 2910.4L468.9 2914.8L471.9 2918.0L474.8 2922.1L477.7 2919.5L480.6 2925.6L483.6 2930.7L486.5 2932.6L489.4 2937.3L492.3 2938.5L495.3 2942.7L498.2 2948.1L501.1 2950.6L504.0 2951.7L507.0 2954.3L509.9 2959.0L512.8 2960.5L515.7 2962.3L518.7 2968.7L521.6 2968.1L524.5 2967.9L527.5 2976.1L530.4 2978.1L533.3 2977.9L536.2 2979.7L539.2 2983.4L542.1 2986.8L545.0 2987.2L547.9 2989.5L550.9 2989.8L553.8 2993.0L556.7 2996.9L559.6 2996.0L562.6 2996.5L565.5 2998.8L567.0 2999.5L568.4 3000.3L569.9 3001.6L571.3 3003.2L572.8 3005.3L574.3 3006.1L575.7 3005.9L577.2 3006.5L578.7 3008.9L580.1 3012.0L581.6 3014.2L582.2 3014.6L582.8 3014.9L583.3 3015.1L583.9 3015.5L584.5 3016.0L585.1 3016.7L585.7 3017.6L586.3 3018.5L586.8 3019.2L587.4 3019.6L588.0 3019.5L588.6 3018.4L589.2 3017.6L589.8 3012.8L590.4 3005.3L590.9 2994.4L591.5 2982.1L592.1 2976.1L592.7 2982.1L593.3 2994.3L593.9 3005.0L594.5 3012.2L595.0 3016.7L595.6 3019.5L596.2 3021.4L596.8 3022.7L597.4 3023.8L598.0 3025.0L598.6 3026.4L599.1 3028.0L599.7 3029.5L600.3 3030.9L600.9 3031.8L601.5 3032.1L602.1 3031.7L602.7 3030.6L603.2 3028.9L603.8 3027.0L605.3 3023.5L606.7 3025.1L608.2 3030.7L609.7 3033.0L611.1 3033.3L612.6 3032.5L614.1 3032.5L615.5 3033.2L617.0 3033.4L618.5 3032.9L619.9 3032.8L621.4 3033.9L624.3 3036.3L627.2 3036.4L630.2 3037.7L633.1 3035.9L634.5 3036.3L636.0 3038.4L637.5 3040.5L638.9 3041.0L640.4 3040.0L641.9 3039.2L643.3 3039.4L644.8 3039.7L646.2 3039.6L647.7 3039.4L649.2 3039.8L650.6 3040.6L651.2 3040.8L651.8 3040.9L652.4 3040.8L653.0 3040.5L653.6 3040.0L654.1 3039.3L654.7 3038.2L655.3 3036.6L655.9 3034.0L656.5 3030.3L657.1 3026.6L657.4 3025.6L657.7 3025.3L658.2 3026.1L658.8 3026.0L659.4 3023.0L660.0 3016.0L660.6 3004.2L661.2 2988.2L661.8 2974.9L662.0 2973.0L662.3 2975.3L662.9 2989.4L663.5 3006.3L664.1 3019.2L664.7 3027.6L665.3 3032.9L665.9 3036.1L666.4 3038.2L667.0 3039.5L667.6 3040.5L668.2 3041.3L668.8 3042.0L669.4 3042.7L669.9 3043.3L670.5 3043.7L671.1 3044.0L671.7 3044.2L672.3 3044.2L672.9 3044.1L673.5 3043.9L674.0 3043.7L674.6 3043.6L675.2 3043.7L675.8 3043.9L676.4 3044.3L677.0 3044.7L677.6 3045.2L678.1 3045.7L678.7 3046.1L679.3 3046.3L679.9 3046.4L680.5 3046.4L681.1 3046.0L681.7 3045.5L682.2 3044.5L682.8 3043.1L683.4 3040.9L684.0 3038.2L684.6 3035.0L685.2 3032.3L685.7 3030.9L686.3 3031.5L686.9 3033.7L687.5 3036.6L688.1 3039.5L688.7 3042.2L689.3 3044.6L689.8 3046.8L690.4 3048.7L691.0 3050.3L691.6 3051.5L692.2 3052.4L692.8 3052.9L693.4 3053.0L693.9 3052.8L694.5 3052.6L695.1 3052.3L695.7 3052.3L696.3 3052.4L696.9 3052.8L697.5 3053.2L698.9 3054.4L700.4 3054.6L701.8 3054.1L703.3 3054.2L704.8 3055.6L706.2 3057.0L707.7 3057.5L709.2 3057.3L710.6 3057.3L712.1 3057.7L713.5 3057.8L715.0 3057.3L717.9 3059.1L720.9 3061.9L723.8 3059.6L726.7 3061.3L729.6 3062.6L732.6 3062.5L735.5 3063.7L738.4 3063.4L741.3 3064.6L742.8 3065.0L744.3 3065.0L745.7 3064.9L747.2 3065.3L748.7 3065.9L750.1 3066.4L751.6 3066.6L753.0 3066.6L754.5 3066.7L756.0 3066.9L757.4 3066.9L758.0 3066.8L758.6 3066.7L759.2 3066.6L759.8 3066.6L760.4 3066.6L760.9 3066.6L761.5 3066.6L762.1 3066.5L762.7 3066.4L763.3 3066.1L763.9 3065.6L764.5 3064.6L765.0 3063.1L765.6 3060.6L766.2 3056.9L766.8 3051.5L767.4 3044.4L768.0 3037.2L768.6 3033.6L769.1 3036.1L769.7 3042.2L770.3 3048.1L770.9 3052.0L771.5 3053.7L772.1 3053.4L772.7 3050.8L773.2 3045.5L773.8 3036.3L774.4 3021.4L775.0 2998.6L775.6 2967.9L776.2 2936.6L776.7 2922.3L777.3 2936.4L777.9 2967.5L778.5 2998.2L779.1 3021.1L779.7 3036.5L780.3 3046.3L780.8 3052.6L781.4 3056.6L782.0 3059.0L782.6 3060.2L783.2 3060.6L783.8 3060.2L784.4 3059.0L784.9 3056.7L785.5 3053.1L786.1 3047.9L786.7 3041.4L787.3 3035.3L787.9 3032.9L788.5 3035.9L789.0 3042.6L789.6 3049.7L790.2 3055.5L790.8 3059.7L791.4 3062.5L792.0 3064.5L792.5 3065.8L793.1 3066.8L793.7 3067.4L794.3 3067.8L794.9 3068.1L795.5 3068.3L796.1 3068.4L796.6 3068.6L797.2 3068.9L797.8 3069.3L798.4 3069.8L799.0 3070.3L799.6 3070.8L801.0 3071.7L802.5 3071.4L804.0 3070.2L805.4 3069.2L806.9 3069.5L808.3 3070.7L809.8 3072.0L811.3 3072.4L812.7 3072.0L814.2 3071.2L815.7 3070.8L817.1 3070.9L820.1 3071.5L823.0 3070.6L825.9 3068.0L827.7 3066.9L828.8 3067.3L831.8 3071.2L834.7 3074.9L837.6 3075.9L840.5 3077.5L843.5 3077.4L846.4 3078.1L849.3 3078.7L852.2 3078.3L855.2 3080.4L858.1 3078.4L861.0 3079.6L863.9 3080.7L866.9 3079.4L869.8 3081.5L872.7 3080.5L875.6 3080.9L878.6 3080.9L881.5 3082.4L884.4 3083.0L887.4 3080.1L890.3 3083.1L893.2 3083.7L896.1 3082.6L899.1 3083.2L902.0 3083.4L904.9 3084.1L907.8 3083.6L910.8 3084.3L913.7 3083.9L916.6 3084.2L919.5 3084.7L922.5 3084.3L925.4 3084.8L928.3 3084.9L931.2 3085.2L934.2 3084.3L937.1 3085.6L940.0 3085.6L942.9 3085.5L945.9 3085.9L948.8 3084.2L951.7 3087.0L954.6 3086.9L957.6 3085.2L960.5 3085.8L963.4 3086.5L966.4 3087.6L969.3 3085.3L972.2 3086.6L975.1 3086.9L978.1 3085.4L981.0 3087.8L983.9 3086.8L986.8 3085.8L989.8 3086.4L992.7 3087.0L995.6 3087.5L998.5 3086.4L1001.5 3086.4L1004.4 3086.3L1005.9 3086.2L1007.3 3086.6L1008.8 3087.4L1010.2 3087.6L1011.7 3086.7L1013.2 3084.6L1014.6 3081.7L1016.1 3079.2L1016.7 3079.0L1017.6 3080.1L1019.0 3083.1L1020.5 3084.7L1021.1 3084.8L1021.7 3084.7L1022.2 3084.4L1022.8 3084.0L1023.4 3083.3L1024.0 3082.4L1024.6 3081.1L1025.2 3079.3L1025.7 3076.8L1026.3 3073.3L1026.9 3068.4L1027.5 3061.8L1028.1 3052.7L1028.7 3040.5L1029.3 3024.7L1029.8 3006.1L1030.4 2987.8L1031.0 2976.1L1031.3 2974.7L1031.6 2976.7L1032.2 2989.6L1032.8 3008.8L1033.4 3028.0L1033.9 3044.1L1034.5 3056.2L1035.1 3064.9L1035.7 3070.9L1036.3 3075.1L1036.9 3077.9L1037.5 3079.9L1038.0 3081.2L1038.6 3082.2L1039.2 3082.9L1039.8 3083.4L1040.4 3083.8L1041.0 3084.1L1041.6 3084.4L1042.1 3084.6L1042.7 3084.9L1043.3 3085.2L1044.8 3086.1L1046.2 3086.7L1047.7 3086.2L1049.2 3083.9L1050.6 3080.4L1052.1 3077.2L1053.5 3076.0L1055.0 3077.7L1056.5 3080.4L1057.9 3082.7L1059.4 3084.9L1060.9 3087.2L1063.8 3090.1L1066.7 3088.8L1069.6 3088.0L1071.1 3088.8L1072.6 3089.9L1074.0 3090.5L1075.5 3090.5L1077.0 3090.2L1078.4 3090.0L1079.9 3089.7L1081.3 3089.3L1082.8 3088.5L1084.3 3087.7L1085.7 3087.5L1086.3 3087.5L1086.9 3087.5L1087.5 3087.5L1088.1 3087.5L1088.7 3087.3L1089.2 3087.2L1089.8 3086.7L1090.4 3086.1L1091.0 3085.4L1091.6 3084.5L1092.2 3083.3L1092.8 3081.7L1093.3 3079.5L1093.9 3076.5L1094.5 3072.7L1095.1 3068.5L1095.7 3064.7L1096.3 3062.5L1096.9 3062.5L1097.4 3064.3L1098.0 3066.9L1098.6 3069.5L1099.2 3071.8L1099.8 3073.6L1100.4 3075.0L1100.9 3075.9L1101.5 3076.2L1102.1 3076.0L1102.7 3075.3L1103.3 3074.0L1103.9 3072.2L1104.5 3069.9L1105.0 3067.0L1105.6 3063.2L1106.2 3058.2L1106.8 3051.3L1107.4 3041.8L1108.0 3029.0L1108.6 3013.3L1109.1 2997.3L1109.7 2986.2L1110.0 2984.3L1110.3 2985.3L1110.9 2994.6L1111.5 3009.3L1112.1 3024.0L1112.7 3036.3L1113.2 3045.8L1113.8 3052.8L1114.4 3058.1L1115.0 3061.9L1115.6 3064.6L1116.2 3066.3L1116.7 3067.2L1117.3 3067.6L1117.9 3067.4L1118.5 3067.1L1119.1 3066.7L1119.7 3066.3L1120.3 3064.5L1120.8 3062.9L1121.4 3061.3L1122.0 3059.8L1123.5 3055.6L1124.9 3050.8L1126.4 3046.4L1127.9 3044.4L1129.3 3044.5L1130.8 3043.4L1132.3 3041.2L1133.7 3039.6L1135.2 3039.3L1136.6 3040.3L1138.1 3040.4L1139.6 3039.8L1142.5 3042.1L1145.4 3044.9L1148.3 3042.8L1151.3 3043.2L1154.2 3043.3L1157.1 3043.9L1160.1 3045.6L1163.0 3048.8L1165.9 3053.1L1168.8 3054.4L1171.8 3057.2L1174.7 3059.3L1177.6 3059.8L1180.5 3061.0L1183.5 3067.1L1186.4 3071.3L1189.3 3074.4L1192.2 3076.2L1193.7 3076.1L1195.2 3076.5L1196.6 3077.8L1198.1 3079.3L1199.6 3079.7L1201.0 3078.7L1202.5 3077.5L1203.9 3077.0L1205.4 3076.4L1206.9 3074.2L1208.3 3070.5L1208.9 3068.5L1209.5 3066.3L1210.1 3063.7L1210.7 3060.6L1211.3 3056.6L1211.8 3051.6L1212.4 3045.1L1213.0 3036.7L1213.6 3025.7L1214.2 3011.3L1214.8 2992.4L1215.4 2967.4L1215.9 2934.3L1216.5 2890.7L1217.1 2834.3L1217.7 2764.4L1218.3 2684.3L1218.9 2605.0L1219.5 2545.7L1220.0 2526.2L1220.6 2554.9L1221.2 2620.0L1221.8 2700.8L1222.4 2779.6L1223.0 2847.2L1223.5 2901.1L1224.1 2942.7L1224.7 2974.3L1225.3 2998.3L1225.9 3013.6L1226.5 3012.9L1227.1 3012.4L1227.6 3012.0L1228.2 3011.6L1228.8 3011.2L1229.4 3010.9L1230.0 3010.6L1230.6 3010.4L1231.2 3010.4L1231.7 3010.6L1232.3 3010.9L1232.9 3011.2L1233.5 3011.6L1234.1 3011.9L1234.7 3012.1L1235.3 3012.1L1235.8 3012.0L1236.4 3011.9L1237.0 3011.8L1237.6 3011.9L1238.2 3012.3L1238.8 3013.3L1239.3 3015.1L1239.9 3018.0L1240.5 3022.3L1241.1 3028.3L1241.7 3035.9L1242.3 3043.2L1242.9 3031.7L1243.4 3023.6L1244.0 3018.8L1244.6 3016.3L1245.2 3015.1L1245.8 3014.6L1246.4 3014.7L1247.0 3015.3L1247.5 3016.7L1248.1 3019.7L1248.7 3025.1L1249.3 3034.1L1249.9 3046.2L1250.5 3059.0L1251.1 3058.7L1251.6 3056.8L1252.2 3055.9L1252.8 3055.7L1253.4 3055.8L1254.0 3056.2L1254.6 3056.9L1255.1 3057.9L1255.7 3059.6L1256.3 3062.3L1256.9 3066.3L1257.5 3071.4L1258.1 3076.4L1258.7 3080.3L1259.2 3082.7L1259.8 3084.1L1260.4 3084.8L1261.0 3085.2L1261.6 3085.4L1262.2 3085.7L1262.8 3086.0L1263.3 3086.3L1263.9 3086.5L1265.4 3086.7L1266.9 3086.6L1268.3 3086.5L1269.8 3087.0L1271.2 3087.8L1272.7 3088.3L1274.2 3088.2L1275.6 3088.0L1277.1 3088.0L1278.6 3088.4L1280.0 3088.8L1281.5 3089.0L1284.4 3089.3L1287.3 3089.8L1290.3 3089.5L1293.2 3089.9L1296.1 3089.8L1299.0 3090.3L1302.0 3090.8L1304.9 3090.3L1307.8 3090.9L1310.7 3090.7L1313.7 3091.1L1316.6 3091.8L1319.5 3090.9L1322.4 3090.4L1325.4 3091.9L1328.3 3091.9L1331.2 3089.9L1334.2 3087.1L1336.8 3079.0L1337.1 3079.3L1340.0 3089.0L1342.9 3090.2L1345.9 3090.1L1348.8 3084.9L1350.2 3081.6L1351.7 3084.4L1354.6 3091.4L1357.6 3091.2L1360.5 3091.9L1363.4 3093.0L1366.3 3092.4L1369.3 3092.9L1372.2 3092.0L1375.1 3093.4L1378.0 3092.9L1381.0 3092.3L1383.9 3093.2L1386.8 3092.2L1389.7 3093.5L1392.7 3092.6L1395.6 3092.6L1398.5 3093.4L1401.4 3092.3L1404.4 3093.1L1407.3 3093.3L1410.2 3093.0L1413.2 3092.1L1416.1 3093.0L1419.0 3094.0L1421.9 3092.6L1424.9 3092.5L1427.8 3093.0L1430.7 3093.4L1433.6 3093.2L1436.6 3093.3L1439.5 3092.3L1442.4 3092.7L1445.3 3094.6L1448.3 3092.9L1451.2 3092.4L1454.1 3092.7L1457.0 3093.9L1460.0 3093.8L1462.9 3092.3L1465.8 3093.2L1468.7 3092.9L1471.7 3093.9L1474.6 3093.6L1477.5 3092.5L1480.5 3093.5L1483.4 3092.9L1486.3 3093.7L1489.2 3093.9L1492.2 3092.5L1495.1 3092.8L1498.0 3093.4L1500.9 3093.3L1503.9 3089.6L1504.7 3088.7L1506.8 3090.3L1509.7 3093.2L1512.6 3093.4L1515.6 3093.8L1518.5 3093.7L1521.4 3092.1L1524.3 3093.6L1527.3 3094.8L1530.2 3093.4L1533.1 3092.6L1536.0 3093.2L1539.0 3094.5L1541.9 3093.6L1544.8 3093.2L1547.7 3093.6L1550.7 3093.2L1553.6 3094.1L1556.5 3093.7L1559.5 3093.3L1562.4 3093.6L1565.3 3093.4L1568.2 3093.8L1571.2 3094.0L1574.1 3093.4L1577.0 3093.0L1579.9 3093.8L1582.9 3093.8L1585.8 3093.7L1588.7 3093.4L1591.6 3093.2L1594.6 3093.5L1597.5 3093.8L1600.4 3094.3L1603.3 3092.2L1604.8 3092.0L1606.3 3093.1L1607.7 3094.4L1609.2 3094.5L1610.7 3093.4L1612.1 3092.5L1613.6 3092.4L1615.0 3092.8L1616.5 3092.6L1618.0 3091.9L1619.4 3091.3L1620.0 3091.1L1620.6 3090.9L1621.2 3090.7L1621.8 3090.2L1622.4 3089.5L1622.9 3088.5L1623.5 3087.2L1624.1 3085.6L1624.7 3083.6L1625.3 3081.2L1625.9 3078.4L1626.5 3074.7L1627.0 3070.0L1627.6 3063.9L1628.2 3056.0L1628.8 3046.2L1629.4 3035.0L1630.0 3023.8L1630.6 3015.1L1631.1 3011.5L1631.7 3014.2L1632.3 3022.1L1632.9 3032.9L1633.5 3044.2L1634.1 3054.4L1634.7 3063.0L1635.2 3070.0L1635.8 3075.4L1636.4 3079.5L1637.0 3082.5L1637.6 3084.7L1638.2 3086.2L1638.7 3087.3L1639.3 3088.1L1639.9 3088.8L1640.5 3089.4L1641.1 3090.1L1641.7 3090.8L1642.3 3091.5L1642.8 3092.1L1644.3 3092.7L1645.8 3092.3L1647.2 3091.8L1648.7 3092.2L1650.2 3093.1L1651.6 3093.6L1653.1 3093.6L1654.5 3093.5L1656.0 3093.8L1657.5 3093.8L1658.9 3093.3L1660.4 3092.7L1663.3 3093.2L1666.3 3094.0L1669.2 3094.0L1672.1 3093.6L1675.0 3092.5L1678.0 3093.7L1680.9 3094.6L1683.8 3093.6L1686.7 3092.6L1689.7 3093.8L1692.6 3093.9L1695.5 3093.3L1698.4 3094.2L1701.4 3093.1L1704.3 3093.2L1707.2 3093.8L1710.1 3094.3L1713.1 3093.6L1716.0 3092.5L1718.9 3094.2L1721.8 3093.6L1724.8 3093.9L1727.7 3093.8L1730.6 3092.4L1733.5 3093.9L1736.5 3094.2L1739.4 3093.9L1742.3 3093.0L1745.3 3092.8L1748.2 3094.5L1751.1 3094.1L1754.0 3093.3L1757.0 3092.9L1759.9 3093.6L1762.8 3094.8L1765.7 3093.3L1768.7 3092.8L1771.6 3094.1L1774.5 3093.5L1777.4 3093.7L1780.4 3093.9L1783.3 3093.2L1786.2 3093.4L1789.1 3093.8L1792.1 3094.2L1795.0 3093.0L1797.9 3093.3L1800.8 3094.3L1803.8 3093.1L1806.7 3093.8L1809.6 3093.8L1812.6 3093.1L1815.5 3093.6L1818.4 3094.1L1821.3 3093.7L1824.3 3093.0L1827.2 3093.6L1830.1 3094.1L1833.0 3093.8L1836.0 3093.0L1838.9 3093.4L1841.8 3094.1L1844.7 3093.8L1847.7 3093.3L1850.6 3092.9L1853.5 3094.6L1856.4 3093.6L1859.4 3093.1L1862.3 3094.0L1865.2 3093.0L1868.1 3094.3L1871.1 3093.6L1874.0 3093.3L1876.9 3093.3L1879.8 3093.7L1882.8 3094.7L1885.7 3092.3L1888.6 3093.7L1891.6 3094.2L1894.5 3093.0L1897.4 3094.0L1900.3 3093.4L1903.3 3093.7L1906.2 3093.2L1909.1 3093.9L1912.0 3094.2L1915.0 3092.9L1917.9 3093.5L1920.8 3093.6L1923.7 3094.1L1926.7 3093.6L1929.6 3092.9L1932.5 3093.5L1935.4 3094.2L1938.4 3093.8L1941.3 3093.0L1944.2 3093.7L1947.1 3093.4L1950.1 3094.1L1953.0 3093.9L1955.9 3092.7L1958.9 3093.4L1961.8 3093.7L1963.2 3093.9L1964.7 3093.7L1966.2 3093.0L1967.6 3092.1L1969.1 3092.1L1970.6 3093.0L1972.0 3093.8L1973.5 3093.6L1974.9 3092.4L1976.4 3091.6L1977.9 3091.8L1979.3 3092.2L1979.9 3092.1L1980.5 3091.7L1981.1 3090.8L1981.7 3089.4L1982.3 3087.3L1982.8 3085.0L1983.4 3083.7L1984.0 3084.3L1984.6 3086.0L1985.2 3087.5L1985.8 3088.3L1986.4 3088.6L1986.9 3088.3L1987.5 3087.4L1988.1 3085.8L1988.7 3083.4L1989.3 3080.2L1989.9 3077.2L1990.5 3075.9L1991.0 3077.4L1991.6 3080.6L1992.2 3084.0L1992.8 3086.6L1993.4 3088.5L1994.0 3089.7L1994.5 3090.3L1995.1 3090.7L1995.7 3090.8L1996.3 3090.8L1996.9 3090.8L1997.5 3090.8L1998.1 3090.9L1998.6 3091.0L1999.2 3091.2L1999.8 3091.4L2000.4 3091.6L2001.0 3091.7L2001.6 3091.8L2002.2 3091.8L2003.6 3091.5L2005.1 3091.3L2006.5 3091.5L2008.0 3091.9L2009.5 3091.9L2010.9 3091.3L2012.4 3090.6L2013.9 3090.4L2015.3 3090.8L2016.8 3091.2L2018.2 3091.1L2019.7 3090.6L2022.6 3089.5L2025.6 3085.8L2027.3 3083.2L2028.5 3084.0L2031.4 3088.9L2034.3 3090.0L2037.3 3089.8L2040.2 3089.8L2043.1 3089.3L2046.0 3087.9L2049.0 3083.2L2051.9 3087.9L2054.8 3088.9L2057.8 3085.8L2060.7 3083.5L2063.6 3087.9L2066.5 3088.6L2069.5 3088.1L2072.4 3088.6L2075.3 3089.1L2078.2 3088.8L2081.2 3088.5L2084.1 3087.3L2087.0 3087.6L2089.9 3088.4L2092.9 3088.0L2095.8 3085.9L2098.7 3086.0L2101.6 3086.8L2104.6 3086.1L2107.5 3085.9L2110.4 3084.1L2113.3 3084.7L2116.3 3085.0L2119.2 3084.0L2122.1 3084.1L2125.0 3082.4L2128.0 3083.0L2130.9 3082.6L2133.8 3082.9L2136.8 3082.3L2139.7 3079.6L2142.6 3081.9L2145.5 3081.9L2148.5 3080.5L2151.4 3079.8L2154.3 3079.2L2157.2 3080.3L2160.2 3079.7L2163.1 3079.4L2166.0 3077.7L2168.9 3077.6L2171.9 3079.5L2174.8 3078.0L2177.7 3076.5L2180.6 3076.5L2183.6 3077.3L2186.5 3076.8L2189.4 3076.2L2192.3 3075.4L2195.3 3075.2L2198.2 3075.7L2201.1 3074.8L2204.1 3074.8L2207.0 3073.7L2209.9 3073.5L2212.8 3073.8L2215.8 3073.6L2218.7 3073.1L2221.6 3070.1L2224.5 3069.6L2227.5 3067.9L2230.4 3064.6L2233.3 3063.1L2236.2 3060.3L2239.2 3059.3L2242.1 3059.2L2245.0 3058.0L2247.9 3056.6" fill="none" stroke="#960000" stroke-width="8" stroke-linejoin="round" stroke-linecap="round"/>
<path d="M1229.0 3019.6L1229.5 3019.6L1230.0 3019.6L1230.5 3019.5L1231.0 3019.5L1231.5 3019.5L1232.0 3019.5L1232.5 3019.5L1233.0 3019.4L1233.5 3019.4L1234.0 3019.5L1234.5 3019.5L1235.0 3019.5L1235.5 3019.6L1236.0 3019.6L1236.5 3019.8L1237.0 3020.0L1237.5 3020.3L1238.0 3020.8L1238.5 3021.6L1239.0 3022.7L1239.5 3024.3L1240.0 3026.6L1240.5 3029.7L1241.0 3033.9L1241.5 3039.2L1242.0 3045.4L1242.5 3043.5L1243.0 3035.5L1243.5 3029.7L1244.0 3026.1L1244.5 3023.9L1245.0 3022.7L1245.5 3022.2L1246.0 3022.0L1246.5 3022.1L1247.0 3022.7L1247.5 3023.9L1248.0 3026.0L1248.5 3029.6L1249.0 3035.3L1249.5 3043.4L1250.0 3053.0L1250.5 3062.7L1251.0 3061.6L1251.5 3060.1L1252.0 3059.2L1252.5 3058.7L1253.0 3058.4L1253.5 3058.3L1254.0 3058.4L1254.5 3058.6L1255.0 3059.1L1255.5 3060.0L1256.0 3061.5L1256.0 3064.1L1255.5 3062.9L1255.0 3062.2L1254.5 3061.9L1254.0 3061.7L1253.5 3061.7L1253.0 3061.8L1252.5 3062.0L1252.0 3062.4L1251.5 3063.2L1251.0 3064.5L1250.5 3063.7L1250.0 3055.1L1249.5 3046.5L1249.0 3039.4L1248.5 3034.3L1248.0 3031.1L1247.5 3029.2L1247.0 3028.2L1246.5 3027.8L1246.0 3027.6L1245.5 3027.8L1245.0 3028.4L1244.5 3029.4L1244.0 3031.4L1243.5 3034.6L1243.0 3039.8L1242.5 3047.0L1242.0 3048.0L1241.5 3042.4L1241.0 3037.6L1240.5 3033.8L1240.0 3030.9L1239.5 3028.9L1239.0 3027.4L1238.5 3026.5L1238.0 3025.8L1237.5 3025.4L1237.0 3025.1L1236.5 3024.9L1236.0 3024.8L1235.5 3024.8L1235.0 3024.8L1234.5 3024.7L1234.0 3024.8L1233.5 3024.8L1233.0 3024.8L1232.5 3024.8L1232.0 3024.9L1231.5 3024.9L1231.0 3024.9L1230.5 3025.0L1230.0 3025.1L1229.5 3025.1L1229.0 3025.1Z" fill="#008000"/>
<path d="M375.3 2858.9L378.2 2860.1L381.2 2856.5L384.1 2854.4L387.0 2856.4L389.9 2857.2L392.9 2860.7L395.8 2864.8L398.7 2868.9L401.6 2872.1L404.6 2869.1L407.5 2874.2L410.4 2879.4L413.3 2879.6L416.3 2880.6L419.2 2882.7L422.1 2886.6L425.0 2890.0L428.0 2891.6L430.9 2892.5L433.8 2895.5L436.7 2898.6L439.7 2902.7L442.6 2906.0L445.5 2904.9L448.5 2909.1L451.4 2915.0L454.3 2915.6L457.2 2919.6L460.2 2920.0L463.1 2925.4L466.0 2929.3L468.9 2930.7L471.9 2934.5L474.8 2936.8L477.7 2939.0L480.6 2943.6L483.6 2946.8L486.5 2947.9L489.4 2950.9L492.3 2954.0L495.3 2956.4L498.2 2959.7L501.1 2960.7L504.0 2962.8L507.0 2966.6L509.9 2966.3L512.8 2972.7L515.7 2971.1L518.7 2971.3L521.6 2975.5L524.5 2979.1L527.5 2980.1L530.4 2979.5L533.3 2981.8L536.2 2987.9L539.2 2988.7L542.1 2987.9L545.0 2991.2L547.9 2994.2L550.9 2994.0L553.8 2996.0L556.7 2997.9L559.6 2997.9L562.6 3000.9L565.5 2999.6L567.0 3002.1L568.4 3004.9L569.9 3004.9L571.3 3002.7L572.8 3001.6L574.3 3003.5L575.7 3006.5L577.2 3008.9L578.7 3010.7L580.1 3011.9L581.6 3012.4L582.2 3012.6L582.8 3012.9L583.3 3013.3L583.9 3013.9L584.5 3014.7L585.1 3015.5L585.7 3016.3L586.3 3016.9L586.8 3017.2L587.4 3017.3L588.0 3017.1L588.6 3016.6L589.2 3017.7L589.8 3015.4L590.4 3011.8L590.9 3006.4L591.5 3000.1L592.1 2997.1L592.7 3000.6L593.3 3007.3L593.9 3012.9L594.5 3016.4L595.0 3018.5L595.6 3020.0L596.2 3021.1L596.8 3022.3L597.4 3023.5L598.0 3024.6L598.6 3025.5L599.1 3026.2L599.7 3026.6L600.3 3026.7L600.9 3026.6L601.5 3026.5L602.1 3026.5L602.7 3026.5L603.2 3026.6L603.8 3026.7L605.3 3026.7L606.7 3026.5L608.2 3028.0L609.7 3030.4L611.1 3031.5L612.6 3031.0L614.1 3030.1L615.5 3030.3L617.0 3031.5L618.5 3032.2L619.9 3032.1L621.4 3032.4L624.3 3034.7L627.2 3034.0L630.2 3034.7L633.1 3036.2L634.5 3036.8L636.0 3037.0L637.5 3037.0L638.9 3037.3L640.4 3037.9L641.9 3038.4L643.3 3038.0L644.8 3037.5L646.2 3037.9L647.7 3038.9L649.2 3039.2L650.6 3038.8L651.2 3038.7L651.8 3038.6L652.4 3038.6L653.0 3038.5L653.6 3038.4L654.1 3038.1L654.7 3037.4L655.3 3036.2L655.9 3034.3L656.5 3031.7L657.1 3029.2L657.4 3028.5L657.7 3028.4L658.2 3029.1L658.8 3029.3L659.4 3027.4L660.0 3022.7L660.6 3014.3L661.2 3002.7L661.8 2992.9L662.0 2991.4L662.3 2992.8L662.9 3002.6L663.5 3014.4L664.1 3023.6L664.7 3029.8L665.3 3033.8L665.9 3036.4L666.4 3038.1L667.0 3039.1L667.6 3039.5L668.2 3039.8L668.8 3039.9L669.4 3040.1L669.9 3040.4L670.5 3041.0L671.1 3041.7L671.7 3042.6L672.3 3043.4L672.9 3044.1L673.5 3044.5L674.0 3044.6L674.6 3044.4L675.2 3044.1L675.8 3043.8L676.4 3043.5L677.0 3043.4L677.6 3043.5L678.1 3043.7L678.7 3044.1L679.3 3044.5L679.9 3044.8L680.5 3044.9L681.1 3044.9L681.7 3044.6L682.2 3044.1L682.8 3043.2L683.4 3042.0L684.0 3040.4L684.6 3038.6L685.2 3037.1L685.7 3036.6L686.3 3037.3L686.9 3039.0L687.5 3041.1L688.1 3043.1L688.7 3044.8L689.3 3046.2L689.8 3047.3L690.4 3048.2L691.0 3048.9L691.6 3049.4L692.2 3049.7L692.8 3050.0L693.4 3050.3L693.9 3050.7L694.5 3051.2L695.1 3051.8L695.7 3052.5L696.3 3053.0L696.9 3053.5L697.5 3053.7L698.9 3053.2L700.4 3052.7L701.8 3053.4L703.3 3054.8L704.8 3055.4L706.2 3055.2L707.7 3055.3L709.2 3056.0L710.6 3056.4L712.1 3056.5L713.5 3057.2L715.0 3058.4L717.9 3058.0L720.9 3058.7L723.8 3060.4L726.7 3060.7L729.6 3061.9L732.6 3060.8L735.5 3062.9L738.4 3063.7L741.3 3063.1L742.8 3063.0L744.3 3063.9L745.7 3065.3L747.2 3065.8L748.7 3065.2L750.1 3064.8L751.6 3065.5L753.0 3066.0L754.5 3065.8L756.0 3065.6L757.4 3066.5L758.0 3067.0L758.6 3067.5L759.2 3067.7L759.8 3067.6L760.4 3067.3L760.9 3066.7L761.5 3066.0L762.1 3065.4L762.7 3064.8L763.3 3064.3L763.9 3063.8L764.5 3063.1L765.0 3062.1L765.6 3060.4L766.2 3057.6L766.8 3053.4L767.4 3047.8L768.0 3042.1L768.6 3039.5L769.1 3042.0L769.7 3047.5L770.3 3052.7L770.9 3056.0L771.5 3057.3L772.1 3056.7L772.7 3054.3L773.2 3049.8L773.8 3042.5L774.4 3031.3L775.0 3014.6L775.6 2992.3L776.2 2969.8L776.7 2959.9L777.3 2970.8L777.9 2994.1L778.5 3016.7L779.1 3033.4L779.7 3044.2L780.3 3051.1L780.8 3055.5L781.4 3058.3L782.0 3060.2L782.6 3061.4L783.2 3062.1L783.8 3062.0L784.4 3061.2L784.9 3059.3L785.5 3056.1L786.1 3051.4L786.7 3045.5L787.3 3040.0L787.9 3037.7L788.5 3040.1L789.0 3045.7L789.6 3051.7L790.2 3056.6L790.8 3060.2L791.4 3062.6L792.0 3064.4L792.5 3065.6L793.1 3066.5L793.7 3067.3L794.3 3067.9L794.9 3068.3L795.5 3068.6L796.1 3068.8L796.6 3068.8L797.2 3068.7L797.8 3068.7L798.4 3068.8L799.0 3069.0L799.6 3069.3L801.0 3070.4L802.5 3070.5L804.0 3069.3L805.4 3068.5L806.9 3069.4L808.3 3070.8L809.8 3070.9L811.3 3070.3L812.7 3070.3L814.2 3070.8L815.7 3070.9L817.1 3070.3L820.1 3070.8L823.0 3069.5L825.9 3067.1L827.7 3066.4L828.8 3066.6L831.8 3071.0L834.7 3074.2L837.6 3074.5L840.5 3076.9L843.5 3077.8L846.4 3077.3L849.3 3077.6L852.2 3078.4L855.2 3078.4L858.1 3079.9L861.0 3078.1L863.9 3080.0L866.9 3079.1L869.8 3080.5L872.7 3080.8L875.6 3080.7L878.6 3079.6L881.5 3081.6L884.4 3082.6L887.4 3081.7L890.3 3081.3L893.2 3081.8L896.1 3083.8L899.1 3083.5L902.0 3082.2L904.9 3083.3L907.8 3084.3L910.8 3083.0L913.7 3084.7L916.6 3083.3L919.5 3084.7L922.5 3083.4L925.4 3084.7L928.3 3085.1L931.2 3084.9L934.2 3083.6L937.1 3085.4L940.0 3085.7L942.9 3085.2L945.9 3085.3L948.8 3085.3L951.7 3085.6L954.6 3086.3L957.6 3086.0L960.5 3086.2L963.4 3085.9L966.4 3085.1L969.3 3088.1L972.2 3086.0L975.1 3085.9L978.1 3085.5L981.0 3087.2L983.9 3087.1L986.8 3086.5L989.8 3085.4L992.7 3086.9L995.6 3087.0L998.5 3086.8L1001.5 3086.5L1004.4 3086.3L1005.9 3086.3L1007.3 3086.1L1008.8 3086.5L1010.2 3087.2L1011.7 3087.1L1013.2 3085.2L1014.6 3082.7L1016.1 3081.1L1016.7 3081.1L1017.6 3082.1L1019.0 3083.7L1020.5 3083.6L1021.1 3083.5L1021.7 3083.5L1022.2 3083.5L1022.8 3083.6L1023.4 3083.5L1024.0 3083.1L1024.6 3082.2L1025.2 3080.7L1025.7 3078.4L1026.3 3075.2L1026.9 3071.0L1027.5 3065.3L1028.1 3057.7L1028.7 3047.5L1029.3 3034.3L1029.8 3018.4L1030.4 3002.7L1031.0 2992.5L1031.3 2991.1L1031.6 2992.6L1032.2 3003.1L1032.8 3019.0L1033.4 3035.0L1033.9 3048.4L1034.5 3058.6L1035.1 3066.0L1035.7 3071.4L1036.3 3075.2L1036.9 3078.0L1037.5 3080.0L1038.0 3081.6L1038.6 3082.7L1039.2 3083.7L1039.8 3084.6L1040.4 3085.4L1041.0 3086.2L1041.6 3086.8L1042.1 3087.2L1042.7 3087.3L1043.3 3087.3L1044.8 3086.3L1046.2 3085.1L1047.7 3084.2L1049.2 3082.7L1050.6 3080.1L1052.1 3077.4L1053.5 3076.8L1055.0 3078.7L1056.5 3081.4L1057.9 3083.5L1059.4 3085.1L1060.9 3086.3L1063.8 3087.9L1066.7 3090.5L1069.6 3088.7L1071.1 3088.6L1072.6 3089.7L1074.0 3090.3L1075.5 3089.6L1077.0 3088.9L1078.4 3089.2L1079.9 3089.9L1081.3 3089.8L1082.8 3089.1L1084.3 3088.6L1085.7 3088.5L1086.3 3088.3L1086.9 3088.1L1087.5 3087.8L1088.1 3087.4L1088.7 3086.9L1089.2 3086.5L1089.8 3085.7L1090.4 3084.9L1091.0 3084.1L1091.6 3083.1L1092.2 3082.0L1092.8 3080.6L1093.3 3078.8L1093.9 3076.6L1094.5 3074.0L1095.1 3071.2L1095.7 3068.9L1096.3 3067.8L1096.9 3068.4L1097.4 3070.2L1098.0 3072.2L1098.6 3073.8L1099.2 3074.7L1099.8 3075.0L1100.4 3074.9L1100.9 3074.7L1101.5 3074.3L1102.1 3073.8L1102.7 3073.3L1103.3 3072.7L1103.9 3071.8L1104.5 3070.4L1105.0 3068.4L1105.6 3065.5L1106.2 3061.4L1106.8 3055.7L1107.4 3047.8L1108.0 3037.4L1108.6 3024.7L1109.1 3011.7L1109.7 3002.9L1110.0 3001.5L1110.3 3002.4L1110.9 3010.1L1111.5 3022.0L1112.1 3033.8L1112.7 3043.3L1113.2 3050.5L1113.8 3055.6L1114.4 3059.3L1115.0 3062.0L1115.6 3063.9L1116.2 3065.2L1116.7 3066.0L1117.3 3066.4L1117.9 3066.6L1118.5 3066.6L1119.1 3066.5L1119.7 3066.6L1120.3 3064.9L1120.8 3063.3L1121.4 3061.7L1122.0 3060.0L1123.5 3054.9L1124.9 3049.0L1126.4 3044.0L1127.9 3041.9L1129.3 3041.8L1130.8 3040.1L1132.3 3037.6L1133.7 3036.0L1135.2 3035.5L1136.6 3036.5L1138.1 3037.4L1139.6 3038.0L1142.5 3039.1L1145.4 3039.9L1148.3 3039.8L1151.3 3040.3L1154.2 3040.3L1157.1 3039.2L1160.1 3042.2L1163.0 3044.3L1165.9 3049.8L1168.8 3052.5L1171.8 3053.9L1174.7 3054.0L1177.6 3057.4L1180.5 3059.6L1183.5 3064.2L1186.4 3068.9L1189.3 3072.3L1192.2 3075.5L1193.7 3076.3L1195.2 3076.5L1196.6 3076.6L1198.1 3077.0L1199.6 3077.9L1201.0 3078.6L1202.5 3078.3L1203.9 3077.0L1205.4 3075.5L1206.9 3074.0L1208.3 3071.7L1208.9 3070.2L1209.5 3068.3L1210.1 3066.0L1210.7 3063.0L1211.3 3059.4L1211.8 3054.8L1212.4 3049.2L1213.0 3042.0L1213.6 3032.7L1214.2 3020.5L1214.8 3004.4L1215.4 2982.9L1215.9 2954.3L1216.5 2916.6L1217.1 2867.6L1217.7 2806.9L1218.3 2737.5L1218.9 2668.8L1219.5 2617.6L1220.0 2600.9L1220.6 2625.9L1221.2 2682.5L1221.8 2752.7L1222.4 2821.0L1223.0 2879.5L1223.5 2926.1L1224.1 2961.9L1224.7 2989.1L1225.3 3009.6L1225.9 3021.5L1226.5 3020.7L1227.1 3020.2L1227.6 3019.9L1228.2 3019.6L1228.8 3019.4L1229.4 3019.3L1230.0 3019.1L1230.6 3019.1L1231.2 3019.2L1231.7 3019.3L1232.3 3019.6L1232.9 3019.8L1233.5 3020.0L1234.1 3020.1L1234.7 3020.0L1235.3 3019.9L1235.8 3019.7L1236.4 3019.5L1237.0 3019.5L1237.6 3019.7L1238.2 3020.4L1238.8 3021.5L1239.3 3023.4L1239.9 3026.1L1240.5 3030.0L1241.1 3035.3L1241.7 3042.0L1242.3 3048.4L1242.9 3038.0L1243.4 3030.7L1244.0 3026.2L1244.6 3023.7L1245.2 3022.4L1245.8 3021.9L1246.4 3021.9L1247.0 3022.4L1247.5 3023.7L1248.1 3026.5L1248.7 3031.5L1249.3 3039.6L1249.9 3050.5L1250.5 3061.9L1251.1 3061.2L1251.6 3059.6L1252.2 3058.7L1252.8 3058.4L1253.4 3058.3L1254.0 3058.5L1254.6 3059.0L1255.1 3059.8L1255.7 3061.2L1256.3 3063.6L1256.9 3067.3L1257.5 3071.8L1258.1 3076.3L1258.7 3079.7L1259.2 3081.8L1259.8 3082.9L1260.4 3083.5L1261.0 3083.8L1261.6 3084.1L1262.2 3084.4L1262.8 3084.8L1263.3 3085.3L1263.9 3085.7L1265.4 3086.4L1266.9 3086.4L1268.3 3086.3L1269.8 3086.3L1271.2 3086.3L1272.7 3086.5L1274.2 3086.9L1275.6 3087.6L1277.1 3088.1L1278.6 3088.2L1280.0 3088.1L1281.5 3088.2L1284.4 3088.4L1287.3 3088.9L1290.3 3089.6L1293.2 3088.6L1296.1 3089.4L1299.0 3090.1L1302.0 3089.5L1304.9 3090.1L1307.8 3090.1L1310.7 3090.3L1313.7 3090.8L1316.6 3090.3L1319.5 3091.0L1322.4 3090.6L1325.4 3090.4L1328.3 3091.1L1331.2 3090.6L1334.2 3086.8L1336.8 3078.8L1337.1 3079.1L1340.0 3088.8L1342.9 3090.4L1345.9 3089.6L1348.8 3083.9L1350.2 3081.2L1351.7 3084.4L1354.6 3090.6L1357.6 3090.9L1360.5 3092.0L1363.4 3091.9L1366.3 3091.9L1369.3 3092.7L1372.2 3092.2L1375.1 3092.2L1378.0 3092.4L1381.0 3092.3L1383.9 3092.6L1386.8 3092.4L1389.7 3092.5L1392.7 3092.5L1395.6 3092.4L1398.5 3092.1L1401.4 3093.2L1404.4 3092.7L1407.3 3091.7L1410.2 3092.7L1413.2 3092.8L1416.1 3093.1L1419.0 3092.1L1421.9 3091.9L1424.9 3093.4L1427.8 3092.9L1430.7 3092.3L1433.6 3092.7L1436.6 3092.5L1439.5 3092.9L1442.4 3092.8L1445.3 3092.9L1448.3 3092.5L1451.2 3092.5L1454.1 3092.8L1457.0 3093.5L1460.0 3092.7L1462.9 3091.9L1465.8 3093.5L1468.7 3093.0L1471.7 3092.8L1474.6 3092.8L1477.5 3092.7L1480.5 3093.2L1483.4 3092.8L1486.3 3092.8L1489.2 3093.6L1492.2 3092.3L1495.1 3092.6L1498.0 3093.1L1500.9 3092.7L1503.9 3089.1L1504.7 3088.4L1506.8 3090.4L1509.7 3092.5L1512.6 3093.5L1515.6 3093.3L1518.5 3092.3L1521.4 3093.3L1524.3 3093.1L1527.3 3093.5L1530.2 3093.5L1533.1 3092.5L1536.0 3093.0L1539.0 3093.9L1541.9 3093.3L1544.8 3093.4L1547.7 3092.5L1550.7 3093.6L1553.6 3093.6L1556.5 3093.3L1559.5 3092.9L1562.4 3093.5L1565.3 3093.0L1568.2 3093.3L1571.2 3093.8L1574.1 3092.9L1577.0 3093.1L1579.9 3093.1L1582.9 3093.6L1585.8 3093.7L1588.7 3092.7L1591.6 3092.9L1594.6 3093.8L1597.5 3092.8L1600.4 3093.7L1603.3 3092.8L1604.8 3092.7L1606.3 3093.0L1607.7 3092.9L1609.2 3092.6L1610.7 3092.8L1612.1 3093.3L1613.6 3093.4L1615.0 3092.8L1616.5 3092.2L1618.0 3091.7L1619.4 3090.9L1620.0 3090.4L1620.6 3089.9L1621.2 3089.4L1621.8 3088.9L1622.4 3088.5L1622.9 3088.0L1623.5 3087.5L1624.1 3086.7L1624.7 3085.4L1625.3 3083.6L1625.9 3080.9L1626.5 3077.2L1627.0 3072.3L1627.6 3065.9L1628.2 3057.9L1628.8 3048.3L1629.4 3037.6L1630.0 3027.2L1630.6 3019.4L1631.1 3016.5L1631.7 3019.4L1632.3 3027.2L1632.9 3037.5L1633.5 3048.1L1634.1 3057.5L1634.7 3065.4L1635.2 3071.6L1635.8 3076.4L1636.4 3080.1L1637.0 3082.9L1637.6 3085.0L1638.2 3086.5L1638.7 3087.7L1639.3 3088.6L1639.9 3089.3L1640.5 3089.9L1641.1 3090.4L1641.7 3090.9L1642.3 3091.2L1642.8 3091.4L1644.3 3091.4L1645.8 3091.5L1647.2 3092.3L1648.7 3093.3L1650.2 3093.5L1651.6 3092.7L1653.1 3092.3L1654.5 3092.9L1656.0 3093.7L1657.5 3093.5L1658.9 3093.0L1660.4 3092.8L1663.3 3093.0L1666.3 3093.2L1669.2 3093.7L1672.1 3093.0L1675.0 3093.2L1678.0 3092.8L1680.9 3093.8L1683.8 3093.2L1686.7 3093.2L1689.7 3093.3L1692.6 3093.2L1695.5 3092.9L1698.4 3094.2L1701.4 3092.8L1704.3 3093.3L1707.2 3092.9L1710.1 3093.6L1713.1 3093.8L1716.0 3092.7L1718.9 3093.0L1721.8 3093.5L1724.8 3093.6L1727.7 3093.1L1730.6 3093.4L1733.5 3092.7L1736.5 3093.6L1739.4 3093.5L1742.3 3093.3L1745.3 3092.9L1748.2 3093.4L1751.1 3093.1L1754.0 3094.1L1757.0 3092.3L1759.9 3093.6L1762.8 3093.6L1765.7 3093.1L1768.7 3093.2L1771.6 3093.4L1774.5 3093.5L1777.4 3093.0L1780.4 3093.0L1783.3 3093.6L1786.2 3093.9L1789.1 3092.5L1792.1 3093.2L1795.0 3093.7L1797.9 3093.5L1800.8 3092.7L1803.8 3093.6L1806.7 3092.9L1809.6 3094.0L1812.6 3092.6L1815.5 3093.7L1818.4 3093.3L1821.3 3092.8L1824.3 3093.5L1827.2 3093.6L1830.1 3093.0L1833.0 3093.1L1836.0 3093.4L1838.9 3093.5L1841.8 3093.2L1844.7 3092.8L1847.7 3093.7L1850.6 3093.4L1853.5 3093.0L1856.4 3092.9L1859.4 3094.2L1862.3 3092.6L1865.2 3093.6L1868.1 3092.8L1871.1 3093.8L1874.0 3093.4L1876.9 3092.8L1879.8 3093.2L1882.8 3093.6L1885.7 3093.1L1888.6 3093.5L1891.6 3093.0L1894.5 3093.1L1897.4 3093.6L1900.3 3093.4L1903.3 3093.2L1906.2 3093.0L1909.1 3093.6L1912.0 3093.2L1915.0 3093.7L1917.9 3092.4L1920.8 3094.1L1923.7 3093.0L1926.7 3093.0L1929.6 3093.5L1932.5 3093.5L1935.4 3093.0L1938.4 3093.2L1941.3 3093.1L1944.2 3093.9L1947.1 3093.0L1950.1 3092.9L1953.0 3093.5L1955.9 3093.3L1958.9 3093.1L1961.8 3093.0L1963.2 3093.4L1964.7 3093.0L1966.2 3092.2L1967.6 3092.1L1969.1 3092.8L1970.6 3093.2L1972.0 3092.8L1973.5 3092.3L1974.9 3092.4L1976.4 3092.6L1977.9 3091.9L1979.3 3090.7L1979.9 3090.3L1980.5 3089.9L1981.1 3089.3L1981.7 3088.5L1982.3 3087.3L1982.8 3085.8L1983.4 3085.2L1984.0 3086.1L1984.6 3087.7L1985.2 3089.0L1985.8 3089.7L1986.4 3089.8L1986.9 3089.4L1987.5 3088.4L1988.1 3086.8L1988.7 3084.5L1989.3 3081.6L1989.9 3078.9L1990.5 3077.7L1991.0 3078.8L1991.6 3081.4L1992.2 3084.2L1992.8 3086.6L1993.4 3088.4L1994.0 3089.6L1994.5 3090.4L1995.1 3090.9L1995.7 3091.1L1996.3 3091.2L1996.9 3091.2L1997.5 3091.2L1998.1 3091.3L1998.6 3091.4L1999.2 3091.5L1999.8 3091.6L2000.4 3091.6L2001.0 3091.5L2001.6 3091.2L2002.2 3090.9L2003.6 3090.4L2005.1 3090.7L2006.5 3091.4L2008.0 3091.5L2009.5 3091.0L2010.9 3090.7L2012.4 3090.8L2013.9 3090.7L2015.3 3090.4L2016.8 3090.5L2018.2 3090.9L2019.7 3090.6L2022.6 3088.1L2025.6 3085.8L2027.3 3083.7L2028.5 3084.3L2031.4 3088.4L2034.3 3089.1L2037.3 3089.1L2040.2 3089.7L2043.1 3089.4L2046.0 3086.8L2049.0 3083.5L2051.9 3086.4L2054.8 3088.1L2057.8 3087.2L2060.7 3082.6L2063.6 3086.2L2066.5 3087.7L2069.5 3089.0L2072.4 3088.5L2075.3 3088.1L2078.2 3087.1L2081.2 3088.5L2084.1 3087.8L2087.0 3087.4L2089.9 3087.1L2092.9 3086.4L2095.8 3086.4L2098.7 3086.8L2101.6 3085.3L2104.6 3085.3L2107.5 3084.5L2110.4 3084.9L2113.3 3084.8L2116.3 3083.3L2119.2 3083.3L2122.1 3083.2L2125.0 3082.9L2128.0 3082.1L2130.9 3082.5L2133.8 3081.3L2136.8 3081.1L2139.7 3080.8L2142.6 3081.1L2145.5 3080.8L2148.5 3079.2L2151.4 3079.1L2154.3 3080.6L2157.2 3079.0L2160.2 3078.5L2163.1 3077.8L2166.0 3078.3L2168.9 3078.4L2171.9 3077.1L2174.8 3077.0L2177.7 3076.7L2180.6 3076.5L2183.6 3076.3L2186.5 3076.5L2189.4 3075.0L2192.3 3074.9L2195.3 3075.3L2198.2 3075.0L2201.1 3074.3L2204.1 3073.5L2207.0 3073.5L2209.9 3074.3L2212.8 3072.6L2215.8 3072.8L2218.7 3072.6L2221.6 3070.7L2224.5 3069.1L2227.5 3066.9L2230.4 3064.9L2233.3 3062.4L2236.2 3060.2L2239.2 3059.2L2242.1 3059.0L2245.0 3057.4L2247.9 3056.6" fill="none" stroke="#008000" stroke-width="8" stroke-linejoin="round" stroke-linecap="round"/>
<path d="M1229.0 3025.1L1229.5 3025.1L1230.0 3025.1L1230.5 3025.0L1231.0 3024.9L1231.5 3024.9L1232.0 3024.9L1232.5 3024.8L1233.0 3024.8L1233.5 3024.8L1234.0 3024.8L1234.5 3024.7L1235.0 3024.8L1235.5 3024.8L1236.0 3024.8L1236.5 3024.9L1237.0 3025.1L1237.5 3025.4L1238.0 3025.8L1238.5 3026.5L1239.0 3027.4L1239.5 3028.9L1240.0 3030.9L1240.5 3033.8L1241.0 3037.6L1241.5 3042.4L1242.0 3048.0L1242.5 3047.0L1243.0 3039.8L1243.5 3034.6L1244.0 3031.4L1244.5 3029.4L1245.0 3028.4L1245.5 3027.8L1246.0 3027.6L1246.5 3027.8L1247.0 3028.2L1247.5 3029.2L1248.0 3031.1L1248.5 3034.3L1249.0 3039.4L1249.5 3046.5L1250.0 3055.1L1250.5 3063.7L1251.0 3064.5L1251.5 3063.2L1252.0 3062.4L1252.5 3062.0L1253.0 3061.8L1253.5 3061.7L1254.0 3061.7L1254.5 3061.9L1255.0 3062.2L1255.5 3062.9L1256.0 3064.1L1256.0 3083.8L1255.5 3083.8L1255.0 3083.9L1254.5 3083.9L1254.0 3083.9L1253.5 3083.9L1253.0 3083.9L1252.5 3083.9L1252.0 3083.9L1251.5 3083.9L1251.0 3083.9L1250.5 3083.9L1250.0 3083.9L1249.5 3083.7L1249.0 3083.4L1248.5 3082.9L1248.0 3082.2L1247.5 3081.1L1247.0 3079.6L1246.5 3077.6L1246.0 3074.9L1245.5 3071.4L1245.0 3067.4L1244.5 3063.0L1244.0 3058.6L1243.5 3054.6L1243.0 3051.1L1242.5 3048.4L1242.0 3046.3L1241.5 3044.9L1241.0 3043.8L1240.5 3043.1L1240.0 3042.6L1239.5 3042.3L1239.0 3042.1L1238.5 3042.0L1238.0 3041.9L1237.5 3041.9L1237.0 3041.8L1236.5 3041.8L1236.0 3041.8L1235.5 3041.8L1235.0 3041.8L1234.5 3041.8L1234.0 3041.9L1233.5 3041.9L1233.0 3041.9L1232.5 3041.9L1232.0 3041.9L1231.5 3042.0L1231.0 3042.0L1230.5 3042.0L1230.0 3042.0L1229.5 3042.1L1229.0 3042.0Z" fill="#FF8000"/>
<path d="M375.3 2894.5L378.2 2889.0L381.2 2888.0L384.1 2890.6L387.0 2889.2L389.9 2888.8L392.9 2886.0L395.8 2886.1L398.7 2892.0L401.6 2890.8L404.6 2893.5L407.5 2895.5L410.4 2900.8L413.3 2900.0L416.3 2903.5L419.2 2904.8L422.1 2906.4L425.0 2908.8L428.0 2909.1L430.9 2911.5L433.8 2913.3L436.7 2916.0L439.7 2918.8L442.6 2922.5L445.5 2926.2L448.5 2927.8L451.4 2933.0L454.3 2931.6L457.2 2937.6L460.2 2939.1L463.1 2936.7L466.0 2941.8L468.9 2943.0L471.9 2946.6L474.8 2947.6L477.7 2948.7L480.6 2955.0L483.6 2958.9L486.5 2958.1L489.4 2961.0L492.3 2966.6L495.3 2966.9L498.2 2970.5L501.1 2971.5L504.0 2973.4L507.0 2979.0L509.9 2977.1L512.8 2982.0L515.7 2981.5L518.7 2982.8L521.6 2986.0L524.5 2988.8L527.5 2988.6L530.4 2988.2L533.3 2992.5L536.2 2994.7L539.2 2994.4L542.1 2995.3L545.0 2995.9L547.9 3001.4L550.9 2999.0L553.8 3000.3L556.7 3001.0L559.6 3004.8L562.6 3003.4L565.5 3005.6L567.0 3006.1L568.4 3005.1L569.9 3005.0L571.3 3005.8L572.8 3007.1L574.3 3009.2L575.7 3006.3L577.2 3007.6L578.7 3014.1L580.1 3009.9L581.6 3007.7L582.2 3010.2L582.8 3013.4L583.3 3015.8L583.9 3016.6L584.5 3015.9L585.1 3014.6L585.7 3013.5L586.3 3013.2L586.8 3013.7L587.4 3015.0L588.0 3016.7L588.6 3018.2L589.2 3018.5L589.8 3017.0L590.4 3013.7L590.9 3008.9L591.5 3004.0L592.1 3002.0L592.7 3004.8L593.3 3009.8L593.9 3013.9L594.5 3016.3L595.0 3017.3L595.6 3017.9L596.2 3018.7L596.8 3019.8L597.4 3020.6L598.0 3020.5L598.6 3019.7L599.1 3018.9L599.7 3019.0L600.3 3020.4L600.9 3022.3L601.5 3023.9L602.1 3024.0L602.7 3022.9L603.2 3021.2L603.8 3020.2L605.3 3023.2L606.7 3026.1L608.2 3025.3L609.7 3025.0L611.1 3024.8L612.6 3025.3L614.1 3025.6L615.5 3025.8L617.0 3026.1L618.5 3026.9L619.9 3028.6L621.4 3027.1L624.3 3028.0L627.2 3026.3L630.2 3030.3L633.1 3028.5L634.5 3028.8L636.0 3029.8L637.5 3028.9L638.9 3029.3L640.4 3030.7L641.9 3031.3L643.3 3031.9L644.8 3031.0L646.2 3030.9L647.7 3031.9L649.2 3031.5L650.6 3032.0L651.2 3032.3L651.8 3032.4L652.4 3032.3L653.0 3032.2L653.6 3032.4L654.1 3032.7L654.7 3032.7L655.3 3032.0L655.9 3030.4L656.5 3027.8L657.1 3025.5L657.4 3024.9L657.7 3024.9L658.2 3026.1L658.8 3027.3L659.4 3027.1L660.0 3024.9L660.6 3020.3L661.2 3013.8L661.8 3008.2L662.0 3007.3L662.3 3008.0L662.9 3013.5L663.5 3020.2L664.1 3025.7L664.7 3029.6L665.3 3032.3L665.9 3033.9L666.4 3034.5L667.0 3034.4L667.6 3033.9L668.2 3033.7L668.8 3034.2L669.4 3035.3L669.9 3036.6L670.5 3037.7L671.1 3038.1L671.7 3038.2L672.3 3038.1L672.9 3038.1L673.5 3038.5L674.0 3038.9L674.6 3039.1L675.2 3039.3L675.8 3039.5L676.4 3039.9L677.0 3040.4L677.6 3040.9L678.1 3040.9L678.7 3040.5L679.3 3039.8L679.9 3039.4L680.5 3039.5L681.1 3040.1L681.7 3040.9L682.2 3041.4L682.8 3041.1L683.4 3040.2L684.0 3038.8L684.6 3037.4L685.2 3036.5L685.7 3036.5L686.3 3037.5L686.9 3039.1L687.5 3040.8L688.1 3042.3L688.7 3043.5L689.3 3044.2L689.8 3044.6L690.4 3044.9L691.0 3045.2L691.6 3045.9L692.2 3046.7L692.8 3047.3L693.4 3047.7L693.9 3047.8L694.5 3047.9L695.1 3048.4L695.7 3049.3L696.3 3050.2L696.9 3050.8L697.5 3050.8L698.9 3049.4L700.4 3051.5L701.8 3052.5L703.3 3050.2L704.8 3051.2L706.2 3053.4L707.7 3052.8L709.2 3052.1L710.6 3053.8L712.1 3055.5L713.5 3054.3L715.0 3054.5L717.9 3055.2L720.9 3056.0L723.8 3058.5L726.7 3057.6L729.6 3058.9L732.6 3059.1L735.5 3060.9L738.4 3061.8L741.3 3061.6L742.8 3063.3L744.3 3062.1L745.7 3062.4L747.2 3065.1L748.7 3064.2L750.1 3063.3L751.6 3064.6L753.0 3065.7L754.5 3065.6L756.0 3065.1L757.4 3066.3L758.0 3066.7L758.6 3066.6L759.2 3065.9L759.8 3065.1L760.4 3064.4L760.9 3064.0L761.5 3064.0L762.1 3064.0L762.7 3063.9L763.3 3063.6L763.9 3063.1L764.5 3062.6L765.0 3061.9L765.6 3060.5L766.2 3058.2L766.8 3054.6L767.4 3049.9L768.0 3045.3L768.6 3043.4L769.1 3045.6L769.7 3049.8L770.3 3053.3L770.9 3055.2L771.5 3055.7L772.1 3055.4L772.7 3054.3L773.2 3052.0L773.8 3047.6L774.4 3040.2L775.0 3028.9L775.6 3013.9L776.2 2999.1L776.7 2992.9L777.3 3000.4L777.9 3016.0L778.5 3030.8L779.1 3041.4L779.7 3048.4L780.3 3053.0L780.8 3056.1L781.4 3058.2L782.0 3059.4L782.6 3059.8L783.2 3059.5L783.8 3058.7L784.4 3057.3L784.9 3055.2L785.5 3051.9L786.1 3047.8L786.7 3043.3L787.3 3039.4L787.9 3038.1L788.5 3040.2L789.0 3044.2L789.6 3048.1L790.2 3051.1L790.8 3053.3L791.4 3055.3L792.0 3056.9L792.5 3058.0L793.1 3058.5L793.7 3058.2L794.3 3057.6L794.9 3057.0L795.5 3056.7L796.1 3057.2L796.6 3057.7L797.2 3058.0L797.8 3058.2L798.4 3058.7L799.0 3059.4L799.6 3060.4L801.0 3061.6L802.5 3061.4L804.0 3063.4L805.4 3064.7L806.9 3063.2L808.3 3062.9L809.8 3063.5L811.3 3063.5L812.7 3062.2L814.2 3062.5L815.7 3062.8L817.1 3060.9L820.1 3062.8L823.0 3062.5L825.9 3061.1L827.7 3061.5L828.8 3062.4L831.8 3062.8L834.7 3066.6L837.6 3066.8L840.5 3069.9L843.5 3073.7L846.4 3075.3L849.3 3074.7L852.2 3075.5L855.2 3075.4L858.1 3075.9L861.0 3077.8L863.9 3076.9L866.9 3076.8L869.8 3078.3L872.7 3078.5L875.6 3079.9L878.6 3078.3L881.5 3079.8L884.4 3080.7L887.4 3081.3L890.3 3080.5L893.2 3081.2L896.1 3083.1L899.1 3082.1L902.0 3082.8L904.9 3083.3L907.8 3083.5L910.8 3083.6L913.7 3082.8L916.6 3084.1L919.5 3084.4L922.5 3083.8L925.4 3083.3L928.3 3085.3L931.2 3084.7L934.2 3084.0L937.1 3085.3L940.0 3084.1L942.9 3086.1L945.9 3085.0L948.8 3084.9L951.7 3086.1L954.6 3085.2L957.6 3086.1L960.5 3086.5L963.4 3085.4L966.4 3085.8L969.3 3086.6L972.2 3086.5L975.1 3085.8L978.1 3086.3L981.0 3085.6L983.9 3087.7L986.8 3085.9L989.8 3086.1L992.7 3086.5L995.6 3086.6L998.5 3087.1L1001.5 3086.4L1004.4 3086.0L1005.9 3086.0L1007.3 3086.5L1008.8 3086.5L1010.2 3086.9L1011.7 3086.1L1013.2 3086.1L1014.6 3084.9L1016.1 3081.1L1016.7 3080.6L1017.6 3081.9L1019.0 3084.5L1020.5 3084.2L1021.1 3084.1L1021.7 3084.3L1022.2 3084.7L1022.8 3084.8L1023.4 3084.7L1024.0 3084.2L1024.6 3083.1L1025.2 3081.5L1025.7 3079.3L1026.3 3076.3L1026.9 3072.6L1027.5 3067.9L1028.1 3061.8L1028.7 3053.5L1029.3 3042.3L1029.8 3028.5L1030.4 3014.4L1031.0 3005.2L1031.3 3003.9L1031.6 3005.2L1032.2 3014.5L1032.8 3028.9L1033.4 3043.2L1033.9 3054.8L1034.5 3063.5L1035.1 3069.7L1035.7 3074.3L1036.3 3077.9L1036.9 3080.5L1037.5 3082.1L1038.0 3082.8L1038.6 3083.1L1039.2 3083.4L1039.8 3084.1L1040.4 3085.1L1041.0 3086.0L1041.6 3086.5L1042.1 3086.4L1042.7 3086.2L1043.3 3085.9L1044.8 3086.6L1046.2 3086.5L1047.7 3084.9L1049.2 3083.1L1050.6 3080.2L1052.1 3077.1L1053.5 3075.8L1055.0 3078.5L1056.5 3081.3L1057.9 3082.5L1059.4 3086.3L1060.9 3087.5L1063.8 3088.5L1066.7 3088.9L1069.6 3089.8L1071.1 3089.4L1072.6 3088.3L1074.0 3089.0L1075.5 3090.2L1077.0 3089.9L1078.4 3090.5L1079.9 3089.9L1081.3 3088.5L1082.8 3089.1L1084.3 3088.0L1085.7 3087.0L1086.3 3087.4L1086.9 3087.9L1087.5 3088.2L1088.1 3088.1L1088.7 3087.7L1089.2 3087.3L1089.8 3086.7L1090.4 3086.1L1091.0 3085.4L1091.6 3084.3L1092.2 3082.9L1092.8 3081.4L1093.3 3079.6L1093.9 3077.7L1094.5 3075.4L1095.1 3072.8L1095.7 3070.3L1096.3 3068.9L1096.9 3068.8L1097.4 3070.0L1098.0 3071.6L1098.6 3073.1L1099.2 3074.2L1099.8 3075.1L1100.4 3075.9L1100.9 3076.3L1101.5 3076.2L1102.1 3075.5L1102.7 3074.1L1103.3 3072.4L1103.9 3071.0L1104.5 3070.0L1105.0 3069.2L1105.6 3067.7L1106.2 3064.8L1106.8 3059.8L1107.4 3052.7L1108.0 3043.6L1108.6 3033.3L1109.1 3023.7L1109.7 3017.6L1110.0 3016.9L1110.3 3017.8L1110.9 3024.0L1111.5 3033.0L1112.1 3041.6L1112.7 3048.5L1113.2 3053.4L1113.8 3056.8L1114.4 3059.1L1115.0 3060.7L1115.6 3061.9L1116.2 3063.0L1116.7 3063.8L1117.3 3064.1L1117.9 3063.9L1118.5 3063.2L1119.1 3062.5L1119.7 3061.9L1120.3 3061.6L1120.8 3059.3L1121.4 3056.9L1122.0 3054.3L1123.5 3047.1L1124.9 3040.5L1126.4 3033.3L1127.9 3028.9L1129.3 3027.6L1130.8 3025.1L1132.3 3023.3L1133.7 3021.4L1135.2 3021.3L1136.6 3022.0L1138.1 3020.4L1139.6 3021.6L1142.5 3024.6L1145.4 3026.5L1148.3 3028.8L1151.3 3028.4L1154.2 3025.2L1157.1 3025.1L1160.1 3029.5L1163.0 3032.8L1165.9 3037.9L1168.8 3041.8L1171.8 3042.3L1174.7 3044.8L1177.6 3047.2L1180.5 3049.3L1183.5 3058.3L1186.4 3063.2L1189.3 3067.1L1192.2 3071.2L1193.7 3073.4L1195.2 3073.1L1196.6 3074.7L1198.1 3076.7L1199.6 3077.0L1201.0 3077.7L1202.5 3077.1L1203.9 3076.8L1205.4 3077.3L1206.9 3074.4L1208.3 3071.6L1208.9 3070.7L1209.5 3069.5L1210.1 3067.7L1210.7 3065.2L1211.3 3062.1L1211.8 3058.2L1212.4 3053.4L1213.0 3047.3L1213.6 3039.3L1214.2 3028.9L1214.8 3015.2L1215.4 2997.1L1215.9 2973.0L1216.5 2941.0L1217.1 2899.4L1217.7 2847.5L1218.3 2788.0L1218.9 2729.2L1219.5 2685.3L1220.0 2670.9L1220.6 2692.1L1221.2 2740.2L1221.8 2800.1L1222.4 2858.7L1223.0 2909.0L1223.5 2949.2L1224.1 2980.0L1224.7 3002.9L1225.3 3019.8L1225.9 3026.0L1226.5 3025.2L1227.1 3025.3L1227.6 3025.8L1228.2 3026.4L1228.8 3026.4L1229.4 3026.0L1230.0 3025.1L1230.6 3024.3L1231.2 3023.9L1231.7 3024.0L1232.3 3024.3L1232.9 3024.7L1233.5 3024.9L1234.1 3025.0L1234.7 3025.0L1235.3 3024.9L1235.8 3024.7L1236.4 3024.5L1237.0 3024.5L1237.6 3024.9L1238.2 3025.8L1238.8 3027.3L1239.3 3029.3L1239.9 3031.7L1240.5 3034.7L1241.1 3038.8L1241.7 3044.2L1242.3 3050.3L1242.9 3041.1L1243.4 3034.9L1244.0 3031.2L1244.6 3029.3L1245.2 3028.3L1245.8 3027.8L1246.4 3027.8L1247.0 3028.1L1247.5 3029.1L1248.1 3031.3L1248.7 3035.6L1249.3 3042.8L1249.9 3052.8L1250.5 3063.4L1251.1 3064.8L1251.6 3063.5L1252.2 3062.5L1252.8 3061.8L1253.4 3061.6L1254.0 3061.7L1254.6 3062.1L1255.1 3062.7L1255.7 3063.6L1256.3 3065.2L1256.9 3068.0L1257.5 3071.9L1258.1 3076.1L1258.7 3079.3L1259.2 3081.2L1259.8 3082.0L1260.4 3082.1L1261.0 3082.1L1261.6 3082.3L1262.2 3082.9L1262.8 3083.7L1263.3 3084.3L1263.9 3084.7L1265.4 3084.3L1266.9 3084.1L1268.3 3085.2L1269.8 3086.1L1271.2 3084.9L1272.7 3084.8L1274.2 3086.6L1275.6 3086.6L1277.1 3086.6L1278.6 3087.2L1280.0 3087.5L1281.5 3088.5L1284.4 3087.1L1287.3 3088.8L1290.3 3088.3L1293.2 3088.8L1296.1 3089.0L1299.0 3089.1L1302.0 3088.9L1304.9 3090.2L1307.8 3088.8L1310.7 3091.2L1313.7 3089.1L1316.6 3090.2L1319.5 3090.3L1322.4 3090.9L1325.4 3089.6L1328.3 3090.4L1331.2 3089.8L1334.2 3087.7L1336.8 3079.3L1337.1 3079.6L1340.0 3088.1L1342.9 3090.0L1345.9 3089.8L1348.8 3082.9L1350.2 3081.5L1351.7 3084.8L1354.6 3089.3L1357.6 3091.5L1360.5 3090.7L1363.4 3092.2L1366.3 3091.8L1369.3 3092.0L1372.2 3091.6L1375.1 3092.0L1378.0 3092.4L1381.0 3092.3L1383.9 3091.2L1386.8 3092.7L1389.7 3091.6L1392.7 3092.9L1395.6 3091.7L1398.5 3091.9L1401.4 3092.0L1404.4 3093.2L1407.3 3091.6L1410.2 3092.0L1413.2 3092.1L1416.1 3092.6L1419.0 3092.8L1421.9 3091.6L1424.9 3091.8L1427.8 3093.5L1430.7 3091.6L1433.6 3092.7L1436.6 3091.9L1439.5 3092.7L1442.4 3092.5L1445.3 3092.5L1448.3 3092.2L1451.2 3092.6L1454.1 3092.2L1457.0 3092.6L1460.0 3092.9L1462.9 3092.1L1465.8 3092.1L1468.7 3093.3L1471.7 3092.5L1474.6 3092.6L1477.5 3091.9L1480.5 3093.2L1483.4 3092.7L1486.3 3092.5L1489.2 3092.3L1492.2 3092.8L1495.1 3093.1L1498.0 3091.8L1500.9 3091.9L1503.9 3089.5L1504.7 3088.9L1506.8 3090.1L1509.7 3092.6L1512.6 3092.2L1515.6 3093.0L1518.5 3092.9L1521.4 3092.6L1524.3 3092.7L1527.3 3093.3L1530.2 3092.7L1533.1 3092.8L1536.0 3093.1L1539.0 3092.4L1541.9 3093.9L1544.8 3092.7L1547.7 3092.3L1550.7 3093.6L1553.6 3093.0L1556.5 3093.4L1559.5 3092.3L1562.4 3092.7L1565.3 3093.8L1568.2 3093.1L1571.2 3092.4L1574.1 3092.8L1577.0 3093.7L1579.9 3092.8L1582.9 3093.0L1585.8 3092.7L1588.7 3093.1L1591.6 3093.2L1594.6 3092.7L1597.5 3093.1L1600.4 3092.6L1603.3 3092.8L1604.8 3092.1L1606.3 3093.0L1607.7 3093.6L1609.2 3093.0L1610.7 3092.4L1612.1 3092.3L1613.6 3092.6L1615.0 3091.5L1616.5 3091.2L1618.0 3092.7L1619.4 3091.7L1620.0 3090.9L1620.6 3090.4L1621.2 3090.2L1621.8 3090.1L1622.4 3089.8L1622.9 3089.0L1623.5 3087.6L1624.1 3086.0L1624.7 3084.2L1625.3 3082.2L1625.9 3079.9L1626.5 3076.8L1627.0 3072.6L1627.6 3067.1L1628.2 3060.2L1628.8 3051.7L1629.4 3042.2L1630.0 3032.8L1630.6 3025.8L1631.1 3023.3L1631.7 3026.2L1632.3 3033.5L1632.9 3042.9L1633.5 3052.2L1634.1 3060.3L1634.7 3066.9L1635.2 3072.4L1635.8 3076.9L1636.4 3080.6L1637.0 3083.3L1637.6 3085.1L1638.2 3086.2L1638.7 3086.9L1639.3 3087.6L1639.9 3088.6L1640.5 3089.7L1641.1 3090.6L1641.7 3091.0L1642.3 3091.2L1642.8 3091.2L1644.3 3091.9L1645.8 3092.3L1647.2 3092.0L1648.7 3092.8L1650.2 3092.7L1651.6 3092.1L1653.1 3092.6L1654.5 3093.1L1656.0 3092.7L1657.5 3092.2L1658.9 3093.5L1660.4 3093.5L1663.3 3093.2L1666.3 3092.0L1669.2 3093.4L1672.1 3093.0L1675.0 3093.0L1678.0 3093.1L1680.9 3092.4L1683.8 3093.3L1686.7 3093.0L1689.7 3093.1L1692.6 3092.7L1695.5 3093.0L1698.4 3092.8L1701.4 3093.4L1704.3 3093.2L1707.2 3092.2L1710.1 3093.2L1713.1 3093.3L1716.0 3093.2L1718.9 3092.4L1721.8 3092.9L1724.8 3093.5L1727.7 3093.0L1730.6 3092.8L1733.5 3092.5L1736.5 3093.8L1739.4 3092.9L1742.3 3092.3L1745.3 3093.7L1748.2 3092.7L1751.1 3093.2L1754.0 3092.6L1757.0 3093.1L1759.9 3093.4L1762.8 3092.8L1765.7 3092.4L1768.7 3093.5L1771.6 3093.3L1774.5 3092.5L1777.4 3093.2L1780.4 3092.8L1783.3 3093.1L1786.2 3093.6L1789.1 3092.0L1792.1 3093.5L1795.0 3092.8L1797.9 3093.3L1800.8 3093.0L1803.8 3092.5L1806.7 3093.0L1809.6 3093.6L1812.6 3093.0L1815.5 3092.5L1818.4 3093.0L1821.3 3093.4L1824.3 3092.9L1827.2 3093.2L1830.1 3092.4L1833.0 3093.5L1836.0 3092.8L1838.9 3093.3L1841.8 3092.7L1844.7 3093.0L1847.7 3092.8L1850.6 3093.4L1853.5 3093.3L1856.4 3092.1L1859.4 3093.1L1862.3 3093.8L1865.2 3092.6L1868.1 3093.1L1871.1 3092.2L1874.0 3093.9L1876.9 3093.2L1879.8 3092.4L1882.8 3092.8L1885.7 3093.7L1888.6 3092.7L1891.6 3092.9L1894.5 3093.1L1897.4 3092.9L1900.3 3093.3L1903.3 3092.7L1906.2 3092.8L1909.1 3093.9L1912.0 3092.1L1915.0 3093.4L1917.9 3092.9L1920.8 3093.2L1923.7 3093.0L1926.7 3092.8L1929.6 3092.9L1932.5 3093.2L1935.4 3093.2L1938.4 3092.7L1941.3 3092.8L1944.2 3093.2L1947.1 3093.1L1950.1 3093.3L1953.0 3092.2L1955.9 3093.3L1958.9 3093.1L1961.8 3092.9L1963.2 3091.7L1964.7 3091.9L1966.2 3093.2L1967.6 3092.6L1969.1 3092.0L1970.6 3092.6L1972.0 3092.9L1973.5 3091.9L1974.9 3091.0L1976.4 3092.2L1977.9 3092.3L1979.3 3090.8L1979.9 3090.7L1980.5 3090.8L1981.1 3090.6L1981.7 3089.7L1982.3 3088.0L1982.8 3086.0L1983.4 3085.0L1984.0 3085.7L1984.6 3087.3L1985.2 3088.6L1985.8 3089.3L1986.4 3089.2L1986.9 3088.6L1987.5 3087.8L1988.1 3086.8L1988.7 3085.5L1989.3 3083.8L1989.9 3082.0L1990.5 3081.2L1991.0 3081.9L1991.6 3083.6L1992.2 3085.3L1992.8 3086.6L1993.4 3087.7L1994.0 3088.6L1994.5 3089.6L1995.1 3090.5L1995.7 3091.0L1996.3 3091.1L1996.9 3090.7L1997.5 3090.2L1998.1 3089.9L1998.6 3090.1L1999.2 3090.8L1999.8 3091.6L2000.4 3092.1L2001.0 3092.1L2001.6 3091.7L2002.2 3091.2L2003.6 3090.7L2005.1 3090.3L2006.5 3090.3L2008.0 3090.9L2009.5 3090.1L2010.9 3090.3L2012.4 3091.7L2013.9 3091.1L2015.3 3089.7L2016.8 3089.5L2018.2 3090.2L2019.7 3089.4L2022.6 3089.3L2025.6 3084.9L2027.3 3083.3L2028.5 3083.4L2031.4 3088.2L2034.3 3088.5L2037.3 3089.9L2040.2 3088.2L2043.1 3088.9L2046.0 3086.8L2049.0 3083.0L2051.9 3086.0L2054.8 3088.0L2057.8 3086.3L2060.7 3082.2L2063.6 3086.0L2066.5 3087.8L2069.5 3087.9L2072.4 3088.2L2075.3 3087.1L2078.2 3087.8L2081.2 3087.4L2084.1 3087.8L2087.0 3086.4L2089.9 3086.8L2092.9 3086.3L2095.8 3086.6L2098.7 3085.7L2101.6 3084.1L2104.6 3085.4L2107.5 3085.1L2110.4 3083.6L2113.3 3083.7L2116.3 3082.9L2119.2 3083.8L2122.1 3082.6L2125.0 3081.7L2128.0 3081.7L2130.9 3082.1L2133.8 3080.7L2136.8 3080.9L2139.7 3080.6L2142.6 3079.6L2145.5 3080.3L2148.5 3079.4L2151.4 3079.2L2154.3 3078.9L2157.2 3077.9L2160.2 3079.0L2163.1 3077.9L2166.0 3077.2L2168.9 3077.0L2171.9 3077.4L2174.8 3076.8L2177.7 3075.9L2180.6 3076.1L2183.6 3075.6L2186.5 3075.8L2189.4 3074.8L2192.3 3074.7L2195.3 3074.7L2198.2 3074.1L2201.1 3073.8L2204.1 3073.6L2207.0 3073.5L2209.9 3072.7L2212.8 3072.9L2215.8 3072.3L2218.7 3071.9L2221.6 3071.5L2224.5 3067.8L2227.5 3066.9L2230.4 3064.5L2233.3 3062.5L2236.2 3060.4L2239.2 3058.1L2242.1 3058.3L2245.0 3058.5L2247.9 3056.6" fill="none" stroke="#FF8000" stroke-width="8" stroke-linejoin="round" stroke-linecap="round"/>

<path d="M375.3 2923.3L378.2 2917.2L381.2 2916.2L384.1 2918.0L387.0 2916.3L389.9 2919.7L392.9 2920.3L395.8 2922.9L398.7 2925.4L401.6 2926.5L404.6 2929.5L407.5 2933.3L410.4 2929.2L413.3 2926.6L416.3 2927.9L419.2 2927.9L422.1 2931.2L425.0 2930.8L428.0 2935.2L430.9 2936.4L433.8 2939.4L436.7 2944.2L439.7 2942.8L442.6 2944.8L445.5 2946.0L448.5 2949.1L451.4 2950.6L454.3 2952.4L457.2 2954.7L460.2 2955.8L463.1 2958.7L466.0 2959.5L468.9 2964.1L471.9 2965.7L474.8 2966.2L477.7 2971.0L480.6 2973.3L483.6 2972.7L486.5 2979.1L489.4 2983.5L492.3 2979.6L495.3 2983.5L498.2 2984.2L501.1 2988.9L504.0 2992.6L507.0 2987.8L509.9 2991.1L512.8 2993.7L515.7 2994.7L518.7 2996.5L521.6 2996.8L524.5 2995.0L527.5 2999.1L530.4 3003.3L533.3 3000.1L536.2 3003.8L539.2 3006.7L542.1 3006.5L545.0 3007.8L547.9 3009.2L550.9 3011.0L553.8 3013.9L556.7 3011.9L559.6 3011.4L562.6 3017.8L565.5 3014.2L567.0 3013.8L568.4 3016.0L569.9 3018.8L571.3 3017.8L572.8 3014.7L574.3 3014.1L575.7 3017.1L577.2 3016.5L578.7 3017.2L580.1 3017.0L581.6 3016.6L582.2 3017.8L582.8 3019.2L583.3 3020.1L583.9 3020.4L584.5 3020.3L585.1 3020.1L585.7 3019.8L586.3 3019.3L586.8 3018.5L587.4 3017.9L588.0 3018.0L588.6 3019.1L589.2 3020.3L589.8 3020.5L590.4 3019.4L590.9 3017.4L591.5 3015.7L592.1 3016.1L592.7 3018.7L593.3 3021.4L593.9 3022.3L594.5 3021.3L595.0 3020.0L595.6 3019.8L596.2 3021.3L596.8 3023.3L597.4 3024.3L598.0 3023.6L598.6 3022.0L599.1 3021.1L599.7 3021.9L600.3 3024.0L600.9 3026.1L601.5 3027.0L602.1 3026.8L602.7 3026.2L603.2 3026.0L603.8 3026.5L605.3 3026.3L606.7 3025.2L608.2 3027.1L609.7 3027.8L611.1 3029.3L612.6 3029.1L614.1 3028.8L615.5 3030.4L617.0 3029.7L618.5 3030.2L619.9 3031.1L621.4 3031.1L624.3 3032.4L627.2 3032.3L630.2 3033.7L633.1 3035.0L634.5 3034.5L636.0 3035.8L637.5 3035.8L638.9 3034.9L640.4 3035.6L641.9 3036.6L643.3 3038.5L644.8 3037.2L646.2 3036.5L647.7 3036.4L649.2 3035.7L650.6 3038.6L651.2 3039.1L651.8 3038.7L652.4 3037.8L653.0 3037.1L653.6 3037.1L654.1 3037.5L654.7 3037.8L655.3 3037.4L655.9 3036.4L656.5 3034.9L657.1 3033.8L657.4 3033.7L657.7 3033.9L658.2 3034.9L658.8 3035.5L659.4 3035.0L660.0 3033.6L660.6 3031.2L661.2 3028.2L661.8 3025.6L662.0 3025.3L662.3 3025.7L662.9 3028.5L663.5 3032.1L664.1 3035.0L664.7 3037.1L665.3 3038.3L665.9 3038.8L666.4 3038.9L667.0 3039.1L667.6 3039.6L668.2 3040.2L668.8 3040.7L669.4 3040.8L669.9 3040.6L670.5 3040.4L671.1 3040.6L671.7 3041.1L672.3 3041.6L672.9 3042.0L673.5 3042.2L674.0 3042.4L674.6 3042.7L675.2 3043.0L675.8 3043.2L676.4 3043.3L677.0 3043.4L677.6 3043.5L678.1 3043.8L678.7 3044.0L679.3 3043.9L679.9 3043.7L680.5 3043.6L681.1 3044.1L681.7 3045.1L682.2 3046.1L682.8 3046.4L683.4 3045.8L684.0 3044.6L684.6 3043.5L685.2 3043.2L685.7 3043.7L686.3 3044.4L686.9 3044.8L687.5 3044.8L688.1 3044.7L688.7 3045.3L689.3 3046.5L689.8 3048.0L690.4 3049.0L691.0 3049.3L691.6 3049.2L692.2 3049.2L692.8 3049.7L693.4 3050.5L693.9 3051.2L694.5 3051.6L695.1 3051.7L695.7 3051.8L696.3 3052.2L696.9 3052.6L697.5 3052.8L698.9 3051.8L700.4 3052.5L701.8 3052.7L703.3 3053.1L704.8 3054.9L706.2 3054.0L707.7 3055.0L709.2 3056.4L710.6 3055.8L712.1 3055.8L713.5 3055.9L715.0 3056.3L717.9 3058.7L720.9 3057.4L723.8 3059.7L726.7 3060.4L729.6 3059.7L732.6 3062.0L735.5 3062.4L738.4 3061.6L741.3 3062.6L742.8 3062.2L744.3 3064.2L745.7 3063.4L747.2 3064.6L748.7 3065.6L750.1 3065.2L751.6 3064.9L753.0 3064.5L754.5 3065.4L756.0 3065.8L757.4 3066.9L758.0 3067.1L758.6 3066.8L759.2 3066.1L759.8 3065.3L760.4 3065.0L760.9 3065.3L761.5 3065.8L762.1 3066.2L762.7 3066.3L763.3 3066.3L763.9 3066.2L764.5 3066.1L765.0 3065.9L765.6 3065.4L766.2 3064.5L766.8 3063.2L767.4 3061.5L768.0 3059.8L768.6 3058.8L769.1 3059.1L769.7 3060.3L770.3 3061.8L770.9 3063.1L771.5 3063.9L772.1 3063.8L772.7 3062.6L773.2 3060.5L773.8 3058.0L774.4 3054.8L775.0 3050.2L775.6 3043.5L776.2 3036.0L776.7 3031.9L777.3 3034.7L777.9 3042.2L778.5 3050.1L779.1 3056.3L779.7 3060.1L780.3 3062.0L780.8 3062.7L781.4 3063.2L782.0 3064.0L782.6 3065.1L783.2 3065.8L783.8 3066.0L784.4 3065.5L784.9 3064.6L785.5 3063.6L786.1 3062.3L786.7 3060.5L787.3 3058.6L787.9 3057.6L788.5 3058.4L789.0 3060.7L789.6 3063.4L790.2 3065.3L790.8 3066.3L791.4 3066.5L792.0 3066.5L792.5 3066.8L793.1 3067.4L793.7 3067.9L794.3 3067.9L794.9 3067.5L795.5 3067.1L796.1 3067.3L796.6 3068.3L797.2 3069.5L797.8 3070.2L798.4 3070.3L799.0 3069.7L799.6 3069.0L801.0 3068.6L802.5 3068.5L804.0 3068.6L805.4 3069.5L806.9 3070.4L808.3 3069.9L809.8 3069.0L811.3 3069.9L812.7 3069.1L814.2 3069.6L815.7 3070.8L817.1 3070.3L820.1 3070.4L823.0 3070.7L825.9 3069.7L827.7 3067.9L828.8 3070.3L831.8 3071.8L834.7 3072.9L837.6 3076.7L840.5 3076.0L843.5 3076.4L846.4 3077.5L849.3 3077.4L852.2 3078.1L855.2 3077.6L858.1 3078.6L861.0 3079.4L863.9 3079.3L866.9 3078.2L869.8 3079.6L872.7 3081.0L875.6 3080.1L878.6 3081.2L881.5 3080.2L884.4 3080.0L887.4 3082.6L890.3 3082.9L893.2 3081.0L896.1 3082.2L899.1 3082.6L902.0 3082.9L904.9 3084.4L907.8 3082.2L910.8 3083.8L913.7 3084.0L916.6 3082.6L919.5 3084.7L922.5 3084.4L925.4 3083.7L928.3 3084.2L931.2 3085.1L934.2 3083.9L937.1 3084.7L940.0 3085.7L942.9 3084.9L945.9 3085.4L948.8 3084.6L951.7 3085.4L954.6 3086.6L957.6 3086.1L960.5 3085.3L963.4 3086.0L966.4 3085.5L969.3 3086.6L972.2 3087.7L975.1 3084.9L978.1 3085.8L981.0 3086.6L983.9 3086.9L986.8 3086.6L989.8 3085.8L992.7 3087.2L995.6 3086.1L998.5 3086.3L1001.5 3086.8L1004.4 3087.1L1005.9 3085.9L1007.3 3086.7L1008.8 3086.3L1010.2 3085.7L1011.7 3087.7L1013.2 3085.6L1014.6 3084.6L1016.1 3084.1L1016.7 3083.3L1017.6 3083.1L1019.0 3085.1L1020.5 3085.2L1021.1 3084.9L1021.7 3084.9L1022.2 3085.0L1022.8 3084.9L1023.4 3084.5L1024.0 3083.9L1024.6 3083.4L1025.2 3082.9L1025.7 3082.1L1026.3 3080.3L1026.9 3077.4L1027.5 3073.4L1028.1 3068.3L1028.7 3062.2L1029.3 3054.3L1029.8 3044.5L1030.4 3034.4L1031.0 3027.4L1031.3 3026.3L1031.6 3027.1L1032.2 3033.8L1032.8 3044.5L1033.4 3055.2L1033.9 3063.9L1034.5 3070.1L1035.1 3074.3L1035.7 3077.3L1036.3 3079.7L1036.9 3081.6L1037.5 3083.1L1038.0 3084.2L1038.6 3084.9L1039.2 3085.3L1039.8 3085.5L1040.4 3085.6L1041.0 3085.6L1041.6 3085.9L1042.1 3086.5L1042.7 3087.3L1043.3 3087.9L1044.8 3087.2L1046.2 3086.4L1047.7 3084.9L1049.2 3081.3L1050.6 3080.4L1052.1 3078.4L1053.5 3076.6L1055.0 3077.9L1056.5 3080.2L1057.9 3084.1L1059.4 3085.7L1060.9 3087.3L1063.8 3086.8L1066.7 3089.5L1069.6 3090.0L1071.1 3088.3L1072.6 3089.4L1074.0 3090.1L1075.5 3089.8L1077.0 3089.7L1078.4 3089.4L1079.9 3089.1L1081.3 3088.6L1082.8 3089.8L1084.3 3089.5L1085.7 3088.5L1086.3 3088.5L1086.9 3088.3L1087.5 3087.8L1088.1 3087.1L1088.7 3086.4L1089.2 3086.1L1089.8 3085.7L1090.4 3085.6L1091.0 3085.3L1091.6 3085.0L1092.2 3084.5L1092.8 3083.9L1093.3 3082.8L1093.9 3081.2L1094.5 3079.2L1095.1 3077.2L1095.7 3075.8L1096.3 3075.4L1096.9 3075.8L1097.4 3076.4L1098.0 3076.7L1098.6 3076.8L1099.2 3077.0L1099.8 3077.6L1100.4 3078.2L1100.9 3078.2L1101.5 3077.4L1102.1 3075.9L1102.7 3074.7L1103.3 3074.2L1103.9 3074.3L1104.5 3074.3L1105.0 3073.5L1105.6 3071.6L1106.2 3068.8L1106.8 3065.4L1107.4 3061.4L1108.0 3056.3L1108.6 3049.8L1109.1 3042.7L1109.7 3037.6L1110.0 3036.5L1110.3 3036.8L1110.9 3040.7L1111.5 3047.0L1112.1 3053.1L1112.7 3057.6L1113.2 3060.8L1113.8 3063.0L1114.4 3064.8L1115.0 3066.2L1115.6 3066.9L1116.2 3067.0L1116.7 3066.8L1117.3 3066.9L1117.9 3067.5L1118.5 3068.2L1119.1 3068.5L1119.7 3068.0L1120.3 3065.2L1120.8 3062.3L1121.4 3060.1L1122.0 3058.4L1123.5 3054.1L1124.9 3048.5L1126.4 3044.1L1127.9 3039.5L1129.3 3036.7L1130.8 3035.5L1132.3 3036.0L1133.7 3035.2L1135.2 3033.7L1136.6 3034.3L1138.1 3033.5L1139.6 3034.8L1142.5 3035.1L1145.4 3037.0L1148.3 3038.3L1151.3 3037.5L1154.2 3036.3L1157.1 3036.0L1160.1 3038.6L1163.0 3041.5L1165.9 3047.5L1168.8 3049.1L1171.8 3050.6L1174.7 3052.2L1177.6 3054.4L1180.5 3057.3L1183.5 3061.2L1186.4 3068.3L1189.3 3072.4L1192.2 3072.9L1193.7 3075.3L1195.2 3075.0L1196.6 3075.6L1198.1 3078.1L1199.6 3078.5L1201.0 3079.0L1202.5 3077.5L1203.9 3077.1L1205.4 3077.1L1206.9 3076.3L1208.3 3075.4L1208.9 3074.1L1209.5 3072.2L1210.1 3070.2L1210.7 3068.2L1211.3 3066.3L1211.8 3063.9L1212.4 3060.5L1213.0 3055.7L1213.6 3049.3L1214.2 3041.2L1214.8 3031.0L1215.4 3017.5L1215.9 2999.3L1216.5 2974.8L1217.1 2942.8L1217.7 2903.1L1218.3 2857.8L1218.9 2813.3L1219.5 2780.1L1220.0 2769.4L1220.6 2785.8L1221.2 2822.6L1221.8 2868.2L1222.4 2912.6L1223.0 2950.5L1223.5 2980.7L1224.1 3004.0L1224.7 3021.9L1225.3 3035.5L1225.9 3043.2L1226.5 3042.5L1227.1 3041.9L1227.6 3041.5L1228.2 3041.5L1228.8 3042.0L1229.4 3042.4L1230.0 3042.6L1230.6 3042.4L1231.2 3042.1L1231.7 3041.9L1232.3 3042.0L1232.9 3042.1L1233.5 3042.1L1234.1 3041.8L1234.7 3041.4L1235.3 3041.2L1235.8 3041.3L1236.4 3041.5L1237.0 3041.7L1237.6 3041.9L1238.2 3042.1L1238.8 3042.6L1239.3 3043.2L1239.9 3043.7L1240.5 3043.9L1241.1 3044.1L1241.7 3044.8L1242.3 3046.4L1242.9 3049.5L1243.4 3053.8L1244.0 3058.7L1244.6 3063.7L1245.2 3068.4L1245.8 3072.8L1246.4 3076.8L1247.0 3080.2L1247.5 3082.5L1248.1 3083.6L1248.7 3083.6L1249.3 3083.3L1249.9 3083.2L1250.5 3083.4L1251.1 3083.9L1251.6 3084.2L1252.2 3084.2L1252.8 3083.8L1253.4 3083.6L1254.0 3083.6L1254.6 3083.8L1255.1 3083.9L1255.7 3083.8L1256.3 3083.5L1256.9 3083.3L1257.5 3083.4L1258.1 3083.6L1258.7 3083.7L1259.2 3083.9L1259.8 3084.1L1260.4 3084.4L1261.0 3084.7L1261.6 3085.0L1262.2 3085.0L1262.8 3084.7L1263.3 3084.4L1263.9 3084.2L1265.4 3085.1L1266.9 3085.1L1268.3 3085.1L1269.8 3085.8L1271.2 3085.9L1272.7 3086.3L1274.2 3086.8L1275.6 3087.0L1277.1 3086.4L1278.6 3087.5L1280.0 3088.2L1281.5 3087.5L1284.4 3087.3L1287.3 3089.0L1290.3 3089.2L1293.2 3088.5L1296.1 3088.2L1299.0 3088.8L1302.0 3090.0L1304.9 3090.1L1307.8 3089.0L1310.7 3089.6L1313.7 3090.8L1316.6 3089.4L1319.5 3090.8L1322.4 3090.5L1325.4 3089.6L1328.3 3091.0L1331.2 3089.7L1334.2 3087.6L1336.8 3082.0L1337.1 3082.2L1340.0 3088.8L1342.9 3090.1L1345.9 3089.1L1348.8 3083.4L1350.2 3080.8L1351.7 3084.2L1354.6 3090.6L1357.6 3090.4L1360.5 3091.3L1363.4 3091.8L1366.3 3091.3L1369.3 3092.2L1372.2 3092.8L1375.1 3091.4L1378.0 3091.4L1381.0 3092.5L1383.9 3092.0L1386.8 3092.9L1389.7 3091.5L1392.7 3091.6L1395.6 3092.9L1398.5 3091.7L1401.4 3092.4L1404.4 3092.4L1407.3 3092.0L1410.2 3092.0L1413.2 3092.4L1416.1 3092.3L1419.0 3092.2L1421.9 3092.7L1424.9 3092.0L1427.8 3091.9L1430.7 3092.3L1433.6 3093.0L1436.6 3092.4L1439.5 3092.0L1442.4 3092.2L1445.3 3092.6L1448.3 3092.7L1451.2 3091.9L1454.1 3093.0L1457.0 3092.5L1460.0 3092.1L1462.9 3092.2L1465.8 3092.8L1468.7 3093.3L1471.7 3091.9L1474.6 3092.6L1477.5 3092.3L1480.5 3092.6L1483.4 3093.7L1486.3 3092.4L1489.2 3091.9L1492.2 3092.6L1495.1 3092.9L1498.0 3092.8L1500.9 3091.9L1503.9 3088.4L1504.7 3088.3L1506.8 3091.0L1509.7 3092.4L1512.6 3092.0L1515.6 3093.4L1518.5 3092.8L1521.4 3092.4L1524.3 3092.8L1527.3 3093.2L1530.2 3092.5L1533.1 3093.1L1536.0 3093.4L1539.0 3092.3L1541.9 3093.3L1544.8 3092.5L1547.7 3093.4L1550.7 3093.9L1553.6 3092.0L1556.5 3092.7L1559.5 3093.4L1562.4 3092.9L1565.3 3093.5L1568.2 3093.2L1571.2 3091.7L1574.1 3093.3L1577.0 3093.7L1579.9 3092.9L1582.9 3092.9L1585.8 3092.4L1588.7 3093.4L1591.6 3093.0L1594.6 3092.8L1597.5 3092.9L1600.4 3093.4L1603.3 3092.7L1604.8 3093.0L1606.3 3092.0L1607.7 3093.2L1609.2 3093.5L1610.7 3092.2L1612.1 3092.7L1613.6 3092.0L1615.0 3092.4L1616.5 3092.8L1618.0 3091.9L1619.4 3091.5L1620.0 3091.1L1620.6 3090.6L1621.2 3090.3L1621.8 3090.3L1622.4 3090.3L1622.9 3089.9L1623.5 3088.8L1624.1 3087.3L1624.7 3085.7L1625.3 3084.1L1625.9 3082.4L1626.5 3080.1L1627.0 3076.5L1627.6 3071.5L1628.2 3065.4L1628.8 3058.3L1629.4 3050.8L1630.0 3043.7L1630.6 3038.1L1631.1 3035.7L1631.7 3037.5L1632.3 3043.0L1632.9 3050.6L1633.5 3058.6L1634.1 3065.8L1634.7 3071.6L1635.2 3076.1L1635.8 3079.6L1636.4 3082.2L1637.0 3084.3L1637.6 3086.0L1638.2 3087.4L1638.7 3088.6L1639.3 3089.8L1639.9 3090.6L1640.5 3091.1L1641.1 3091.2L1641.7 3091.1L1642.3 3091.0L1642.8 3091.1L1644.3 3091.7L1645.8 3091.4L1647.2 3092.7L1648.7 3093.4L1650.2 3092.8L1651.6 3092.5L1653.1 3092.3L1654.5 3093.0L1656.0 3092.7L1657.5 3092.9L1658.9 3092.8L1660.4 3092.2L1663.3 3093.4L1666.3 3093.0L1669.2 3093.1L1672.1 3092.9L1675.0 3092.9L1678.0 3092.7L1680.9 3093.3L1683.8 3093.1L1686.7 3092.4L1689.7 3093.8L1692.6 3092.9L1695.5 3092.1L1698.4 3093.1L1701.4 3093.7L1704.3 3093.2L1707.2 3092.5L1710.1 3092.4L1713.1 3093.3L1716.0 3093.9L1718.9 3092.6L1721.8 3092.9L1724.8 3092.6L1727.7 3093.0L1730.6 3093.7L1733.5 3092.9L1736.5 3093.0L1739.4 3092.4L1742.3 3093.4L1745.3 3093.1L1748.2 3092.5L1751.1 3093.5L1754.0 3093.0L1757.0 3092.6L1759.9 3092.8L1762.8 3093.3L1765.7 3093.0L1768.7 3093.2L1771.6 3092.9L1774.5 3092.8L1777.4 3093.0L1780.4 3092.8L1783.3 3093.6L1786.2 3093.2L1789.1 3092.3L1792.1 3092.4L1795.0 3094.0L1797.9 3093.1L1800.8 3092.6L1803.8 3093.4L1806.7 3092.0L1809.6 3093.6L1812.6 3093.5L1815.5 3092.5L1818.4 3093.2L1821.3 3092.6L1824.3 3092.9L1827.2 3093.4L1830.1 3092.8L1833.0 3092.9L1836.0 3093.6L1838.9 3092.2L1841.8 3092.6L1844.7 3094.1L1847.7 3093.0L1850.6 3092.6L1853.5 3092.9L1856.4 3093.2L1859.4 3093.0L1862.3 3093.3L1865.2 3092.6L1868.1 3093.1L1871.1 3093.3L1874.0 3092.1L1876.9 3093.7L1879.8 3093.0L1882.8 3092.8L1885.7 3093.4L1888.6 3092.3L1891.6 3092.8L1894.5 3093.7L1897.4 3093.5L1900.3 3092.3L1903.3 3092.5L1906.2 3093.2L1909.1 3093.6L1912.0 3092.9L1915.0 3092.7L1917.9 3093.0L1920.8 3092.8L1923.7 3093.3L1926.7 3093.0L1929.6 3093.3L1932.5 3092.5L1935.4 3092.7L1938.4 3093.6L1941.3 3092.8L1944.2 3093.0L1947.1 3093.0L1950.1 3093.3L1953.0 3092.6L1955.9 3092.8L1958.9 3093.4L1961.8 3092.4L1963.2 3092.2L1964.7 3092.9L1966.2 3092.9L1967.6 3092.2L1969.1 3092.6L1970.6 3091.7L1972.0 3091.8L1973.5 3092.5L1974.9 3092.1L1976.4 3092.5L1977.9 3092.0L1979.3 3091.6L1979.9 3091.4L1980.5 3091.0L1981.1 3090.3L1981.7 3089.6L1982.3 3088.9L1982.8 3088.3L1983.4 3088.0L1984.0 3088.1L1984.6 3088.4L1985.2 3088.6L1985.8 3088.9L1986.4 3089.4L1986.9 3089.9L1987.5 3089.8L1988.1 3088.8L1988.7 3087.2L1989.3 3085.5L1989.9 3084.4L1990.5 3084.4L1991.0 3085.4L1991.6 3086.7L1992.2 3087.5L1992.8 3087.9L1993.4 3088.2L1994.0 3088.8L1994.5 3089.5L1995.1 3090.1L1995.7 3090.3L1996.3 3090.5L1996.9 3090.7L1997.5 3091.0L1998.1 3091.3L1998.6 3091.5L1999.2 3091.4L1999.8 3091.3L2000.4 3091.1L2001.0 3091.1L2001.6 3091.0L2002.2 3090.8L2003.6 3090.6L2005.1 3091.2L2006.5 3090.5L2008.0 3090.4L2009.5 3090.9L2010.9 3090.5L2012.4 3090.5L2013.9 3090.2L2015.3 3090.1L2016.8 3090.0L2018.2 3090.6L2019.7 3090.0L2022.6 3089.0L2025.6 3084.8L2027.3 3083.1L2028.5 3083.2L2031.4 3088.4L2034.3 3088.8L2037.3 3089.2L2040.2 3089.6L2043.1 3087.9L2046.0 3086.5L2049.0 3083.6L2051.9 3086.4L2054.8 3087.5L2057.8 3086.5L2060.7 3081.7L2063.6 3086.6L2066.5 3087.5L2069.5 3087.6L2072.4 3088.9L2075.3 3087.0L2078.2 3087.2L2081.2 3087.9L2084.1 3087.4L2087.0 3086.8L2089.9 3087.0L2092.9 3086.4L2095.8 3085.3L2098.7 3086.0L2101.6 3085.4L2104.6 3085.2L2107.5 3084.3L2110.4 3083.3L2113.3 3084.0L2116.3 3084.0L2119.2 3082.9L2122.1 3082.5L2125.0 3081.9L2128.0 3081.2L2130.9 3082.6L2133.8 3081.2L2136.8 3080.0L2139.7 3080.4L2142.6 3080.3L2145.5 3080.3L2148.5 3078.8L2151.4 3079.3L2154.3 3079.3L2157.2 3078.3L2160.2 3077.9L2163.1 3077.6L2166.0 3078.2L2168.9 3077.5L2171.9 3076.7L2174.8 3076.3L2177.7 3076.3L2180.6 3076.1L2183.6 3076.3L2186.5 3075.4L2189.4 3074.2L2192.3 3075.0L2195.3 3074.9L2198.2 3074.3L2201.1 3073.7L2204.1 3073.8L2207.0 3072.8L2209.9 3072.9L2212.8 3073.4L2215.8 3072.1L2218.7 3072.5L2221.6 3070.0L2224.5 3068.5L2227.5 3067.6L2230.4 3063.8L2233.3 3062.4L2236.2 3060.7L2239.2 3058.2L2242.1 3057.9L2245.0 3058.3L2247.9 3056.8" fill="none" stroke="#8800FF" stroke-width="8" stroke-linejoin="round" stroke-linecap="round"/>
<rect x="359.5" y="70.0" width="1865.5" height="1378.0" fill="none" stroke="#000" stroke-width="8.5" stroke-linejoin="miter"/>
<path d="M359.5 1448.0V1476.0 M406.1 1448.0V1462.0 M452.8 1448.0V1462.0 M499.4 1448.0V1462.0 M546.0 1448.0V1462.0 M592.7 1448.0V1476.0 M639.3 1448.0V1462.0 M686.0 1448.0V1462.0 M732.6 1448.0V1462.0 M779.2 1448.0V1462.0 M825.9 1448.0V1476.0 M872.5 1448.0V1462.0 M919.1 1448.0V1462.0 M965.8 1448.0V1462.0 M1012.4 1448.0V1462.0 M1059.1 1448.0V1476.0 M1105.7 1448.0V1462.0 M1152.3 1448.0V1462.0 M1199.0 1448.0V1462.0 M1245.6 1448.0V1462.0 M1292.2 1448.0V1476.0 M1338.9 1448.0V1462.0 M1385.5 1448.0V1462.0 M1432.2 1448.0V1462.0 M1478.8 1448.0V1462.0 M1525.4 1448.0V1476.0 M1572.1 1448.0V1462.0 M1618.7 1448.0V1462.0 M1665.3 1448.0V1462.0 M1712.0 1448.0V1462.0 M1758.6 1448.0V1476.0 M1805.3 1448.0V1462.0 M1851.9 1448.0V1462.0 M1898.5 1448.0V1462.0 M1945.2 1448.0V1462.0 M1991.8 1448.0V1476.0 M2038.5 1448.0V1462.0 M2085.1 1448.0V1462.0 M2131.7 1448.0V1462.0 M2178.4 1448.0V1462.0 M2225.0 1448.0V1476.0 M359.5 1448.0H331.5 M359.5 1333.2H345.5 M359.5 1218.3H331.5 M359.5 1103.5H345.5 M359.5 988.7H331.5 M359.5 873.8H345.5 M359.5 759.0H331.5 M359.5 644.2H345.5 M359.5 529.3H331.5 M359.5 414.5H345.5 M359.5 299.7H331.5 M359.5 184.8H345.5 M359.5 70.0H331.5" stroke="#000" stroke-width="8.0" fill="none"/>
<text transform="translate(359.5 1537) scale(1 1.04)" text-anchor="middle" class="tl">370</text>
<text transform="translate(592.7 1537) scale(1 1.04)" text-anchor="middle" class="tl">375</text>
<text transform="translate(825.9 1537) scale(1 1.04)" text-anchor="middle" class="tl">380</text>
<text transform="translate(1059.1 1537) scale(1 1.04)" text-anchor="middle" class="tl">385</text>
<text transform="translate(1292.2 1537) scale(1 1.04)" text-anchor="middle" class="tl">390</text>
<text transform="translate(1525.4 1537) scale(1 1.04)" text-anchor="middle" class="tl">395</text>
<text transform="translate(1758.6 1537) scale(1 1.04)" text-anchor="middle" class="tl">400</text>
<text transform="translate(1991.8 1537) scale(1 1.04)" text-anchor="middle" class="tl">405</text>
<text transform="translate(2225.0 1537) scale(1 1.04)" text-anchor="middle" class="tl">410</text>
<text transform="translate(312 1464.0) scale(1 1.04)" text-anchor="end" class="tl">0.0</text>
<text transform="translate(292.5 1240.3) scale(1 1.04)" text-anchor="end" class="tl">1.0x10</text>
<text transform="translate(311.5 1214.8) scale(1 1.04)" text-anchor="end" class="sp">5</text>
<text transform="translate(292.5 1010.7) scale(1 1.04)" text-anchor="end" class="tl">2.0x10</text>
<text transform="translate(311.5 985.2) scale(1 1.04)" text-anchor="end" class="sp">5</text>
<text transform="translate(292.5 781.0) scale(1 1.04)" text-anchor="end" class="tl">3.0x10</text>
<text transform="translate(311.5 755.5) scale(1 1.04)" text-anchor="end" class="sp">5</text>
<text transform="translate(292.5 551.3) scale(1 1.04)" text-anchor="end" class="tl">4.0x10</text>
<text transform="translate(311.5 525.8) scale(1 1.04)" text-anchor="end" class="sp">5</text>
<text transform="translate(292.5 321.7) scale(1 1.04)" text-anchor="end" class="tl">5.0x10</text>
<text transform="translate(311.5 296.2) scale(1 1.04)" text-anchor="end" class="sp">5</text>
<text transform="translate(292.5 92.0) scale(1 1.04)" text-anchor="end" class="tl">6.0x10</text>
<text transform="translate(311.5 66.5) scale(1 1.04)" text-anchor="end" class="sp">5</text>
<rect x="375.3" y="1721.0" width="1872.7" height="1377.0" fill="none" stroke="#000" stroke-width="8.5" stroke-linejoin="miter"/>
<path d="M375.3 3098.0V3126.0 M433.8 3098.0V3112.0 M492.3 3098.0V3112.0 M550.9 3098.0V3112.0 M609.4 3098.0V3112.0 M667.9 3098.0V3126.0 M726.4 3098.0V3112.0 M785.0 3098.0V3112.0 M843.5 3098.0V3112.0 M902.0 3098.0V3112.0 M960.5 3098.0V3126.0 M1019.0 3098.0V3112.0 M1077.6 3098.0V3112.0 M1136.1 3098.0V3112.0 M1194.6 3098.0V3112.0 M1253.1 3098.0V3126.0 M1311.7 3098.0V3112.0 M1370.2 3098.0V3112.0 M1428.7 3098.0V3112.0 M1487.2 3098.0V3112.0 M1545.7 3098.0V3126.0 M1604.3 3098.0V3112.0 M1662.8 3098.0V3112.0 M1721.3 3098.0V3112.0 M1779.8 3098.0V3112.0 M1838.3 3098.0V3126.0 M1896.9 3098.0V3112.0 M1955.4 3098.0V3112.0 M2013.9 3098.0V3112.0 M2072.4 3098.0V3112.0 M2131.0 3098.0V3126.0 M2189.5 3098.0V3112.0 M2248.0 3098.0V3112.0 M375.3 3098.0H347.3 M375.3 3011.9H361.3 M375.3 2925.9H347.3 M375.3 2839.8H361.3 M375.3 2753.8H347.3 M375.3 2667.7H361.3 M375.3 2581.6H347.3 M375.3 2495.6H361.3 M375.3 2409.5H347.3 M375.3 2323.4H361.3 M375.3 2237.4H347.3 M375.3 2151.3H361.3 M375.3 2065.2H347.3 M375.3 1979.2H361.3 M375.3 1893.1H347.3 M375.3 1807.1H361.3 M375.3 1721.0H347.3" stroke="#000" stroke-width="8.0" fill="none"/>
<text transform="translate(375.3 3187) scale(1 1.04)" text-anchor="middle" class="tl">250</text>
<text transform="translate(667.9 3187) scale(1 1.04)" text-anchor="middle" class="tl">300</text>
<text transform="translate(960.5 3187) scale(1 1.04)" text-anchor="middle" class="tl">350</text>
<text transform="translate(1253.1 3187) scale(1 1.04)" text-anchor="middle" class="tl">400</text>
<text transform="translate(1545.7 3187) scale(1 1.04)" text-anchor="middle" class="tl">450</text>
<text transform="translate(1838.3 3187) scale(1 1.04)" text-anchor="middle" class="tl">500</text>
<text transform="translate(2131.0 3187) scale(1 1.04)" text-anchor="middle" class="tl">550</text>
<text transform="translate(328 3113.5) scale(1 1.04)" text-anchor="end" class="tl">0.0</text>
<text transform="translate(307 2947.9) scale(1 1.04)" text-anchor="end" class="tl">1.0x10</text>
<text transform="translate(328 2922.4) scale(1 1.04)" text-anchor="end" class="sp">6</text>
<text transform="translate(307 2775.8) scale(1 1.04)" text-anchor="end" class="tl">2.0x10</text>
<text transform="translate(328 2750.2) scale(1 1.04)" text-anchor="end" class="sp">6</text>
<text transform="translate(307 2603.6) scale(1 1.04)" text-anchor="end" class="tl">3.0x10</text>
<text transform="translate(328 2578.1) scale(1 1.04)" text-anchor="end" class="sp">6</text>
<text transform="translate(307 2431.5) scale(1 1.04)" text-anchor="end" class="tl">4.0x10</text>
<text transform="translate(328 2406.0) scale(1 1.04)" text-anchor="end" class="sp">6</text>
<text transform="translate(307 2259.4) scale(1 1.04)" text-anchor="end" class="tl">5.0x10</text>
<text transform="translate(328 2233.9) scale(1 1.04)" text-anchor="end" class="sp">6</text>
<text transform="translate(307 2087.2) scale(1 1.04)" text-anchor="end" class="tl">6.0x10</text>
<text transform="translate(328 2061.8) scale(1 1.04)" text-anchor="end" class="sp">6</text>
<text transform="translate(307 1915.1) scale(1 1.04)" text-anchor="end" class="tl">7.0x10</text>
<text transform="translate(328 1889.6) scale(1 1.04)" text-anchor="end" class="sp">6</text>
<text transform="translate(307 1743.0) scale(1 1.04)" text-anchor="end" class="tl">8.0x10</text>
<text transform="translate(328 1717.5) scale(1 1.04)" text-anchor="end" class="sp">6</text>
<text transform="translate(1290 1645) scale(1 1.045)" text-anchor="middle" class="ti" textLength="529" lengthAdjust="spacing">Wavelength / nm</text>
<text transform="translate(1311 3294) scale(1 1.045)" text-anchor="middle" class="ti" textLength="529" lengthAdjust="spacing">Wavelength / nm</text>
<text transform="translate(98.5 1033.8) rotate(-90) scale(1 1.045)" x="-4" y="0" class="ti">Intensity / counts</text>
<text transform="translate(113.9 2683.6) rotate(-90) scale(1 1.045)" x="-4" y="0" class="ti">Intensity / counts</text>
<text x="443.3" y="143.9" class="lg" style="font-family:'Liberation Serif',serif;font-style:italic">λ</text>
<text transform="translate(475.3 164.5) scale(1 1.04)" style="font-size:46px">Em</text>
<text transform="translate(544.6 143.9) scale(1 1.04)" class="lg">= 617 nm</text>
<text transform="translate(440.5 246.6) scale(1 1.04)" class="lg">slit size: Ex = 0.5, Em = 8.0</text>
<line x1="440.3" y1="305.5" x2="592.7" y2="305.5" stroke="#000000" stroke-width="8" stroke-linecap="round"/>
<text transform="translate(613.5 329.0) scale(1 1.04)" class="lg">100 K</text>
<line x1="440.3" y1="389.3" x2="592.7" y2="389.3" stroke="#FF0000" stroke-width="8" stroke-linecap="round"/>
<text transform="translate(613.5 412.8) scale(1 1.04)" class="lg">150 K</text>
<line x1="440.3" y1="473.1" x2="592.7" y2="473.1" stroke="#00FF00" stroke-width="8" stroke-linecap="round"/>
<text transform="translate(613.5 496.6) scale(1 1.04)" class="lg">200 K</text>
<line x1="440.3" y1="556.9" x2="592.7" y2="556.9" stroke="#0000FF" stroke-width="8" stroke-linecap="round"/>
<text transform="translate(613.5 580.4) scale(1 1.04)" class="lg">250 K</text>
<line x1="440.3" y1="640.7" x2="592.7" y2="640.7" stroke="#FF00FF" stroke-width="8" stroke-linecap="round"/>
<text transform="translate(613.5 664.2) scale(1 1.04)" class="lg">300 K</text>
<line x1="440.3" y1="724.5" x2="592.7" y2="724.5" stroke="#960000" stroke-width="8" stroke-linecap="round"/>
<text transform="translate(613.5 748.0) scale(1 1.04)" class="lg">350 K</text>
<line x1="440.3" y1="808.3" x2="592.7" y2="808.3" stroke="#008000" stroke-width="8" stroke-linecap="round"/>
<text transform="translate(613.5 831.8) scale(1 1.04)" class="lg">400 K</text>
<line x1="440.3" y1="892.1" x2="592.7" y2="892.1" stroke="#FF8000" stroke-width="8" stroke-linecap="round"/>
<text transform="translate(613.5 915.6) scale(1 1.04)" class="lg">450 K</text>
<line x1="440.3" y1="975.9" x2="592.7" y2="975.9" stroke="#8800FF" stroke-width="8" stroke-linecap="round"/>
<text transform="translate(613.5 999.4) scale(1 1.04)" class="lg">500 K</text>
<text x="1349.3" y="1802.6" class="lg" style="font-family:'Liberation Serif',serif;font-style:italic">λ</text>
<text transform="translate(1381.3 1823.2) scale(1 1.04)" style="font-size:46px">Em</text>
<text transform="translate(1450.6 1802.6) scale(1 1.04)" class="lg">= 617 nm</text>
<text transform="translate(1346.5 1905.3) scale(1 1.04)" class="lg">slit size: Ex = 0.5, Em = 5.0</text>
<line x1="1346.3" y1="1964.2" x2="1498.7" y2="1964.2" stroke="#000000" stroke-width="8" stroke-linecap="round"/>
<text transform="translate(1519.5 1987.7) scale(1 1.04)" class="lg">100 K</text>
<line x1="1346.3" y1="2048.0" x2="1498.7" y2="2048.0" stroke="#FF0000" stroke-width="8" stroke-linecap="round"/>
<text transform="translate(1519.5 2071.5) scale(1 1.04)" class="lg">150 K</text>
<line x1="1346.3" y1="2131.8" x2="1498.7" y2="2131.8" stroke="#00FF00" stroke-width="8" stroke-linecap="round"/>
<text transform="translate(1519.5 2155.3) scale(1 1.04)" class="lg">200 K</text>
<line x1="1346.3" y1="2215.6" x2="1498.7" y2="2215.6" stroke="#0000FF" stroke-width="8" stroke-linecap="round"/>
<text transform="translate(1519.5 2239.1) scale(1 1.04)" class="lg">250 K</text>
<line x1="1346.3" y1="2299.4" x2="1498.7" y2="2299.4" stroke="#FF00FF" stroke-width="8" stroke-linecap="round"/>
<text transform="translate(1519.5 2322.9) scale(1 1.04)" class="lg">300 K</text>
<line x1="1346.3" y1="2383.2" x2="1498.7" y2="2383.2" stroke="#960000" stroke-width="8" stroke-linecap="round"/>
<text transform="translate(1519.5 2406.7) scale(1 1.04)" class="lg">350 K</text>
<line x1="1346.3" y1="2467.0" x2="1498.7" y2="2467.0" stroke="#008000" stroke-width="8" stroke-linecap="round"/>
<text transform="translate(1519.5 2490.5) scale(1 1.04)" class="lg">400 K</text>
<line x1="1346.3" y1="2550.8" x2="1498.7" y2="2550.8" stroke="#FF8000" stroke-width="8" stroke-linecap="round"/>
<text transform="translate(1519.5 2574.3) scale(1 1.04)" class="lg">450 K</text>
<line x1="1346.3" y1="2634.6" x2="1498.7" y2="2634.6" stroke="#8800FF" stroke-width="8" stroke-linecap="round"/>
<text transform="translate(1519.5 2658.1) scale(1 1.04)" class="lg">500 K</text>
<text class="an" transform="translate(1408.8 166.8) scale(1 1.04)" x="0" y="0" xml:space="preserve"><tspan class="s" y="-25.1">7</tspan><tspan y="0">F</tspan><tspan class="s" y="16.4">0</tspan><tspan y="0"> - </tspan><tspan class="s" y="-25.1">5</tspan><tspan y="0">L</tspan><tspan class="s" y="16.4">6</tspan></text>
<text class="an" transform="translate(640.7 1101.8) scale(1 1.04)" x="0" y="0" xml:space="preserve"><tspan class="s" y="-25.1">7</tspan><tspan y="0">F</tspan><tspan class="s" y="16.4">0</tspan><tspan y="0"> - </tspan><tspan class="s" y="-25.1">5</tspan><tspan y="0">G</tspan><tspan class="s" y="16.4">2-6</tspan></text>
<text class="an" transform="translate(535.7 2493.2) rotate(-90) scale(1 1.04)" x="0" y="0" xml:space="preserve"><tspan class="s" y="-25.1">7</tspan><tspan y="0">F</tspan><tspan class="s" y="16.4">0</tspan><tspan y="0"> - </tspan><tspan class="s" y="-25.1">5</tspan><tspan y="0">I</tspan><tspan class="s" y="16.4">4-6</tspan></text>
<text class="an" transform="translate(658.0 2384.7) rotate(-90) scale(1 1.04)" x="0" y="0" xml:space="preserve"><tspan class="s" y="-25.1">7</tspan><tspan y="0">F</tspan><tspan class="s" y="16.4">0</tspan><tspan y="0"> - </tspan><tspan class="s" y="-25.1">5</tspan><tspan y="0">F</tspan><tspan class="s" y="16.4">1-5</tspan></text>
<text class="an" transform="translate(754.5 2423.5) rotate(-90) scale(1 1.04)" x="0" y="0" xml:space="preserve"><tspan class="s" y="-25.1">7</tspan><tspan y="0">F</tspan><tspan class="s" y="16.4">0</tspan><tspan y="0"> - </tspan><tspan class="s" y="-25.1">3</tspan><tspan y="0">P</tspan><tspan class="s" y="16.4">0</tspan></text>
<text class="an" transform="translate(798.3 2671.6) rotate(-90) scale(1 1.04)" x="0" y="0" xml:space="preserve"><tspan class="s" y="-25.1">7</tspan><tspan y="0">F</tspan><tspan class="s" y="16.4">0</tspan><tspan y="0"> - </tspan><tspan class="s" y="-25.1">5</tspan><tspan y="0">H</tspan><tspan class="s" y="16.4">4-6</tspan></text>
<text class="an" transform="translate(1041.2 2830.7) rotate(-90) scale(1 1.04)" x="0" y="0" xml:space="preserve"><tspan class="s" y="-25.1">7</tspan><tspan y="0">F</tspan><tspan class="s" y="16.4">0</tspan><tspan y="0"> - </tspan><tspan class="s" y="-25.1">5</tspan><tspan y="0">D</tspan><tspan class="s" y="16.4">4</tspan></text>
<text class="an" transform="translate(1135.2 2803.6) rotate(-90) scale(1 1.04)" x="0" y="0" xml:space="preserve"><tspan class="s" y="-25.1">7</tspan><tspan y="0">F</tspan><tspan class="s" y="16.4">0</tspan><tspan y="0"> - </tspan><tspan class="s" y="-25.1">5</tspan><tspan y="0">G</tspan><tspan class="s" y="16.4">2-6</tspan></text>
<text class="an" transform="translate(1192.0 1932.8) rotate(-90) scale(1 1.04)" x="0" y="0" xml:space="preserve"><tspan class="s" y="-25.1">7</tspan><tspan y="0">F</tspan><tspan class="s" y="16.4">0</tspan><tspan y="0"> - </tspan><tspan class="s" y="-25.1">5</tspan><tspan y="0">L</tspan><tspan class="s" y="16.4">6</tspan></text>
<text class="an" transform="translate(1647.8 2919.7) rotate(-90) scale(1 1.04)" x="0" y="0" xml:space="preserve"><tspan class="s" y="-25.1">7</tspan><tspan y="0">F</tspan><tspan class="s" y="16.4">0</tspan><tspan y="0"> - </tspan><tspan class="s" y="-25.1">5</tspan><tspan y="0">D</tspan><tspan class="s" y="16.4">2</tspan></text>
<text class="an" transform="translate(2014.1 3006.3) rotate(-90) scale(1 1.04)" x="0" y="0" xml:space="preserve"><tspan class="s" y="-25.1">7</tspan><tspan y="0">F</tspan><tspan class="s" y="16.4">0</tspan><tspan y="0"> - </tspan><tspan class="s" y="-25.1">5</tspan><tspan y="0">D</tspan><tspan class="s" y="16.4">1</tspan></text>
<line x1="522.6" y1="2486.9" x2="580.4" y2="2830.8" stroke="#000" stroke-width="3"/>
<path d="M586.5 2867.3L570.5 2832.5L590.2 2829.2Z" fill="#000"/>
<line x1="625.9" y1="2403.0" x2="653.6" y2="2741.4" stroke="#000" stroke-width="3"/>
<path d="M656.6 2778.3L643.6 2742.2L663.6 2740.6Z" fill="#000"/>
<line x1="720.6" y1="2433.0" x2="692.1" y2="2942.1" stroke="#000" stroke-width="3"/>
<path d="M690.0 2979.0L682.1 2941.5L702.1 2942.6Z" fill="#000"/>
</svg></body></html>
